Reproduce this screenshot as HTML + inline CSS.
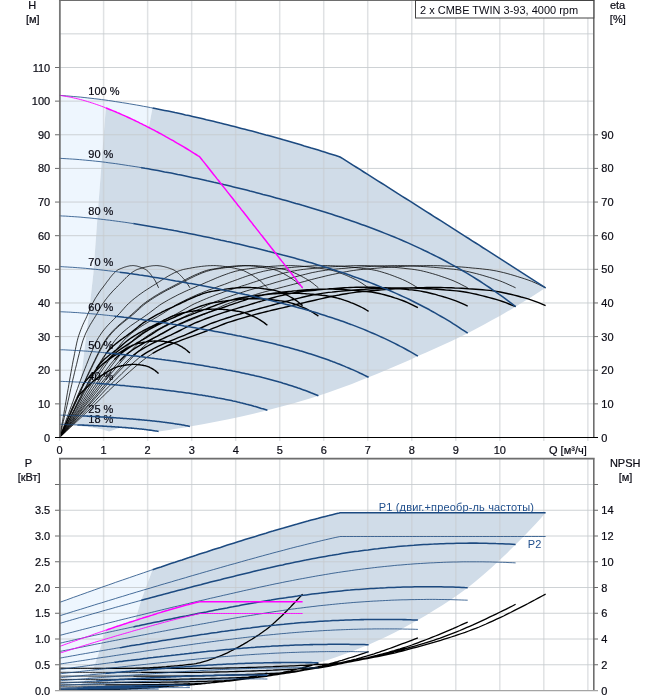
<!DOCTYPE html>
<html lang="ru"><head><meta charset="utf-8"><title>2 x CMBE TWIN 3-93</title>
<style>html,body{margin:0;padding:0;background:#fff}svg{display:block}</style></head>
<body><svg width="658" height="700" viewBox="0 0 658 700">
<rect width="658" height="700" fill="#fff"/>
<path d="M59.6,424.4 L59.6,95.4 L63.1,95.6 L66.6,95.9 L70.1,96.2 L73.6,96.5 L77.1,96.8 L80.6,97.1 L84.1,97.5 L87.6,97.9 L91.1,98.3 L94.6,98.7 L98.1,99.1 L101.6,99.6 L105.1,100.0 L108.5,100.5 L112.0,101.0 L115.5,101.6 L119.0,102.1 L122.5,102.7 L126.0,103.2 L129.5,103.8 L133.0,104.4 L136.5,105.0 L140.0,105.6 L143.5,106.3 L147.0,106.9 L150.5,107.6 L152.5,108.0 L148.8,127.5 L148.8,127.5 L147.0,126.6 L145.3,125.7 L143.5,124.8 L141.8,123.9 L140.0,123.1 L138.3,122.2 L136.5,121.3 L134.8,120.5 L133.0,119.7 L131.3,118.8 L129.5,118.0 L127.8,117.2 L126.0,116.4 L124.3,115.6 L122.5,114.9 L120.8,114.1 L119.0,113.3 L117.3,112.6 L115.5,111.8 L113.8,111.1 L112.0,110.4 L110.3,109.7 L108.5,109.0 L106.8,108.3 L105.8,107.9 L101.2,167.9 L97.0,223.7 L93.4,273.2 L88.6,316.5 L84.1,353.1 L80.5,383.6 L72.0,416.0 L69.1,424.9 L67.2,424.8 L65.3,424.6 L63.4,424.5 L61.5,424.4 L59.6,424.4Z" fill="#eef6fe"/>
<path d="M69.1,424.9 L72.0,416.0 L80.5,383.6 L84.1,353.1 L88.6,316.5 L93.4,273.2 L97.0,223.7 L101.2,167.9 L105.8,107.9 L106.8,108.3 L108.5,109.0 L110.3,109.7 L112.0,110.4 L113.8,111.1 L115.5,111.8 L117.3,112.6 L119.0,113.3 L120.8,114.1 L122.5,114.9 L124.3,115.6 L126.0,116.4 L127.8,117.2 L129.5,118.0 L131.3,118.8 L133.0,119.7 L134.8,120.5 L136.5,121.3 L138.3,122.2 L140.0,123.1 L141.8,123.9 L143.5,124.8 L145.3,125.7 L147.0,126.6 L148.8,127.5 L148.8,127.5 L152.5,108.0 L154.0,108.3 L157.5,109.0 L161.0,109.7 L164.5,110.4 L168.0,111.1 L171.5,111.8 L175.0,112.6 L178.5,113.3 L182.0,114.1 L185.5,114.9 L189.0,115.6 L192.5,116.4 L196.0,117.2 L199.5,118.0 L202.9,118.8 L206.4,119.7 L209.9,120.5 L213.4,121.3 L216.9,122.2 L220.4,123.1 L223.9,123.9 L227.4,124.8 L230.9,125.7 L234.4,126.6 L237.9,127.5 L241.4,128.4 L244.9,129.3 L248.4,130.2 L251.9,131.1 L255.4,132.0 L258.9,133.0 L262.4,133.9 L265.9,134.9 L269.4,135.8 L272.9,136.8 L276.4,137.8 L279.9,138.8 L283.4,139.8 L286.9,140.7 L290.4,141.8 L293.8,142.8 L297.3,143.8 L300.8,144.8 L304.3,145.9 L307.8,146.9 L311.3,148.0 L314.8,149.0 L318.3,150.1 L321.8,151.2 L325.3,152.3 L328.8,153.4 L332.3,154.5 L335.8,155.6 L339.3,156.7 L340.0,157.0 L342.8,158.7 L346.3,160.9 L349.8,163.1 L353.3,165.3 L356.8,167.5 L360.3,169.7 L363.8,172.0 L367.3,174.2 L370.8,176.4 L374.3,178.6 L377.8,180.8 L381.3,183.0 L384.8,185.2 L388.2,187.4 L391.7,189.6 L395.2,191.9 L398.7,194.1 L402.2,196.3 L405.7,198.5 L409.2,200.7 L412.7,202.9 L416.2,205.2 L419.7,207.4 L423.2,209.6 L426.7,211.8 L430.2,214.0 L433.7,216.3 L437.2,218.5 L440.7,220.7 L444.2,222.9 L447.7,225.2 L451.2,227.4 L454.7,229.6 L458.2,231.9 L461.7,234.1 L465.2,236.3 L468.7,238.5 L472.2,240.8 L475.7,243.0 L479.2,245.2 L482.6,247.5 L486.1,249.7 L489.6,251.9 L493.1,254.2 L496.6,256.4 L500.1,258.7 L503.6,260.9 L507.1,263.1 L510.6,265.4 L514.1,267.6 L517.6,269.9 L521.1,272.1 L524.6,274.3 L528.1,276.6 L531.6,278.8 L535.1,281.1 L538.6,283.3 L542.1,285.6 L545.6,287.8 L540.6,291.1 L535.6,294.3 L530.6,297.4 L525.6,300.5 L520.6,303.6 L515.6,306.7 L507.7,311.3 L499.7,315.9 L491.7,320.3 L483.7,324.7 L475.7,329.0 L467.7,333.2 L459.4,337.2 L451.1,341.2 L442.8,345.0 L434.5,348.8 L426.2,352.5 L417.9,356.1 L409.7,359.9 L401.5,363.5 L393.3,367.1 L385.1,370.6 L376.8,374.0 L368.6,377.3 L360.3,380.6 L351.9,383.9 L343.5,387.0 L335.2,390.0 L326.8,393.0 L318.4,395.8 L309.9,398.4 L301.4,400.9 L292.9,403.4 L284.4,405.8 L275.9,408.1 L267.4,410.3 L254.5,413.4 L241.5,416.4 L228.6,419.2 L215.7,421.8 L202.8,424.2 L189.9,426.4 L184.7,427.4 L179.5,428.3 L174.3,429.1 L169.1,429.9 L163.9,430.7 L158.6,431.4 L158.6,431.4 L157.9,431.3 L157.2,431.2 L156.5,431.1 L155.8,431.0 L155.1,430.9 L154.4,430.8 L153.7,430.7 L152.9,430.5 L152.2,430.4 L151.5,430.3 L150.8,430.2 L150.1,430.1 L149.4,430.1 L148.7,430.0 L148.0,429.9 L147.2,429.8 L146.5,429.7 L145.8,429.6 L145.1,429.5 L144.4,429.4 L143.7,429.3 L143.0,429.3 L142.3,429.2 L141.5,429.1 L140.8,429.0 L140.1,428.9 L139.4,428.9 L138.7,428.8 L138.0,428.7 L137.3,428.7 L136.6,428.6 L135.8,428.5 L135.1,428.4 L134.4,428.4 L133.7,428.3 L133.0,428.2 L132.3,428.2 L131.6,428.1 L130.9,428.1 L130.1,428.0 L129.4,427.9 L128.7,427.9 L128.0,427.8 L127.3,427.8 L126.6,427.7 L125.9,427.6 L125.2,427.6 L124.4,427.5 L123.7,427.5 L123.0,427.4 L122.3,427.4 L121.6,427.3 L109.1,431.4 L107.0,430.8 L104.9,430.2 L102.8,429.6 L100.7,429.1 L98.6,428.7 L96.5,428.3 L94.4,427.9 L92.3,427.6 L90.2,427.2 L88.0,427.0 L85.9,426.7 L83.8,426.4 L81.7,426.2 L79.6,425.9 L77.5,425.7 L75.4,425.5 L73.3,425.3 L71.2,425.1Z" fill="#d0dce8"/>
<path d="M59.6,690.5 L59.6,602.4 L63.1,601.1 L66.6,599.9 L70.1,598.6 L73.6,597.3 L77.1,596.1 L80.6,594.8 L84.1,593.6 L87.6,592.3 L91.1,591.1 L94.6,589.8 L98.1,588.6 L101.6,587.3 L105.1,586.1 L108.5,584.9 L112.0,583.7 L115.5,582.4 L119.0,581.2 L122.5,580.0 L126.0,578.8 L129.5,577.6 L133.0,576.4 L136.5,575.2 L140.0,574.0 L143.5,572.8 L147.0,571.6 L150.5,570.4 L152.5,569.7 L141.1,600.4 L135.2,620.5 L134.8,620.6 L133.0,621.2 L131.3,621.7 L129.5,622.3 L127.8,622.9 L126.0,623.5 L124.3,624.0 L122.5,624.6 L120.8,625.2 L119.0,625.8 L117.3,626.3 L115.5,626.9 L113.8,627.5 L112.0,628.1 L110.3,628.7 L108.5,629.3 L106.8,629.9 L105.8,630.2 L101.2,645.2 L97.0,658.6 L93.4,668.5 L88.6,676.2 L84.1,681.8 L80.5,685.6 L72.0,688.9 L69.1,689.5 L67.2,690.5 L65.3,690.5 L63.4,690.5 L61.5,690.5 L59.6,690.5Z" fill="#eef6fe"/>
<path d="M69.1,689.5 L72.0,688.9 L80.5,685.6 L84.1,681.8 L88.6,676.2 L93.4,668.5 L97.0,658.6 L101.2,645.2 L105.8,630.2 L106.8,629.9 L108.5,629.3 L110.3,628.7 L112.0,628.1 L113.8,627.5 L115.5,626.9 L117.3,626.3 L119.0,625.8 L120.8,625.2 L122.5,624.6 L124.3,624.0 L126.0,623.5 L127.8,622.9 L129.5,622.3 L131.3,621.7 L133.0,621.2 L134.8,620.6 L135.2,620.5 L141.1,600.4 L152.5,569.7 L154.0,569.2 L157.5,568.0 L161.0,566.9 L164.5,565.7 L168.0,564.5 L171.5,563.3 L175.0,562.2 L178.5,561.0 L182.0,559.9 L185.5,558.7 L189.0,557.6 L192.5,556.4 L196.0,555.3 L199.5,554.1 L202.9,553.0 L206.4,551.9 L209.9,550.7 L213.4,549.6 L216.9,548.5 L220.4,547.4 L223.9,546.2 L227.4,545.1 L230.9,544.0 L234.4,542.9 L237.9,541.8 L241.4,540.7 L244.9,539.6 L248.4,538.5 L251.9,537.4 L255.4,536.4 L258.9,535.3 L262.4,534.2 L265.9,533.2 L269.4,532.1 L272.9,531.1 L276.4,530.0 L279.9,529.0 L283.4,528.0 L286.9,526.9 L290.4,525.9 L293.8,524.9 L297.3,524.0 L300.8,523.0 L304.3,522.0 L307.8,521.1 L311.3,520.1 L314.8,519.2 L318.3,518.3 L321.8,517.3 L325.3,516.4 L328.8,515.6 L332.3,514.7 L335.8,513.8 L339.3,513.0 L340.0,512.8 L342.8,512.8 L346.3,512.8 L349.8,512.8 L353.3,512.8 L356.8,512.8 L360.3,512.8 L363.8,512.8 L367.3,512.8 L370.8,512.8 L374.3,512.8 L377.8,512.8 L381.3,512.8 L384.8,512.8 L388.2,512.8 L391.7,512.8 L395.2,512.8 L398.7,512.8 L402.2,512.8 L405.7,512.8 L409.2,512.8 L412.7,512.8 L416.2,512.8 L419.7,512.8 L423.2,512.8 L426.7,512.8 L430.2,512.8 L433.7,512.8 L437.2,512.8 L440.7,512.8 L444.2,512.8 L447.7,512.8 L451.2,512.8 L454.7,512.8 L458.2,512.8 L461.7,512.8 L465.2,512.8 L468.7,512.8 L472.2,512.8 L475.7,512.8 L479.2,512.8 L482.6,512.8 L486.1,512.8 L489.6,512.8 L493.1,512.8 L496.6,512.8 L500.1,512.8 L503.6,512.8 L507.1,512.8 L510.6,512.8 L514.1,512.8 L517.6,512.8 L521.1,512.8 L524.6,512.8 L528.1,512.8 L531.6,512.8 L535.1,512.8 L538.6,512.8 L542.1,512.8 L545.6,512.8 L540.6,518.4 L535.6,523.9 L530.6,529.2 L525.6,534.4 L520.6,539.5 L515.6,544.5 L507.7,552.4 L499.7,560.1 L491.7,567.4 L483.7,574.4 L475.7,581.2 L467.7,587.7 L459.4,593.7 L451.1,599.4 L442.8,604.9 L434.5,610.1 L426.2,615.2 L417.9,620.0 L409.7,624.6 L401.5,629.0 L393.3,633.3 L385.1,637.3 L376.8,641.1 L368.6,644.7 L360.3,648.1 L351.9,651.4 L343.5,654.5 L335.2,657.4 L326.8,660.2 L318.4,662.8 L309.9,665.1 L301.4,667.4 L292.9,669.5 L284.4,671.5 L275.9,673.4 L267.4,675.1 L254.5,677.3 L241.5,679.3 L228.6,681.0 L215.7,682.7 L202.8,684.1 L189.9,685.4 L184.7,685.8 L179.5,686.1 L174.3,686.5 L169.1,686.8 L163.9,687.1 L158.6,687.5 L158.6,687.5 L157.9,687.5 L157.2,687.4 L156.5,687.4 L155.8,687.4 L155.1,687.4 L154.4,687.4 L153.7,687.4 L152.9,687.4 L152.2,687.4 L151.5,687.4 L150.8,687.4 L150.1,687.4 L149.4,687.4 L148.7,687.4 L148.0,687.4 L147.2,687.4 L146.5,687.4 L145.8,687.4 L145.1,687.4 L144.4,687.4 L143.7,687.4 L143.0,687.4 L142.3,687.4 L141.5,687.4 L140.8,687.4 L140.1,687.5 L139.4,687.5 L138.7,687.5 L138.0,687.5 L137.3,687.5 L136.6,687.5 L135.8,687.5 L135.1,687.5 L134.4,687.5 L133.7,687.5 L133.0,687.5 L132.3,687.5 L131.6,687.5 L130.9,687.5 L130.1,687.5 L129.4,687.5 L128.7,687.5 L128.0,687.6 L127.3,687.6 L126.6,687.6 L125.9,687.6 L125.2,687.6 L124.4,687.6 L123.7,687.6 L123.0,687.6 L122.3,687.6 L121.6,687.6 L109.1,689.0 L107.0,689.0 L104.9,689.0 L102.8,689.0 L100.7,689.0 L98.6,689.0 L96.5,689.0 L94.4,689.0 L92.3,689.0 L90.2,689.1 L88.0,689.1 L85.9,689.1 L83.8,689.2 L81.7,689.2 L79.6,689.3 L77.5,689.3 L75.4,689.4 L73.3,689.4 L71.2,689.5Z" fill="#d0dce8"/>
<path d="M59.60,0V441 M59.60,458.5V690.5 M103.62,0V441 M103.62,458.5V690.5 M147.64,0V441 M147.64,458.5V690.5 M191.66,0V441 M191.66,458.5V690.5 M235.68,0V441 M235.68,458.5V690.5 M279.70,0V441 M279.70,458.5V690.5 M323.72,0V441 M323.72,458.5V690.5 M367.74,0V441 M367.74,458.5V690.5 M411.76,0V441 M411.76,458.5V690.5 M455.78,0V441 M455.78,458.5V690.5 M499.80,0V441 M499.80,458.5V690.5 M543.82,0V441 M543.82,458.5V690.5 M587.84,0V441 M587.84,458.5V690.5" stroke="#c6cace" stroke-opacity=".55" stroke-width="1.5" fill="none"/>
<path d="M59.6,403.86H593.6 M59.6,370.23H593.6 M59.6,336.59H593.6 M59.6,302.96H593.6 M59.6,269.32H593.6 M59.6,235.68H593.6 M59.6,202.05H593.6 M59.6,168.41H593.6 M59.6,134.78H593.6 M59.6,101.14H593.6 M59.6,67.50H593.6 M59.6,33.87H593.6 M59.6,0.23H593.6 M59.6,664.75H593.6 M59.6,639.00H593.6 M59.6,613.25H593.6 M59.6,587.50H593.6 M59.6,561.75H593.6 M59.6,536.00H593.6 M59.6,510.25H593.6 M59.6,484.50H593.6 M59.6,458.75H593.6" stroke="#c6cace" stroke-opacity=".85" stroke-width="1" fill="none"/>
<g font-family="Liberation Sans, Arial, sans-serif" font-size="11" fill="#0a0a14" stroke="#0a0a14" stroke-width=".2"><text x="88.3" y="95.2">100 %</text><text x="88.3" y="157.6">90 %</text><text x="88.3" y="215.1">80 %</text><text x="88.3" y="265.8">70 %</text><text x="88.3" y="310.7">60 %</text><text x="88.3" y="348.5">50 %</text><text x="88.3" y="379.9">40 %</text><text x="88.3" y="413.4">25 %</text><text x="88.3" y="422.6">18 %</text></g>
<path d="M59.6,437.5 L63.1,433.7 L66.6,429.8 L70.1,426.0 L73.6,422.2 L77.1,418.3 L80.6,414.4 L84.1,410.6 L87.6,406.7 L91.1,402.8 L94.6,398.8 L98.1,394.8 L101.6,390.8 L105.1,386.8 L108.5,382.8 L112.0,378.8 L115.5,375.0 L119.0,371.3 L122.5,367.7 L126.0,364.1 L129.5,360.4 L133.0,356.8 L136.5,353.3 L140.0,349.8 L143.5,346.6 L147.0,343.5 L150.5,340.6 L154.0,338.0 L157.5,335.8 L161.0,333.7 L164.5,331.8 L168.0,329.9 L171.5,328.2 L175.0,326.6 L178.5,325.0 L182.0,323.5 L185.5,322.1 L189.0,320.6 L192.5,319.2 L196.0,317.8 L199.5,316.3 L202.9,314.8 L206.4,313.3 L209.9,311.7 L213.4,310.1 L216.9,308.5 L220.4,306.9 L223.9,305.3 L227.4,303.9 L230.9,302.6 L234.4,301.3 L237.9,300.1 L241.4,299.0 L244.9,297.8 L248.4,296.7 L251.9,295.6 L255.4,294.6 L258.9,293.5 L262.4,292.5 L265.9,291.5 L269.4,290.6 L272.9,289.6 L276.4,288.7 L279.9,287.8 L283.4,286.9 L286.9,286.0 L290.4,285.1 L293.8,284.2 L297.3,283.3 L300.8,282.4 L304.3,281.5 L307.8,280.5 L311.3,279.6 L314.8,278.7 L318.3,277.8 L321.8,277.0 L325.3,276.1 L328.8,275.3 L332.3,274.5 L335.8,273.8 L339.3,273.0 L340.0,272.9 L342.8,272.3 L346.3,271.7 L349.8,271.0 L353.3,270.5 L356.8,270.0 L360.3,269.6 L363.8,269.3 L367.3,269.0 L370.8,268.7 L374.3,268.4 L377.8,268.1 L381.3,267.8 L384.8,267.5 L388.2,267.3 L391.7,267.0 L395.2,266.8 L398.7,266.6 L402.2,266.4 L405.7,266.2 L409.2,266.0 L412.7,265.9 L416.2,265.8 L419.7,265.7 L423.2,265.7 L426.7,265.6 L430.2,265.6 L433.7,265.7 L437.2,265.7 L440.7,265.8 L444.2,266.0 L447.7,266.1 L451.2,266.3 L454.7,266.5 L458.2,266.8 L461.7,267.0 L465.2,267.3 L468.7,267.6 L472.2,268.0 L475.7,268.3 L479.2,268.6 L482.6,269.0 L486.1,269.4 L489.6,269.8 L493.1,270.4 L496.6,271.0 L500.1,271.8 L503.6,272.6 L507.1,273.5 L510.6,274.5 L514.1,275.5 L517.6,276.6 L521.1,277.7 L524.6,278.8 L528.1,280.0 L531.6,281.3 L535.1,282.8 L538.6,284.4 L542.1,286.1 L545.6,287.8 M59.6,437.5 L63.1,434.3 L66.6,431.0 L70.1,427.7 L73.6,424.5 L77.1,421.2 L80.6,417.9 L84.1,414.6 L87.6,411.3 L91.1,408.0 L94.6,404.6 L98.1,401.2 L101.6,397.8 L105.1,394.3 L108.5,390.9 L112.0,387.6 L115.5,384.3 L119.0,381.1 L122.5,378.1 L126.0,374.9 L129.5,371.8 L133.0,368.7 L136.5,365.7 L140.0,362.7 L143.5,359.9 L147.0,357.2 L150.5,354.8 L152.5,353.5 M59.6,437.5 L62.9,433.5 L66.2,429.5 L69.4,425.5 L72.7,421.4 L76.0,417.4 L79.3,413.4 L82.6,409.3 L85.8,405.2 L89.1,401.2 L92.4,397.0 L95.7,392.8 L99.0,388.6 L102.3,384.4 L105.5,380.2 L108.8,376.2 L112.1,372.3 L115.4,368.5 L118.7,364.7 L121.9,360.9 L125.2,357.1 L128.5,353.4 L131.8,349.8 L135.1,346.4 L138.3,343.1 L141.6,340.2 L144.9,337.6 L148.2,335.3 L151.5,333.1 L154.7,331.1 L158.0,329.3 L161.3,327.5 L164.6,325.8 L167.9,324.2 L171.2,322.7 L174.4,321.2 L177.7,319.7 L181.0,318.2 L184.3,316.7 L187.6,315.1 L190.8,313.6 L194.1,311.9 L197.4,310.2 L200.7,308.5 L204.0,306.8 L207.2,305.2 L210.5,303.7 L213.8,302.4 L217.1,301.1 L220.4,299.8 L223.6,298.6 L226.9,297.4 L230.2,296.3 L233.5,295.1 L236.8,294.0 L240.1,293.0 L243.3,291.9 L246.6,290.9 L249.9,289.9 L253.2,289.0 L256.5,288.0 L259.7,287.1 L263.0,286.1 L266.3,285.2 L269.6,284.3 L272.9,283.3 L276.1,282.3 L279.4,281.4 L282.7,280.4 L286.0,279.5 L289.3,278.5 L292.5,277.6 L295.8,276.7 L299.1,275.8 L302.4,275.0 L305.7,274.2 L308.9,273.4 L312.2,272.6 L315.5,272.0 L318.8,271.3 L322.1,270.8 L325.4,270.3 L328.6,269.8 L331.9,269.4 L335.2,269.1 L338.5,268.8 L341.8,268.5 L345.0,268.3 L348.3,268.0 L351.6,267.7 L354.9,267.5 L358.2,267.2 L361.4,267.0 L364.7,266.8 L368.0,266.6 L371.3,266.4 L374.6,266.2 L377.8,266.1 L381.1,265.9 L384.4,265.8 L387.7,265.7 L391.0,265.7 L394.3,265.6 L397.5,265.6 L400.8,265.6 L404.1,265.7 L407.4,265.8 L410.7,265.9 L413.9,266.0 L417.2,266.2 L420.5,266.4 L423.8,266.6 L427.1,266.8 L430.3,267.1 L433.6,267.3 L436.9,267.6 L440.2,267.9 L443.5,268.2 L446.7,268.6 L450.0,268.9 L453.3,269.2 L456.6,269.6 L459.9,270.1 L463.2,270.6 L466.4,271.3 L469.7,272.0 L473.0,272.8 L476.3,273.6 L479.6,274.5 L482.8,275.4 L486.1,276.4 L489.4,277.4 L492.7,278.4 L496.0,279.5 L499.2,280.6 L502.5,281.9 L505.8,283.3 L509.1,284.8 L512.4,286.3 L515.6,287.8 M59.6,437.5 L62.9,434.2 L66.2,430.9 L69.4,427.6 L72.7,424.3 L76.0,420.9 L79.3,417.6 L82.6,414.2 L85.8,410.8 L89.1,407.4 L92.4,403.9 L95.7,400.4 L99.0,396.9 L102.3,393.3 L105.5,389.9 L108.8,386.5 L112.1,383.2 L115.4,380.0 L118.7,376.8 L121.9,373.5 L125.2,370.3 L128.5,367.2 L131.8,364.1 L135.1,361.2 L138.3,358.4 L141.1,356.3 M59.6,437.5 L62.5,433.5 L65.5,429.5 L68.4,425.5 L71.3,421.4 L74.3,417.4 L77.2,413.4 L80.2,409.3 L83.1,405.2 L86.0,401.2 L89.0,397.0 L91.9,392.8 L94.8,388.6 L97.8,384.4 L100.7,380.2 L103.6,376.2 L106.6,372.3 L109.5,368.5 L112.4,364.7 L115.4,360.9 L118.3,357.1 L121.3,353.4 L124.2,349.8 L127.1,346.4 L130.1,343.1 L133.0,340.2 L135.9,337.6 L138.9,335.3 L141.8,333.1 L144.7,331.1 L147.7,329.3 L150.6,327.5 L153.5,325.8 L156.5,324.2 L159.4,322.7 L162.4,321.2 L165.3,319.7 L168.2,318.2 L171.2,316.7 L174.1,315.1 L177.0,313.6 L180.0,311.9 L182.9,310.2 L185.8,308.5 L188.8,306.8 L191.7,305.2 L194.6,303.7 L197.6,302.4 L200.5,301.1 L203.5,299.8 L206.4,298.6 L209.3,297.4 L212.3,296.3 L215.2,295.1 L218.1,294.0 L221.1,293.0 L224.0,291.9 L226.9,290.9 L229.9,289.9 L232.8,289.0 L235.7,288.0 L238.7,287.1 L241.6,286.1 L244.6,285.2 L247.5,284.3 L250.4,283.3 L253.4,282.3 L256.3,281.4 L259.2,280.4 L262.2,279.5 L265.1,278.5 L268.0,277.6 L271.0,276.7 L273.9,275.8 L276.8,275.0 L279.8,274.2 L282.7,273.4 L285.7,272.6 L288.6,272.0 L291.5,271.3 L294.5,270.8 L297.4,270.3 L300.3,269.8 L303.3,269.4 L306.2,269.1 L309.1,268.8 L312.1,268.5 L315.0,268.3 L317.9,268.0 L320.9,267.7 L323.8,267.5 L326.8,267.2 L329.7,267.0 L332.6,266.8 L335.6,266.6 L338.5,266.4 L341.4,266.2 L344.4,266.1 L347.3,265.9 L350.2,265.8 L353.2,265.7 L356.1,265.7 L359.0,265.6 L362.0,265.6 L364.9,265.6 L367.9,265.7 L370.8,265.8 L373.7,265.9 L376.7,266.0 L379.6,266.2 L382.5,266.4 L385.5,266.6 L388.4,266.8 L391.3,267.1 L394.3,267.3 L397.2,267.6 L400.1,267.9 L403.1,268.2 L406.0,268.6 L409.0,268.9 L411.9,269.2 L414.8,269.6 L417.8,270.1 L420.7,270.6 L423.6,271.3 L426.6,272.0 L429.5,272.8 L432.4,273.6 L435.4,274.5 L438.3,275.4 L441.2,276.4 L444.2,277.4 L447.1,278.4 L450.1,279.5 L453.0,280.6 L455.9,281.9 L458.9,283.3 L461.8,284.8 L464.7,286.3 L467.7,287.8 M59.6,437.5 L62.5,434.2 L65.5,430.9 L68.4,427.5 L71.3,424.2 L74.3,420.8 L77.2,417.5 L80.2,414.1 L83.1,410.7 L86.0,407.3 L89.0,403.8 L91.9,400.2 L94.8,396.7 L97.8,393.1 L100.7,389.7 L103.6,386.2 L106.6,382.9 L109.5,379.7 L112.4,376.5 L115.4,373.2 L118.3,370.0 L121.3,366.8 L124.2,363.8 L127.1,360.8 L130.1,358.1 L133.0,355.5 L133.3,355.3 M59.6,437.5 L62.2,433.5 L64.8,429.5 L67.3,425.5 L69.9,421.4 L72.5,417.4 L75.1,413.4 L77.6,409.3 L80.2,405.2 L82.8,401.2 L85.4,397.0 L88.0,392.8 L90.5,388.6 L93.1,384.4 L95.7,380.2 L98.3,376.2 L100.8,372.3 L103.4,368.5 L106.0,364.7 L108.6,360.9 L111.2,357.1 L113.7,353.4 L116.3,349.8 L118.9,346.4 L121.5,343.1 L124.0,340.2 L126.6,337.6 L129.2,335.3 L131.8,333.1 L134.4,331.1 L136.9,329.3 L139.5,327.5 L142.1,325.8 L144.7,324.2 L147.2,322.7 L149.8,321.2 L152.4,319.7 L155.0,318.2 L157.6,316.7 L160.1,315.1 L162.7,313.6 L165.3,311.9 L167.9,310.2 L170.4,308.5 L173.0,306.8 L175.6,305.2 L178.2,303.7 L180.8,302.4 L183.3,301.1 L185.9,299.8 L188.5,298.6 L191.1,297.4 L193.6,296.3 L196.2,295.1 L198.8,294.0 L201.4,293.0 L204.0,291.9 L206.5,290.9 L209.1,289.9 L211.7,289.0 L214.3,288.0 L216.8,287.1 L219.4,286.1 L222.0,285.2 L224.6,284.3 L227.2,283.3 L229.7,282.3 L232.3,281.4 L234.9,280.4 L237.5,279.5 L240.1,278.5 L242.6,277.6 L245.2,276.7 L247.8,275.8 L250.4,275.0 L252.9,274.2 L255.5,273.4 L258.1,272.6 L260.7,272.0 L263.3,271.3 L265.8,270.8 L268.4,270.3 L271.0,269.8 L273.6,269.4 L276.1,269.1 L278.7,268.8 L281.3,268.5 L283.9,268.3 L286.5,268.0 L289.0,267.7 L291.6,267.5 L294.2,267.2 L296.8,267.0 L299.3,266.8 L301.9,266.6 L304.5,266.4 L307.1,266.2 L309.7,266.1 L312.2,265.9 L314.8,265.8 L317.4,265.7 L320.0,265.7 L322.5,265.6 L325.1,265.6 L327.7,265.6 L330.3,265.7 L332.9,265.8 L335.4,265.9 L338.0,266.0 L340.6,266.2 L343.2,266.4 L345.7,266.6 L348.3,266.8 L350.9,267.1 L353.5,267.3 L356.1,267.6 L358.6,267.9 L361.2,268.2 L363.8,268.6 L366.4,268.9 L368.9,269.2 L371.5,269.6 L374.1,270.1 L376.7,270.6 L379.3,271.3 L381.8,272.0 L384.4,272.8 L387.0,273.6 L389.6,274.5 L392.1,275.4 L394.7,276.4 L397.3,277.4 L399.9,278.4 L402.5,279.5 L405.0,280.6 L407.6,281.9 L410.2,283.3 L412.8,284.8 L415.3,286.3 L417.9,287.8 M59.6,437.5 L62.2,434.2 L64.8,431.0 L67.3,427.7 L69.9,424.4 L72.5,421.0 L75.1,417.7 L77.6,414.4 L80.2,411.0 L82.8,407.6 L85.4,404.2 L88.0,400.7 L90.5,397.2 L93.1,393.7 L95.7,390.3 L98.3,386.9 L100.8,383.6 L103.4,380.4 L106.0,377.3 L108.6,374.0 L111.2,370.9 L113.7,367.7 L116.3,364.7 L118.9,361.8 L119.6,361.0 M59.6,437.5 L61.8,433.5 L64.0,429.5 L66.3,425.5 L68.5,421.4 L70.7,417.4 L72.9,413.4 L75.2,409.3 L77.4,405.2 L79.6,401.2 L81.8,397.0 L84.1,392.8 L86.3,388.6 L88.5,384.4 L90.7,380.2 L92.9,376.2 L95.2,372.3 L97.4,368.5 L99.6,364.7 L101.8,360.9 L104.1,357.1 L106.3,353.4 L108.5,349.8 L110.7,346.4 L113.0,343.1 L115.2,340.2 L117.4,337.6 L119.6,335.3 L121.8,333.1 L124.1,331.1 L126.3,329.3 L128.5,327.5 L130.7,325.8 L133.0,324.2 L135.2,322.7 L137.4,321.2 L139.6,319.7 L141.9,318.2 L144.1,316.7 L146.3,315.1 L148.5,313.6 L150.7,311.9 L153.0,310.2 L155.2,308.5 L157.4,306.8 L159.6,305.2 L161.9,303.7 L164.1,302.4 L166.3,301.1 L168.5,299.8 L170.8,298.6 L173.0,297.4 L175.2,296.3 L177.4,295.1 L179.7,294.0 L181.9,293.0 L184.1,291.9 L186.3,290.9 L188.5,289.9 L190.8,289.0 L193.0,288.0 L195.2,287.1 L197.4,286.1 L199.7,285.2 L201.9,284.3 L204.1,283.3 L206.3,282.3 L208.6,281.4 L210.8,280.4 L213.0,279.5 L215.2,278.5 L217.4,277.6 L219.7,276.7 L221.9,275.8 L224.1,275.0 L226.3,274.2 L228.6,273.4 L230.8,272.6 L233.0,272.0 L235.2,271.3 L237.5,270.8 L239.7,270.3 L241.9,269.8 L244.1,269.4 L246.3,269.1 L248.6,268.8 L250.8,268.5 L253.0,268.3 L255.2,268.0 L257.5,267.7 L259.7,267.5 L261.9,267.2 L264.1,267.0 L266.4,266.8 L268.6,266.6 L270.8,266.4 L273.0,266.2 L275.2,266.1 L277.5,265.9 L279.7,265.8 L281.9,265.7 L284.1,265.7 L286.4,265.6 L288.6,265.6 L290.8,265.6 L293.0,265.7 L295.3,265.8 L297.5,265.9 L299.7,266.0 L301.9,266.2 L304.1,266.4 L306.4,266.6 L308.6,266.8 L310.8,267.1 L313.0,267.3 L315.3,267.6 L317.5,267.9 L319.7,268.2 L321.9,268.6 L324.2,268.9 L326.4,269.2 L328.6,269.6 L330.8,270.1 L333.0,270.6 L335.3,271.3 L337.5,272.0 L339.7,272.8 L341.9,273.6 L344.2,274.5 L346.4,275.4 L348.6,276.4 L350.8,277.4 L353.1,278.4 L355.3,279.5 L357.5,280.6 L359.7,281.9 L362.0,283.3 L364.2,284.8 L366.4,286.3 L368.6,287.8 M59.6,437.5 L61.8,434.3 L64.0,431.1 L66.3,427.9 L68.5,424.7 L70.7,421.5 L72.9,418.3 L75.2,415.0 L77.4,411.8 L79.6,408.5 L81.8,405.1 L84.1,401.7 L86.3,398.3 L88.5,394.9 L90.7,391.6 L92.9,388.3 L95.2,385.1 L97.4,382.0 L99.6,378.9 L101.8,375.8 L104.1,372.7 L106.3,369.7 L108.5,366.7 L110.7,363.9 L113.0,361.2 L114.3,359.7 M59.6,437.5 L61.5,433.5 L63.3,429.5 L65.2,425.5 L67.0,421.4 L68.9,417.4 L70.8,413.4 L72.6,409.3 L74.5,405.2 L76.4,401.2 L78.2,397.0 L80.1,392.8 L81.9,388.6 L83.8,384.4 L85.7,380.2 L87.5,376.2 L89.4,372.3 L91.3,368.5 L93.1,364.7 L95.0,360.9 L96.8,357.1 L98.7,353.4 L100.6,349.8 L102.4,346.4 L104.3,343.1 L106.2,340.2 L108.0,337.6 L109.9,335.3 L111.7,333.1 L113.6,331.1 L115.5,329.3 L117.3,327.5 L119.2,325.8 L121.1,324.2 L122.9,322.7 L124.8,321.2 L126.6,319.7 L128.5,318.2 L130.4,316.7 L132.2,315.1 L134.1,313.6 L135.9,311.9 L137.8,310.2 L139.7,308.5 L141.5,306.8 L143.4,305.2 L145.3,303.7 L147.1,302.4 L149.0,301.1 L150.8,299.8 L152.7,298.6 L154.6,297.4 L156.4,296.3 L158.3,295.1 L160.2,294.0 L162.0,293.0 L163.9,291.9 L165.7,290.9 L167.6,289.9 L169.5,289.0 L171.3,288.0 L173.2,287.1 L175.1,286.1 L176.9,285.2 L178.8,284.3 L180.6,283.3 L182.5,282.3 L184.4,281.4 L186.2,280.4 L188.1,279.5 L189.9,278.5 L191.8,277.6 L193.7,276.7 L195.5,275.8 L197.4,275.0 L199.3,274.2 L201.1,273.4 L203.0,272.6 L204.8,272.0 L206.7,271.3 L208.6,270.8 L210.4,270.3 L212.3,269.8 L214.2,269.4 L216.0,269.1 L217.9,268.8 L219.7,268.5 L221.6,268.3 L223.5,268.0 L225.3,267.7 L227.2,267.5 L229.1,267.2 L230.9,267.0 L232.8,266.8 L234.6,266.6 L236.5,266.4 L238.4,266.2 L240.2,266.1 L242.1,265.9 L244.0,265.8 L245.8,265.7 L247.7,265.7 L249.5,265.6 L251.4,265.6 L253.3,265.6 L255.1,265.7 L257.0,265.8 L258.8,265.9 L260.7,266.0 L262.6,266.2 L264.4,266.4 L266.3,266.6 L268.2,266.8 L270.0,267.1 L271.9,267.3 L273.7,267.6 L275.6,267.9 L277.5,268.2 L279.3,268.6 L281.2,268.9 L283.1,269.2 L284.9,269.6 L286.8,270.1 L288.6,270.6 L290.5,271.3 L292.4,272.0 L294.2,272.8 L296.1,273.6 L298.0,274.5 L299.8,275.4 L301.7,276.4 L303.5,277.4 L305.4,278.4 L307.3,279.5 L309.1,280.6 L311.0,281.9 L312.9,283.3 L314.7,284.8 L316.6,286.3 L318.4,287.8 M59.6,437.5 L61.5,434.4 L63.3,431.4 L65.2,428.3 L67.0,425.2 L68.9,422.1 L70.8,419.0 L72.6,415.9 L74.5,412.7 L76.4,409.6 L78.2,406.3 L80.1,403.1 L81.9,399.8 L83.8,396.5 L85.7,393.3 L87.5,390.1 L89.4,387.1 L91.3,384.1 L93.1,381.2 L95.0,378.1 L96.8,375.2 L98.7,372.2 L100.6,369.4 L102.4,366.7 L104.3,364.1 L105.3,362.8 M59.6,437.5 L61.1,433.5 L62.6,429.5 L64.1,425.5 L65.6,421.4 L67.1,417.4 L68.6,413.4 L70.1,409.3 L71.6,405.2 L73.1,401.2 L74.5,397.0 L76.0,392.8 L77.5,388.6 L79.0,384.4 L80.5,380.2 L82.0,376.2 L83.5,372.3 L85.0,368.5 L86.5,364.7 L88.0,360.9 L89.5,357.1 L91.0,353.4 L92.5,349.8 L94.0,346.4 L95.5,343.1 L97.0,340.2 L98.5,337.6 L100.0,335.3 L101.5,333.1 L102.9,331.1 L104.4,329.3 L105.9,327.5 L107.4,325.8 L108.9,324.2 L110.4,322.7 L111.9,321.2 L113.4,319.7 L114.9,318.2 L116.4,316.7 L117.9,315.1 L119.4,313.6 L120.9,311.9 L122.4,310.2 L123.9,308.5 L125.4,306.8 L126.9,305.2 L128.4,303.7 L129.9,302.4 L131.3,301.1 L132.8,299.8 L134.3,298.6 L135.8,297.4 L137.3,296.3 L138.8,295.1 L140.3,294.0 L141.8,293.0 L143.3,291.9 L144.8,290.9 L146.3,289.9 L147.8,289.0 L149.3,288.0 L150.8,287.1 L152.3,286.1 L153.8,285.2 L155.3,284.3 L156.8,283.3 L158.3,282.3 L159.8,281.4 L161.2,280.4 L162.7,279.5 L164.2,278.5 L165.7,277.6 L167.2,276.7 L168.7,275.8 L170.2,275.0 L171.7,274.2 L173.2,273.4 L174.7,272.6 L176.2,272.0 L177.7,271.3 L179.2,270.8 L180.7,270.3 L182.2,269.8 L183.7,269.4 L185.2,269.1 L186.7,268.8 L188.2,268.5 L189.6,268.3 L191.1,268.0 L192.6,267.7 L194.1,267.5 L195.6,267.2 L197.1,267.0 L198.6,266.8 L200.1,266.6 L201.6,266.4 L203.1,266.2 L204.6,266.1 L206.1,265.9 L207.6,265.8 L209.1,265.7 L210.6,265.7 L212.1,265.6 L213.6,265.6 L215.1,265.6 L216.6,265.7 L218.0,265.8 L219.5,265.9 L221.0,266.0 L222.5,266.2 L224.0,266.4 L225.5,266.6 L227.0,266.8 L228.5,267.1 L230.0,267.3 L231.5,267.6 L233.0,267.9 L234.5,268.2 L236.0,268.6 L237.5,268.9 L239.0,269.2 L240.5,269.6 L242.0,270.1 L243.5,270.6 L245.0,271.3 L246.4,272.0 L247.9,272.8 L249.4,273.6 L250.9,274.5 L252.4,275.4 L253.9,276.4 L255.4,277.4 L256.9,278.4 L258.4,279.5 L259.9,280.6 L261.4,281.9 L262.9,283.3 L264.4,284.8 L265.9,286.3 L267.4,287.8 M59.6,437.5 L61.1,434.7 L62.6,431.8 L64.1,429.0 L65.6,426.1 L67.1,423.3 L68.6,420.4 L70.1,417.5 L71.6,414.6 L73.1,411.7 L74.5,408.7 L76.0,405.7 L77.5,402.6 L79.0,399.6 L80.5,396.6 L82.0,393.7 L83.5,390.9 L85.0,388.1 L86.5,385.4 L88.0,382.6 L89.5,379.8 L91.0,377.1 L92.5,374.5 L94.0,372.0 L95.5,369.6 L96.2,368.6 M59.6,437.5 L60.5,433.5 L61.5,429.5 L62.4,425.5 L63.3,421.4 L64.3,417.4 L65.2,413.4 L66.2,409.3 L67.1,405.2 L68.0,401.2 L69.0,397.0 L69.9,392.8 L70.8,388.6 L71.8,384.4 L72.7,380.2 L73.7,376.2 L74.6,372.3 L75.5,368.5 L76.5,364.7 L77.4,360.9 L78.3,357.1 L79.3,353.4 L80.2,349.8 L81.2,346.4 L82.1,343.1 L83.0,340.2 L84.0,337.6 L84.9,335.3 L85.8,333.1 L86.8,331.1 L87.7,329.3 L88.7,327.5 L89.6,325.8 L90.5,324.2 L91.5,322.7 L92.4,321.2 L93.3,319.7 L94.3,318.2 L95.2,316.7 L96.2,315.1 L97.1,313.6 L98.0,311.9 L99.0,310.2 L99.9,308.5 L100.8,306.8 L101.8,305.2 L102.7,303.7 L103.7,302.4 L104.6,301.1 L105.5,299.8 L106.5,298.6 L107.4,297.4 L108.3,296.3 L109.3,295.1 L110.2,294.0 L111.2,293.0 L112.1,291.9 L113.0,290.9 L114.0,289.9 L114.9,289.0 L115.8,288.0 L116.8,287.1 L117.7,286.1 L118.7,285.2 L119.6,284.3 L120.5,283.3 L121.5,282.3 L122.4,281.4 L123.3,280.4 L124.3,279.5 L125.2,278.5 L126.2,277.6 L127.1,276.7 L128.0,275.8 L129.0,275.0 L129.9,274.2 L130.8,273.4 L131.8,272.6 L132.7,272.0 L133.7,271.3 L134.6,270.8 L135.5,270.3 L136.5,269.8 L137.4,269.4 L138.3,269.1 L139.3,268.8 L140.2,268.5 L141.2,268.3 L142.1,268.0 L143.0,267.7 L144.0,267.5 L144.9,267.2 L145.8,267.0 L146.8,266.8 L147.7,266.6 L148.7,266.4 L149.6,266.2 L150.5,266.1 L151.5,265.9 L152.4,265.8 L153.3,265.7 L154.3,265.7 L155.2,265.6 L156.2,265.6 L157.1,265.6 L158.0,265.7 L159.0,265.8 L159.9,265.9 L160.8,266.0 L161.8,266.2 L162.7,266.4 L163.7,266.6 L164.6,266.8 L165.5,267.1 L166.5,267.3 L167.4,267.6 L168.3,267.9 L169.3,268.2 L170.2,268.6 L171.2,268.9 L172.1,269.2 L173.0,269.6 L174.0,270.1 L174.9,270.6 L175.8,271.3 L176.8,272.0 L177.7,272.8 L178.7,273.6 L179.6,274.5 L180.5,275.4 L181.5,276.4 L182.4,277.4 L183.3,278.4 L184.3,279.5 L185.2,280.6 L186.1,281.9 L187.1,283.3 L188.0,284.8 L189.0,286.3 L189.9,287.8 M59.6,437.5 L60.5,435.4 L61.5,433.2 L62.4,431.1 L63.3,429.0 L64.3,426.8 L65.2,424.6 L66.2,422.5 L67.1,420.3 L68.0,418.1 L69.0,415.8 L69.9,413.6 L70.8,411.3 L71.8,409.0 L72.7,406.8 L73.7,404.6 L74.6,402.4 L75.5,400.4 L76.5,398.3 L77.4,396.2 L78.3,394.1 L79.3,392.1 L80.2,390.1 L81.2,388.2 L82.1,386.5 L82.7,385.5 M59.6,437.5 L60.3,433.5 L61.0,429.5 L61.7,425.5 L62.5,421.4 L63.2,417.4 L63.9,413.4 L64.6,409.3 L65.3,405.2 L66.0,401.2 L66.7,397.0 L67.4,392.8 L68.2,388.6 L68.9,384.4 L69.6,380.2 L70.3,376.2 L71.0,372.3 L71.7,368.5 L72.4,364.7 L73.1,360.9 L73.9,357.1 L74.6,353.4 L75.3,349.8 L76.0,346.4 L76.7,343.1 L77.4,340.2 L78.1,337.6 L78.8,335.3 L79.6,333.1 L80.3,331.1 L81.0,329.3 L81.7,327.5 L82.4,325.8 L83.1,324.2 L83.8,322.7 L84.5,321.2 L85.3,319.7 L86.0,318.2 L86.7,316.7 L87.4,315.1 L88.1,313.6 L88.8,311.9 L89.5,310.2 L90.2,308.5 L91.0,306.8 L91.7,305.2 L92.4,303.7 L93.1,302.4 L93.8,301.1 L94.5,299.8 L95.2,298.6 L95.9,297.4 L96.7,296.3 L97.4,295.1 L98.1,294.0 L98.8,293.0 L99.5,291.9 L100.2,290.9 L100.9,289.9 L101.6,289.0 L102.4,288.0 L103.1,287.1 L103.8,286.1 L104.5,285.2 L105.2,284.3 L105.9,283.3 L106.6,282.3 L107.3,281.4 L108.1,280.4 L108.8,279.5 L109.5,278.5 L110.2,277.6 L110.9,276.7 L111.6,275.8 L112.3,275.0 L113.0,274.2 L113.8,273.4 L114.5,272.6 L115.2,272.0 L115.9,271.3 L116.6,270.8 L117.3,270.3 L118.0,269.8 L118.7,269.4 L119.5,269.1 L120.2,268.8 L120.9,268.5 L121.6,268.3 L122.3,268.0 L123.0,267.7 L123.7,267.5 L124.4,267.2 L125.2,267.0 L125.9,266.8 L126.6,266.6 L127.3,266.4 L128.0,266.2 L128.7,266.1 L129.4,265.9 L130.1,265.8 L130.9,265.7 L131.6,265.7 L132.3,265.6 L133.0,265.6 L133.7,265.6 L134.4,265.7 L135.1,265.8 L135.8,265.9 L136.6,266.0 L137.3,266.2 L138.0,266.4 L138.7,266.6 L139.4,266.8 L140.1,267.1 L140.8,267.3 L141.5,267.6 L142.3,267.9 L143.0,268.2 L143.7,268.6 L144.4,268.9 L145.1,269.2 L145.8,269.6 L146.5,270.1 L147.2,270.6 L148.0,271.3 L148.7,272.0 L149.4,272.8 L150.1,273.6 L150.8,274.5 L151.5,275.4 L152.2,276.4 L152.9,277.4 L153.7,278.4 L154.4,279.5 L155.1,280.6 L155.8,281.9 L156.5,283.3 L157.2,284.8 L157.9,286.3 L158.6,287.8 M59.6,437.5 L60.3,435.9 L61.0,434.3 L61.7,432.7 L62.5,431.0 L63.2,429.4 L63.9,427.8 L64.6,426.1 L65.3,424.5 L66.0,422.8 L66.7,421.1 L67.4,419.4 L68.2,417.6 L68.9,415.9 L69.6,414.2 L70.3,412.6 L71.0,411.0 L71.7,409.4 L72.4,407.8 L73.1,406.3 L73.9,404.7 L74.6,403.1 L75.3,401.6 L76.0,400.2 L76.7,398.9 L77.3,397.9 M59.6,437.5 L61.3,433.7 L63.1,429.8 L64.8,426.0 L66.6,422.2 L68.3,418.3 L70.1,414.4 L71.8,410.6 L73.6,406.7 L75.3,402.8 L77.1,398.8 L78.8,394.8 L80.6,390.8 L82.3,386.8 L84.1,382.8 L85.8,378.8 L87.6,375.0 L89.3,371.3 L91.1,367.7 L92.8,364.1 L94.6,360.4 L96.3,356.8 L98.1,353.3 L99.8,349.8 L101.6,346.6 L103.3,343.5 L105.1,340.6 L106.8,338.0 L108.5,335.8 L110.3,333.7 L112.0,331.8 L113.8,329.9 L115.5,328.2 L117.3,326.6 L119.0,325.0 L120.8,323.5 L122.5,322.1 L124.3,320.6 L126.0,319.2 L127.8,317.8 L129.5,316.3 L131.3,314.8 L133.0,313.3 L134.8,311.7 L136.5,310.1 L138.3,308.5 L140.0,306.9 L141.8,305.3 L143.5,303.9 L145.3,302.6 L147.0,301.3 L148.8,300.1 L150.5,299.0 L152.3,297.8 L154.0,296.7 L155.7,295.6 L157.5,294.6 L159.2,293.5 L161.0,292.5 L162.7,291.5 L164.5,290.6 L166.2,289.6 L168.0,288.7 L169.7,287.8 L171.5,286.9 L173.2,286.0 L175.0,285.1 L176.7,284.2 L178.5,283.3 L180.2,282.4 L182.0,281.5 L183.7,280.5 L185.5,279.6 L187.2,278.7 L189.0,277.8 L190.7,277.0 L192.5,276.1 L194.2,275.3 L196.0,274.5 L197.7,273.8 L199.5,273.0 L199.8,272.9 L201.2,272.3 L202.9,271.7 L204.7,271.0 L206.4,270.5 L208.2,270.0 L209.9,269.6 L211.7,269.3 L213.4,269.0 L215.2,268.7 L216.9,268.4 L218.7,268.1 L220.4,267.8 L222.2,267.5 L223.9,267.3 L225.7,267.0 L227.4,266.8 L229.2,266.6 L230.9,266.4 L232.7,266.2 L234.4,266.0 L236.2,265.9 L237.9,265.8 L239.7,265.7 L241.4,265.7 L243.2,265.6 L244.9,265.6 L246.7,265.7 L248.4,265.7 L250.1,265.8 L251.9,266.0 L253.6,266.1 L255.4,266.3 L257.1,266.5 L258.9,266.8 L260.6,267.0 L262.4,267.3 L264.1,267.6 L265.9,268.0 L267.6,268.3 L269.4,268.6 L271.1,269.0 L272.9,269.4 L274.6,269.8 L276.4,270.4 L278.1,271.0 L279.9,271.8 L281.6,272.6 L283.4,273.5 L285.1,274.5 L286.9,275.5 L288.6,276.6 L290.4,277.7 L292.1,278.8 L293.8,280.0 L295.6,281.3 L297.3,282.8 L299.1,284.4 L300.8,286.1 L302.6,287.8 M59.6,437.5 L61.3,434.3 L63.1,431.0 L64.8,427.7 L66.6,424.5 L68.3,421.2 L70.1,417.9 L71.8,414.6 L73.6,411.3 L75.3,408.0 L77.1,404.6 L78.8,401.2 L80.6,397.8 L82.3,394.3 L84.1,390.9 L85.8,387.6 L87.6,384.3 L89.3,381.1 L91.1,378.1 L92.8,374.9 L94.6,371.8 L96.3,368.7 L98.1,365.7 L99.8,362.7 L101.6,359.9 L103.3,357.2 L105.1,354.8 L105.8,353.8" stroke="#000" stroke-opacity=".9" stroke-width=".85" fill="none"/>
<path d="M152.5,353.5 L154.0,352.6 L157.5,350.6 L161.0,348.8 L164.5,347.1 L168.0,345.5 L171.5,344.0 L175.0,342.6 L178.5,341.3 L182.0,339.9 L185.5,338.7 L189.0,337.4 L192.5,336.2 L196.0,334.9 L199.5,333.6 L202.9,332.3 L206.4,331.0 L209.9,329.6 L213.4,328.2 L216.9,326.8 L220.4,325.4 L223.9,324.0 L227.4,322.7 L230.9,321.6 L234.4,320.5 L237.9,319.4 L241.4,318.4 L244.9,317.3 L248.4,316.3 L251.9,315.4 L255.4,314.4 L258.9,313.5 L262.4,312.6 L265.9,311.7 L269.4,310.9 L272.9,310.0 L276.4,309.2 L279.9,308.4 L283.4,307.6 L286.9,306.8 L290.4,305.9 L293.8,305.1 L297.3,304.3 L300.8,303.5 L304.3,302.6 L307.8,301.8 L311.3,301.0 L314.8,300.2 L318.3,299.4 L321.8,298.6 L325.3,297.8 L328.8,297.0 L332.3,296.3 L335.8,295.6 L339.3,295.0 L340.0,294.8 L342.8,294.3 L346.3,293.7 L349.8,293.1 L353.3,292.6 L356.8,292.1 L360.3,291.7 L363.8,291.4 L367.3,291.1 L370.8,290.8 L374.3,290.5 L377.8,290.2 L381.3,289.9 L384.8,289.6 L388.2,289.4 L391.7,289.1 L395.2,288.9 L398.7,288.7 L402.2,288.5 L405.7,288.3 L409.2,288.1 L412.7,287.9 L416.2,287.8 L419.7,287.7 L423.2,287.6 L426.7,287.5 L430.2,287.5 L433.7,287.4 L437.2,287.5 L440.7,287.5 L444.2,287.6 L447.7,287.7 L451.2,287.8 L454.7,288.0 L458.2,288.1 L461.7,288.3 L465.2,288.5 L468.7,288.8 L472.2,289.0 L475.7,289.2 L479.2,289.5 L482.6,289.8 L486.1,290.1 L489.6,290.4 L493.1,290.9 L496.6,291.4 L500.1,292.0 L503.6,292.7 L507.1,293.5 L510.6,294.3 L514.1,295.1 L517.6,296.0 L521.1,297.0 L524.6,297.9 L528.1,298.9 L531.6,300.1 L535.1,301.3 L538.6,302.7 L542.1,304.1 L545.6,305.6 M141.1,356.3 L141.6,355.9 L144.9,353.6 L148.2,351.6 L151.5,349.8 L154.7,348.0 L158.0,346.4 L161.3,344.8 L164.6,343.4 L167.9,342.0 L171.2,340.6 L174.4,339.3 L177.7,337.9 L181.0,336.6 L184.3,335.3 L187.6,333.9 L190.8,332.5 L194.1,331.0 L197.4,329.5 L200.7,328.0 L204.0,326.5 L207.2,325.1 L210.5,323.7 L213.8,322.5 L217.1,321.3 L220.4,320.2 L223.6,319.1 L226.9,318.0 L230.2,317.0 L233.5,315.9 L236.8,314.9 L240.1,314.0 L243.3,313.0 L246.6,312.1 L249.9,311.2 L253.2,310.3 L256.5,309.4 L259.7,308.5 L263.0,307.6 L266.3,306.8 L269.6,305.9 L272.9,305.0 L276.1,304.1 L279.4,303.2 L282.7,302.4 L286.0,301.5 L289.3,300.6 L292.5,299.7 L295.8,298.9 L299.1,298.1 L302.4,297.3 L305.7,296.5 L308.9,295.8 L312.2,295.1 L315.5,294.5 L318.8,293.9 L322.1,293.4 L325.4,292.9 L328.6,292.4 L331.9,292.1 L335.2,291.7 L338.5,291.4 L341.8,291.1 L345.0,290.8 L348.3,290.5 L351.6,290.3 L354.9,290.0 L358.2,289.7 L361.4,289.5 L364.7,289.3 L368.0,289.0 L371.3,288.8 L374.6,288.6 L377.8,288.5 L381.1,288.3 L384.4,288.2 L387.7,288.1 L391.0,288.0 L394.3,287.9 L397.5,287.9 L400.8,287.9 L404.1,287.9 L407.4,287.9 L410.7,288.0 L413.9,288.1 L417.2,288.2 L420.5,288.3 L423.8,288.5 L427.1,288.7 L430.3,288.9 L433.6,289.1 L436.9,289.3 L440.2,289.5 L443.5,289.8 L446.7,290.1 L450.0,290.3 L453.3,290.6 L456.6,290.9 L459.9,291.3 L463.2,291.8 L466.4,292.3 L469.7,292.9 L473.0,293.6 L476.3,294.3 L479.6,295.1 L482.8,295.9 L486.1,296.7 L489.4,297.6 L492.7,298.5 L496.0,299.4 L499.2,300.4 L502.5,301.5 L505.8,302.7 L509.1,304.0 L512.4,305.3 L515.6,306.7 M133.3,355.3 L135.9,353.2 L138.9,351.2 L141.8,349.4 L144.7,347.6 L147.7,346.0 L150.6,344.4 L153.5,342.9 L156.5,341.5 L159.4,340.1 L162.4,338.8 L165.3,337.5 L168.2,336.1 L171.2,334.8 L174.1,333.4 L177.0,332.0 L180.0,330.5 L182.9,329.0 L185.8,327.5 L188.8,326.0 L191.7,324.6 L194.6,323.2 L197.6,322.0 L200.5,320.8 L203.5,319.7 L206.4,318.5 L209.3,317.5 L212.3,316.4 L215.2,315.4 L218.1,314.4 L221.1,313.4 L224.0,312.4 L226.9,311.5 L229.9,310.6 L232.8,309.7 L235.7,308.8 L238.7,307.9 L241.6,307.0 L244.6,306.2 L247.5,305.3 L250.4,304.4 L253.4,303.5 L256.3,302.6 L259.2,301.7 L262.2,300.9 L265.1,300.0 L268.0,299.1 L271.0,298.3 L273.9,297.5 L276.8,296.7 L279.8,295.9 L282.7,295.2 L285.7,294.5 L288.6,293.8 L291.5,293.2 L294.5,292.7 L297.4,292.2 L300.3,291.8 L303.3,291.4 L306.2,291.1 L309.1,290.8 L312.1,290.5 L315.0,290.2 L317.9,289.9 L320.9,289.6 L323.8,289.3 L326.8,289.1 L329.7,288.8 L332.6,288.6 L335.6,288.4 L338.5,288.2 L341.4,288.0 L344.4,287.8 L347.3,287.6 L350.2,287.5 L353.2,287.4 L356.1,287.3 L359.0,287.2 L362.0,287.2 L364.9,287.2 L367.9,287.2 L370.8,287.2 L373.7,287.3 L376.7,287.4 L379.6,287.5 L382.5,287.7 L385.5,287.8 L388.4,288.0 L391.3,288.2 L394.3,288.4 L397.2,288.6 L400.1,288.9 L403.1,289.1 L406.0,289.4 L409.0,289.7 L411.9,289.9 L414.8,290.2 L417.8,290.6 L420.7,291.1 L423.6,291.7 L426.6,292.3 L429.5,293.0 L432.4,293.7 L435.4,294.4 L438.3,295.3 L441.2,296.1 L444.2,297.0 L447.1,297.8 L450.1,298.8 L453.0,299.8 L455.9,300.9 L458.9,302.1 L461.8,303.4 L464.7,304.7 L467.7,306.1 M119.6,361.0 L121.5,359.1 L124.0,356.5 L126.6,354.3 L129.2,352.3 L131.8,350.5 L134.4,348.7 L136.9,347.1 L139.5,345.6 L142.1,344.1 L144.7,342.7 L147.2,341.4 L149.8,340.0 L152.4,338.7 L155.0,337.4 L157.6,336.1 L160.1,334.7 L162.7,333.3 L165.3,331.8 L167.9,330.4 L170.4,328.9 L173.0,327.4 L175.6,326.0 L178.2,324.6 L180.8,323.4 L183.3,322.3 L185.9,321.1 L188.5,320.0 L191.1,319.0 L193.6,317.9 L196.2,316.9 L198.8,315.9 L201.4,314.9 L204.0,314.0 L206.5,313.1 L209.1,312.2 L211.7,311.3 L214.3,310.4 L216.8,309.5 L219.4,308.7 L222.0,307.8 L224.6,307.0 L227.2,306.1 L229.7,305.2 L232.3,304.3 L234.9,303.4 L237.5,302.6 L240.1,301.7 L242.6,300.9 L245.2,300.0 L247.8,299.2 L250.4,298.4 L252.9,297.7 L255.5,297.0 L258.1,296.3 L260.7,295.6 L263.3,295.0 L265.8,294.5 L268.4,294.0 L271.0,293.6 L273.6,293.2 L276.1,292.9 L278.7,292.6 L281.3,292.3 L283.9,292.0 L286.5,291.7 L289.0,291.4 L291.6,291.2 L294.2,290.9 L296.8,290.7 L299.3,290.4 L301.9,290.2 L304.5,290.0 L307.1,289.8 L309.7,289.7 L312.2,289.5 L314.8,289.4 L317.4,289.3 L320.0,289.2 L322.5,289.1 L325.1,289.1 L327.7,289.1 L330.3,289.1 L332.9,289.1 L335.4,289.2 L338.0,289.3 L340.6,289.4 L343.2,289.5 L345.7,289.7 L348.3,289.9 L350.9,290.1 L353.5,290.3 L356.1,290.5 L358.6,290.7 L361.2,291.0 L363.8,291.2 L366.4,291.5 L368.9,291.8 L371.5,292.1 L374.1,292.5 L376.7,293.0 L379.3,293.5 L381.8,294.1 L384.4,294.8 L387.0,295.5 L389.6,296.2 L392.1,297.0 L394.7,297.9 L397.3,298.7 L399.9,299.6 L402.5,300.5 L405.0,301.5 L407.6,302.6 L410.2,303.8 L412.8,305.1 L415.3,306.4 L417.9,307.7 M114.3,359.7 L115.2,358.8 L117.4,356.6 L119.6,354.7 L121.8,352.9 L124.1,351.2 L126.3,349.6 L128.5,348.1 L130.7,346.7 L133.0,345.3 L135.2,344.0 L137.4,342.7 L139.6,341.5 L141.9,340.2 L144.1,338.9 L146.3,337.6 L148.5,336.2 L150.7,334.8 L153.0,333.3 L155.2,331.9 L157.4,330.4 L159.6,329.1 L161.9,327.8 L164.1,326.6 L166.3,325.5 L168.5,324.4 L170.8,323.3 L173.0,322.2 L175.2,321.2 L177.4,320.2 L179.7,319.3 L181.9,318.3 L184.1,317.4 L186.3,316.5 L188.5,315.6 L190.8,314.8 L193.0,313.9 L195.2,313.1 L197.4,312.2 L199.7,311.4 L201.9,310.6 L204.1,309.7 L206.3,308.9 L208.6,308.0 L210.8,307.1 L213.0,306.3 L215.2,305.5 L217.4,304.6 L219.7,303.8 L221.9,303.0 L224.1,302.3 L226.3,301.5 L228.6,300.9 L230.8,300.2 L233.0,299.6 L235.2,299.0 L237.5,298.5 L239.7,298.0 L241.9,297.6 L244.1,297.2 L246.3,296.9 L248.6,296.6 L250.8,296.3 L253.0,296.0 L255.2,295.8 L257.5,295.5 L259.7,295.2 L261.9,295.0 L264.1,294.7 L266.4,294.5 L268.6,294.3 L270.8,294.1 L273.0,293.9 L275.2,293.8 L277.5,293.6 L279.7,293.5 L281.9,293.4 L284.1,293.3 L286.4,293.2 L288.6,293.2 L290.8,293.2 L293.0,293.2 L295.3,293.2 L297.5,293.3 L299.7,293.4 L301.9,293.5 L304.1,293.6 L306.4,293.8 L308.6,293.9 L310.8,294.1 L313.0,294.3 L315.3,294.6 L317.5,294.8 L319.7,295.0 L321.9,295.3 L324.2,295.5 L326.4,295.8 L328.6,296.1 L330.8,296.5 L333.0,297.0 L335.3,297.5 L337.5,298.1 L339.7,298.7 L341.9,299.4 L344.2,300.2 L346.4,300.9 L348.6,301.7 L350.8,302.6 L353.1,303.4 L355.3,304.3 L357.5,305.3 L359.7,306.3 L362.0,307.5 L364.2,308.7 L366.4,310.0 L368.6,311.3 M105.3,362.8 L106.2,361.8 L108.0,359.7 L109.9,357.8 L111.7,356.1 L113.6,354.5 L115.5,353.0 L117.3,351.5 L119.2,350.2 L121.1,348.8 L122.9,347.6 L124.8,346.3 L126.6,345.1 L128.5,343.9 L130.4,342.6 L132.2,341.4 L134.1,340.0 L135.9,338.7 L137.8,337.3 L139.7,335.9 L141.5,334.5 L143.4,333.2 L145.3,331.9 L147.1,330.8 L149.0,329.7 L150.8,328.6 L152.7,327.6 L154.6,326.6 L156.4,325.6 L158.3,324.7 L160.2,323.8 L162.0,322.9 L163.9,322.0 L165.7,321.1 L167.6,320.3 L169.5,319.4 L171.3,318.6 L173.2,317.8 L175.1,317.0 L176.9,316.2 L178.8,315.4 L180.6,314.6 L182.5,313.7 L184.4,312.9 L186.2,312.1 L188.1,311.3 L189.9,310.5 L191.8,309.7 L193.7,308.9 L195.5,308.1 L197.4,307.4 L199.3,306.7 L201.1,306.0 L203.0,305.4 L204.8,304.8 L206.7,304.3 L208.6,303.7 L210.4,303.3 L212.3,302.9 L214.2,302.5 L216.0,302.2 L217.9,302.0 L219.7,301.7 L221.6,301.4 L223.5,301.1 L225.3,300.9 L227.2,300.6 L229.1,300.4 L230.9,300.2 L232.8,299.9 L234.6,299.7 L236.5,299.5 L238.4,299.4 L240.2,299.2 L242.1,299.1 L244.0,299.0 L245.8,298.9 L247.7,298.8 L249.5,298.7 L251.4,298.7 L253.3,298.7 L255.1,298.7 L257.0,298.7 L258.8,298.8 L260.7,298.9 L262.6,299.0 L264.4,299.1 L266.3,299.2 L268.2,299.4 L270.0,299.6 L271.9,299.8 L273.7,300.0 L275.6,300.2 L277.5,300.4 L279.3,300.7 L281.2,300.9 L283.1,301.2 L284.9,301.5 L286.8,301.8 L288.6,302.3 L290.5,302.8 L292.4,303.4 L294.2,304.0 L296.1,304.7 L298.0,305.4 L299.8,306.1 L301.7,306.9 L303.5,307.7 L305.4,308.5 L307.3,309.3 L309.1,310.3 L311.0,311.3 L312.9,312.4 L314.7,313.6 L316.6,314.8 L318.4,316.1 M96.2,368.6 L97.0,367.5 L98.5,365.5 L100.0,363.8 L101.5,362.2 L102.9,360.7 L104.4,359.3 L105.9,358.0 L107.4,356.7 L108.9,355.5 L110.4,354.3 L111.9,353.2 L113.4,352.1 L114.9,350.9 L116.4,349.8 L117.9,348.6 L119.4,347.4 L120.9,346.1 L122.4,344.8 L123.9,343.5 L125.4,342.2 L126.9,341.0 L128.4,339.9 L129.9,338.8 L131.3,337.8 L132.8,336.8 L134.3,335.9 L135.8,335.0 L137.3,334.1 L138.8,333.2 L140.3,332.3 L141.8,331.5 L143.3,330.7 L144.8,329.9 L146.3,329.1 L147.8,328.3 L149.3,327.5 L150.8,326.8 L152.3,326.1 L153.8,325.3 L155.3,324.6 L156.8,323.8 L158.3,323.1 L159.8,322.3 L161.2,321.5 L162.7,320.8 L164.2,320.0 L165.7,319.3 L167.2,318.6 L168.7,317.9 L170.2,317.2 L171.7,316.5 L173.2,315.9 L174.7,315.3 L176.2,314.8 L177.7,314.3 L179.2,313.8 L180.7,313.4 L182.2,313.0 L183.7,312.7 L185.2,312.4 L186.7,312.2 L188.2,311.9 L189.6,311.6 L191.1,311.4 L192.6,311.2 L194.1,310.9 L195.6,310.7 L197.1,310.5 L198.6,310.3 L200.1,310.1 L201.6,309.9 L203.1,309.8 L204.6,309.6 L206.1,309.5 L207.6,309.4 L209.1,309.3 L210.6,309.2 L212.1,309.1 L213.6,309.1 L215.1,309.1 L216.6,309.1 L218.0,309.1 L219.5,309.2 L221.0,309.3 L222.5,309.4 L224.0,309.5 L225.5,309.6 L227.0,309.8 L228.5,310.0 L230.0,310.1 L231.5,310.3 L233.0,310.5 L234.5,310.7 L236.0,311.0 L237.5,311.2 L239.0,311.4 L240.5,311.7 L242.0,312.1 L243.5,312.5 L245.0,312.9 L246.4,313.5 L247.9,314.0 L249.4,314.6 L250.9,315.3 L252.4,316.0 L253.9,316.7 L255.4,317.4 L256.9,318.2 L258.4,319.0 L259.9,319.9 L261.4,320.8 L262.9,321.8 L264.4,322.9 L265.9,324.1 L267.4,325.2 M82.7,385.5 L83.0,384.8 L84.0,383.4 L84.9,382.1 L85.8,380.9 L86.8,379.8 L87.7,378.7 L88.7,377.7 L89.6,376.8 L90.5,375.8 L91.5,375.0 L92.4,374.1 L93.3,373.2 L94.3,372.4 L95.2,371.5 L96.2,370.6 L97.1,369.7 L98.0,368.8 L99.0,367.8 L99.9,366.8 L100.8,365.9 L101.8,364.9 L102.7,364.1 L103.7,363.3 L104.6,362.5 L105.5,361.8 L106.5,361.1 L107.4,360.4 L108.3,359.7 L109.3,359.1 L110.2,358.4 L111.2,357.8 L112.1,357.2 L113.0,356.6 L114.0,356.0 L114.9,355.4 L115.8,354.8 L116.8,354.3 L117.7,353.7 L118.7,353.1 L119.6,352.6 L120.5,352.0 L121.5,351.4 L122.4,350.9 L123.3,350.3 L124.3,349.7 L125.2,349.2 L126.2,348.6 L127.1,348.1 L128.0,347.5 L129.0,347.0 L129.9,346.5 L130.8,346.1 L131.8,345.6 L132.7,345.2 L133.7,344.8 L134.6,344.5 L135.5,344.2 L136.5,343.9 L137.4,343.6 L138.3,343.4 L139.3,343.2 L140.2,343.0 L141.2,342.9 L142.1,342.7 L143.0,342.5 L144.0,342.3 L144.9,342.1 L145.8,342.0 L146.8,341.8 L147.7,341.7 L148.7,341.6 L149.6,341.4 L150.5,341.3 L151.5,341.2 L152.4,341.1 L153.3,341.1 L154.3,341.0 L155.2,341.0 L156.2,341.0 L157.1,340.9 L158.0,340.9 L159.0,341.0 L159.9,341.0 L160.8,341.1 L161.8,341.2 L162.7,341.2 L163.7,341.3 L164.6,341.5 L165.5,341.6 L166.5,341.7 L167.4,341.9 L168.3,342.0 L169.3,342.2 L170.2,342.4 L171.2,342.5 L172.1,342.7 L173.0,342.9 L174.0,343.2 L174.9,343.5 L175.8,343.8 L176.8,344.2 L177.7,344.6 L178.7,345.1 L179.6,345.6 L180.5,346.1 L181.5,346.7 L182.4,347.2 L183.3,347.8 L184.3,348.4 L185.2,349.0 L186.1,349.8 L187.1,350.5 L188.0,351.4 L189.0,352.2 L189.9,353.1 M77.3,397.9 L77.4,397.6 L78.1,396.5 L78.8,395.5 L79.6,394.6 L80.3,393.8 L81.0,393.0 L81.7,392.2 L82.4,391.5 L83.1,390.8 L83.8,390.2 L84.5,389.5 L85.3,388.9 L86.0,388.2 L86.7,387.5 L87.4,386.9 L88.1,386.2 L88.8,385.5 L89.5,384.7 L90.2,384.0 L91.0,383.3 L91.7,382.6 L92.4,381.9 L93.1,381.3 L93.8,380.7 L94.5,380.2 L95.2,379.6 L95.9,379.1 L96.7,378.6 L97.4,378.1 L98.1,377.6 L98.8,377.1 L99.5,376.7 L100.2,376.2 L100.9,375.8 L101.6,375.3 L102.4,374.9 L103.1,374.5 L103.8,374.1 L104.5,373.6 L105.2,373.2 L105.9,372.8 L106.6,372.3 L107.3,371.9 L108.1,371.5 L108.8,371.0 L109.5,370.6 L110.2,370.2 L110.9,369.8 L111.6,369.4 L112.3,369.0 L113.0,368.6 L113.8,368.3 L114.5,367.9 L115.2,367.6 L115.9,367.3 L116.6,367.1 L117.3,366.8 L118.0,366.6 L118.7,366.4 L119.5,366.3 L120.2,366.1 L120.9,366.0 L121.6,365.8 L122.3,365.7 L123.0,365.6 L123.7,365.4 L124.4,365.3 L125.2,365.2 L125.9,365.1 L126.6,365.0 L127.3,364.9 L128.0,364.8 L128.7,364.7 L129.4,364.6 L130.1,364.6 L130.9,364.5 L131.6,364.5 L132.3,364.4 L133.0,364.4 L133.7,364.4 L134.4,364.4 L135.1,364.4 L135.8,364.5 L136.6,364.5 L137.3,364.6 L138.0,364.6 L138.7,364.7 L139.4,364.8 L140.1,364.9 L140.8,365.0 L141.5,365.1 L142.3,365.2 L143.0,365.3 L143.7,365.5 L144.4,365.6 L145.1,365.7 L145.8,365.9 L146.5,366.1 L147.2,366.3 L148.0,366.6 L148.7,366.9 L149.4,367.2 L150.1,367.6 L150.8,367.9 L151.5,368.3 L152.2,368.7 L152.9,369.1 L153.7,369.6 L154.4,370.0 L155.1,370.5 L155.8,371.1 L156.5,371.7 L157.2,372.3 L157.9,372.9 L158.6,373.6 M105.8,353.8 L106.8,352.6 L108.5,350.6 L110.3,348.8 L112.0,347.1 L113.8,345.5 L115.5,344.0 L117.3,342.6 L119.0,341.3 L120.8,339.9 L122.5,338.7 L124.3,337.4 L126.0,336.2 L127.8,334.9 L129.5,333.6 L131.3,332.3 L133.0,331.0 L134.8,329.6 L136.5,328.2 L138.3,326.8 L140.0,325.4 L141.8,324.0 L143.5,322.7 L145.3,321.6 L147.0,320.5 L148.8,319.4 L150.5,318.4 L152.3,317.3 L154.0,316.3 L155.7,315.4 L157.5,314.4 L159.2,313.5 L161.0,312.6 L162.7,311.7 L164.5,310.9 L166.2,310.0 L168.0,309.2 L169.7,308.4 L171.5,307.6 L173.2,306.8 L175.0,305.9 L176.7,305.1 L178.5,304.3 L180.2,303.5 L182.0,302.6 L183.7,301.8 L185.5,301.0 L187.2,300.2 L189.0,299.4 L190.7,298.6 L192.5,297.8 L194.2,297.0 L196.0,296.3 L197.7,295.6 L199.5,295.0 L199.8,294.8 L201.2,294.3 L202.9,293.7 L204.7,293.1 L206.4,292.6 L208.2,292.1 L209.9,291.7 L211.7,291.4 L213.4,291.1 L215.2,290.8 L216.9,290.5 L218.7,290.2 L220.4,289.9 L222.2,289.6 L223.9,289.4 L225.7,289.1 L227.4,288.9 L229.2,288.7 L230.9,288.5 L232.7,288.3 L234.4,288.1 L236.2,287.9 L237.9,287.8 L239.7,287.7 L241.4,287.6 L243.2,287.5 L244.9,287.5 L246.7,287.4 L248.4,287.5 L250.1,287.5 L251.9,287.6 L253.6,287.7 L255.4,287.8 L257.1,288.0 L258.9,288.1 L260.6,288.3 L262.4,288.5 L264.1,288.8 L265.9,289.0 L267.6,289.2 L269.4,289.5 L271.1,289.8 L272.9,290.1 L274.6,290.4 L276.4,290.9 L278.1,291.4 L279.9,292.0 L281.6,292.7 L283.4,293.5 L285.1,294.3 L286.9,295.1 L288.6,296.0 L290.4,297.0 L292.1,297.9 L293.8,298.9 L295.6,300.1 L297.3,301.3 L299.1,302.7 L300.8,304.1 L302.6,305.6" stroke="#000" stroke-width="1.4" fill="none"/>
<path d="M59.6,668.2 L63.1,668.2 L66.6,668.2 L70.1,668.3 L73.6,668.3 L77.1,668.3 L80.6,668.3 L84.1,668.3 L87.6,668.3 L91.1,668.3 L94.6,668.3 L98.1,668.3 L101.6,668.3 L105.1,668.3 L108.5,668.3 L112.0,668.3 L115.5,668.3 L119.0,668.3 L122.5,668.3 L126.0,668.3 L129.5,668.3 L133.0,668.3 L136.5,668.3 L140.0,668.3 L143.5,668.3 L147.0,668.4 L150.5,668.4 L152.5,668.4 M59.6,672.3 L62.9,672.3 L66.2,672.3 L69.4,672.3 L72.7,672.4 L76.0,672.4 L79.3,672.4 L82.6,672.4 L85.8,672.4 L89.1,672.4 L92.4,672.4 L95.7,672.4 L99.0,672.4 L102.3,672.4 L105.5,672.4 L108.8,672.4 L112.1,672.4 L115.4,672.4 L118.7,672.4 L121.9,672.4 L125.2,672.4 L128.5,672.4 L131.8,672.4 L135.1,672.4 L138.3,672.4 L141.1,672.4 M59.6,676.1 L62.5,676.1 L65.5,676.1 L68.4,676.1 L71.3,676.1 L74.3,676.1 L77.2,676.1 L80.2,676.1 L83.1,676.1 L86.0,676.1 L89.0,676.1 L91.9,676.1 L94.8,676.1 L97.8,676.1 L100.7,676.1 L103.6,676.1 L106.6,676.1 L109.5,676.1 L112.4,676.1 L115.4,676.1 L118.3,676.1 L121.3,676.1 L124.2,676.1 L127.1,676.1 L130.1,676.1 L133.0,676.1 L133.3,676.1 M59.6,679.4 L62.2,679.4 L64.8,679.4 L67.3,679.4 L69.9,679.4 L72.5,679.4 L75.1,679.4 L77.6,679.4 L80.2,679.4 L82.8,679.4 L85.4,679.4 L88.0,679.4 L90.5,679.4 L93.1,679.4 L95.7,679.4 L98.3,679.4 L100.8,679.4 L103.4,679.4 L106.0,679.4 L108.6,679.4 L111.2,679.4 L113.7,679.4 L116.3,679.4 L118.9,679.4 L119.6,679.4 M59.6,682.3 L61.8,682.3 L64.0,682.3 L66.3,682.3 L68.5,682.3 L70.7,682.3 L72.9,682.3 L75.2,682.3 L77.4,682.3 L79.6,682.3 L81.8,682.3 L84.1,682.3 L86.3,682.3 L88.5,682.3 L90.7,682.3 L92.9,682.3 L95.2,682.3 L97.4,682.3 L99.6,682.4 L101.8,682.4 L104.1,682.4 L106.3,682.4 L108.5,682.4 L110.7,682.4 L113.0,682.4 L114.3,682.4 M59.6,684.8 L61.5,684.8 L63.3,684.8 L65.2,684.8 L67.0,684.8 L68.9,684.8 L70.8,684.8 L72.6,684.8 L74.5,684.8 L76.4,684.8 L78.2,684.8 L80.1,684.8 L81.9,684.8 L83.8,684.8 L85.7,684.8 L87.5,684.8 L89.4,684.8 L91.3,684.8 L93.1,684.8 L95.0,684.8 L96.8,684.8 L98.7,684.8 L100.6,684.8 L102.4,684.8 L104.3,684.8 L105.3,684.8 M59.6,686.8 L61.1,686.8 L62.6,686.8 L64.1,686.8 L65.6,686.8 L67.1,686.9 L68.6,686.9 L70.1,686.9 L71.6,686.9 L73.1,686.9 L74.5,686.9 L76.0,686.9 L77.5,686.9 L79.0,686.9 L80.5,686.9 L82.0,686.9 L83.5,686.9 L85.0,686.9 L86.5,686.9 L88.0,686.9 L89.5,686.9 L91.0,686.9 L92.5,686.9 L94.0,686.9 L95.5,686.9 L96.2,686.9 M59.6,689.0 L60.5,689.0 L61.5,689.0 L62.4,689.0 L63.3,689.0 L64.3,689.0 L65.2,689.0 L66.2,689.0 L67.1,689.0 L68.0,689.0 L69.0,689.0 L69.9,689.0 L70.8,689.0 L71.8,689.0 L72.7,689.1 L73.7,689.1 L74.6,689.1 L75.5,689.1 L76.5,689.1 L77.4,689.1 L78.3,689.1 L79.3,689.1 L80.2,689.1 L81.2,689.1 L82.1,689.1 L82.7,689.1 M59.6,689.6 L60.3,689.6 L61.0,689.6 L61.7,689.6 L62.5,689.6 L63.2,689.6 L63.9,689.6 L64.6,689.6 L65.3,689.6 L66.0,689.6 L66.7,689.6 L67.4,689.6 L68.2,689.6 L68.9,689.6 L69.6,689.6 L70.3,689.6 L71.0,689.6 L71.7,689.7 L72.4,689.7 L73.1,689.7 L73.9,689.7 L74.6,689.7 L75.3,689.7 L76.0,689.7 L76.7,689.7 L77.3,689.7 M59.6,668.2 L61.3,668.2 L63.1,668.2 L64.8,668.3 L66.6,668.3 L68.3,668.3 L70.1,668.3 L71.8,668.3 L73.6,668.3 L75.3,668.3 L77.1,668.3 L78.8,668.3 L80.6,668.3 L82.3,668.3 L84.1,668.3 L85.8,668.3 L87.6,668.3 L89.3,668.3 L91.1,668.3 L92.8,668.3 L94.6,668.3 L96.3,668.3 L98.1,668.3 L99.8,668.3 L101.6,668.3 L103.3,668.4 L105.1,668.4 L105.8,668.4" stroke="#000" stroke-opacity=".9" stroke-width=".85" fill="none"/>
<path d="M152.5,668.4 L154.0,668.4 L157.5,668.4 L161.0,668.4 L164.5,668.4 L168.0,668.4 L171.5,668.4 L175.0,668.4 L178.5,668.4 L182.0,668.4 L185.5,668.4 L189.0,668.4 L192.5,668.4 L196.0,668.3 L199.5,668.3 L202.9,668.3 L206.4,668.3 L209.9,668.3 L213.4,668.2 L216.9,668.2 L220.4,668.1 L223.9,668.1 L227.4,668.0 L230.9,667.9 L234.4,667.9 L237.9,667.8 L241.4,667.7 L244.9,667.6 L248.4,667.5 L251.9,667.4 L255.4,667.3 L258.9,667.2 L262.4,667.1 L265.9,666.9 L269.4,666.8 L272.9,666.7 L276.4,666.5 L279.9,666.4 L283.4,666.2 L286.9,666.1 L290.4,665.9 L293.8,665.8 L297.3,665.6 L300.8,665.4 L304.3,665.3 L307.8,665.1 L311.3,664.9 L314.8,664.7 L318.3,664.5 L321.8,664.3 L325.3,664.1 L328.8,663.9 L332.3,663.6 L335.8,663.2 L339.3,662.8 L340.0,662.8 L342.8,662.4 L346.3,661.9 L349.8,661.4 L353.3,660.9 L356.8,660.3 L360.3,659.7 L363.8,659.1 L367.3,658.5 L370.8,657.8 L374.3,657.2 L377.8,656.5 L381.3,655.8 L384.8,655.2 L388.2,654.4 L391.7,653.6 L395.2,652.8 L398.7,651.9 L402.2,651.0 L405.7,650.1 L409.2,649.1 L412.7,648.2 L416.2,647.3 L419.7,646.4 L423.2,645.4 L426.7,644.4 L430.2,643.4 L433.7,642.4 L437.2,641.3 L440.7,640.3 L444.2,639.2 L447.7,638.1 L451.2,637.0 L454.7,635.9 L458.2,634.7 L461.7,633.5 L465.2,632.3 L468.7,631.0 L472.2,629.7 L475.7,628.4 L479.2,627.0 L482.6,625.5 L486.1,624.0 L489.6,622.4 L493.1,620.8 L496.6,619.2 L500.1,617.6 L503.6,616.0 L507.1,614.2 L510.6,612.5 L514.1,610.7 L517.6,608.9 L521.1,607.1 L524.6,605.3 L528.1,603.5 L531.6,601.6 L535.1,599.8 L538.6,597.9 L542.1,596.0 L545.6,594.1 M141.1,672.4 L141.6,672.4 L144.9,672.4 L148.2,672.4 L151.5,672.4 L154.7,672.4 L158.0,672.4 L161.3,672.4 L164.6,672.4 L167.9,672.4 L171.2,672.4 L174.4,672.4 L177.7,672.4 L181.0,672.4 L184.3,672.4 L187.6,672.4 L190.8,672.4 L194.1,672.4 L197.4,672.3 L200.7,672.3 L204.0,672.2 L207.2,672.2 L210.5,672.1 L213.8,672.1 L217.1,672.0 L220.4,671.9 L223.6,671.9 L226.9,671.8 L230.2,671.7 L233.5,671.6 L236.8,671.5 L240.1,671.4 L243.3,671.3 L246.6,671.2 L249.9,671.1 L253.2,671.0 L256.5,670.9 L259.7,670.7 L263.0,670.6 L266.3,670.5 L269.6,670.3 L272.9,670.2 L276.1,670.0 L279.4,669.9 L282.7,669.7 L286.0,669.6 L289.3,669.4 L292.5,669.3 L295.8,669.1 L299.1,668.9 L302.4,668.7 L305.7,668.4 L308.9,668.1 L312.2,667.7 L315.5,667.3 L318.8,666.9 L322.1,666.4 L325.4,666.0 L328.6,665.5 L331.9,664.9 L335.2,664.4 L338.5,663.8 L341.8,663.3 L345.0,662.7 L348.3,662.1 L351.6,661.5 L354.9,660.9 L358.2,660.3 L361.4,659.6 L364.7,658.9 L368.0,658.1 L371.3,657.3 L374.6,656.5 L377.8,655.7 L381.1,654.9 L384.4,654.1 L387.7,653.3 L391.0,652.5 L394.3,651.7 L397.5,650.8 L400.8,649.9 L404.1,649.0 L407.4,648.1 L410.7,647.2 L413.9,646.3 L417.2,645.3 L420.5,644.3 L423.8,643.4 L427.1,642.3 L430.3,641.3 L433.6,640.3 L436.9,639.2 L440.2,638.1 L443.5,636.9 L446.7,635.7 L450.0,634.4 L453.3,633.1 L456.6,631.8 L459.9,630.5 L463.2,629.1 L466.4,627.7 L469.7,626.3 L473.0,624.9 L476.3,623.4 L479.6,621.9 L482.8,620.4 L486.1,618.8 L489.4,617.2 L492.7,615.7 L496.0,614.1 L499.2,612.5 L502.5,610.9 L505.8,609.3 L509.1,607.7 L512.4,606.0 L515.6,604.3 M133.3,676.1 L135.9,676.1 L138.9,676.1 L141.8,676.1 L144.7,676.1 L147.7,676.1 L150.6,676.2 L153.5,676.2 L156.5,676.2 L159.4,676.2 L162.4,676.2 L165.3,676.2 L168.2,676.1 L171.2,676.1 L174.1,676.1 L177.0,676.1 L180.0,676.1 L182.9,676.1 L185.8,676.0 L188.8,676.0 L191.7,676.0 L194.6,675.9 L197.6,675.9 L200.5,675.8 L203.5,675.8 L206.4,675.7 L209.3,675.6 L212.3,675.6 L215.2,675.5 L218.1,675.4 L221.1,675.3 L224.0,675.3 L226.9,675.2 L229.9,675.1 L232.8,675.0 L235.7,674.9 L238.7,674.8 L241.6,674.7 L244.6,674.6 L247.5,674.5 L250.4,674.4 L253.4,674.3 L256.3,674.1 L259.2,674.0 L262.2,673.9 L265.1,673.8 L268.0,673.6 L271.0,673.5 L273.9,673.4 L276.8,673.2 L279.8,673.0 L282.7,672.7 L285.7,672.4 L288.6,672.1 L291.5,671.8 L294.5,671.4 L297.4,671.0 L300.3,670.6 L303.3,670.2 L306.2,669.8 L309.1,669.3 L312.1,668.9 L315.0,668.4 L317.9,668.0 L320.9,667.5 L323.8,667.0 L326.8,666.5 L329.7,666.0 L332.6,665.4 L335.6,664.8 L338.5,664.2 L341.4,663.5 L344.4,662.9 L347.3,662.3 L350.2,661.6 L353.2,661.0 L356.1,660.3 L359.0,659.7 L362.0,659.0 L364.9,658.3 L367.9,657.6 L370.8,656.8 L373.7,656.1 L376.7,655.4 L379.6,654.6 L382.5,653.9 L385.5,653.1 L388.4,652.3 L391.3,651.4 L394.3,650.6 L397.2,649.7 L400.1,648.9 L403.1,647.9 L406.0,647.0 L409.0,646.0 L411.9,645.0 L414.8,643.9 L417.8,642.8 L420.7,641.7 L423.6,640.6 L426.6,639.5 L429.5,638.4 L432.4,637.2 L435.4,636.0 L438.3,634.8 L441.2,633.6 L444.2,632.3 L447.1,631.1 L450.1,629.8 L453.0,628.6 L455.9,627.3 L458.9,626.0 L461.8,624.7 L464.7,623.4 L467.7,622.1 M119.6,679.4 L121.5,679.4 L124.0,679.4 L126.6,679.4 L129.2,679.4 L131.8,679.4 L134.4,679.4 L136.9,679.4 L139.5,679.4 L142.1,679.4 L144.7,679.4 L147.2,679.4 L149.8,679.4 L152.4,679.4 L155.0,679.4 L157.6,679.4 L160.1,679.4 L162.7,679.4 L165.3,679.4 L167.9,679.4 L170.4,679.4 L173.0,679.3 L175.6,679.3 L178.2,679.3 L180.8,679.2 L183.3,679.2 L185.9,679.1 L188.5,679.1 L191.1,679.0 L193.6,679.0 L196.2,678.9 L198.8,678.9 L201.4,678.8 L204.0,678.8 L206.5,678.7 L209.1,678.6 L211.7,678.5 L214.3,678.5 L216.8,678.4 L219.4,678.3 L222.0,678.2 L224.6,678.2 L227.2,678.1 L229.7,678.0 L232.3,677.9 L234.9,677.8 L237.5,677.7 L240.1,677.6 L242.6,677.5 L245.2,677.4 L247.8,677.3 L250.4,677.1 L252.9,677.0 L255.5,676.8 L258.1,676.6 L260.7,676.3 L263.3,676.1 L265.8,675.8 L268.4,675.5 L271.0,675.2 L273.6,674.8 L276.1,674.5 L278.7,674.2 L281.3,673.8 L283.9,673.5 L286.5,673.1 L289.0,672.8 L291.6,672.4 L294.2,672.0 L296.8,671.6 L299.3,671.1 L301.9,670.7 L304.5,670.2 L307.1,669.7 L309.7,669.2 L312.2,668.7 L314.8,668.3 L317.4,667.8 L320.0,667.3 L322.5,666.7 L325.1,666.2 L327.7,665.7 L330.3,665.1 L332.9,664.6 L335.4,664.0 L338.0,663.4 L340.6,662.8 L343.2,662.2 L345.7,661.6 L348.3,661.0 L350.9,660.4 L353.5,659.7 L356.1,659.1 L358.6,658.4 L361.2,657.7 L363.8,656.9 L366.4,656.2 L368.9,655.4 L371.5,654.6 L374.1,653.8 L376.7,652.9 L379.3,652.1 L381.8,651.2 L384.4,650.3 L387.0,649.4 L389.6,648.5 L392.1,647.6 L394.7,646.6 L397.3,645.7 L399.9,644.7 L402.5,643.7 L405.0,642.8 L407.6,641.8 L410.2,640.8 L412.8,639.8 L415.3,638.8 L417.9,637.8 M114.3,682.4 L115.2,682.4 L117.4,682.4 L119.6,682.4 L121.8,682.4 L124.1,682.4 L126.3,682.4 L128.5,682.4 L130.7,682.4 L133.0,682.4 L135.2,682.4 L137.4,682.4 L139.6,682.4 L141.9,682.4 L144.1,682.4 L146.3,682.3 L148.5,682.3 L150.7,682.3 L153.0,682.3 L155.2,682.3 L157.4,682.3 L159.6,682.3 L161.9,682.2 L164.1,682.2 L166.3,682.2 L168.5,682.1 L170.8,682.1 L173.0,682.1 L175.2,682.0 L177.4,682.0 L179.7,681.9 L181.9,681.9 L184.1,681.9 L186.3,681.8 L188.5,681.8 L190.8,681.7 L193.0,681.6 L195.2,681.6 L197.4,681.5 L199.7,681.5 L201.9,681.4 L204.1,681.3 L206.3,681.3 L208.6,681.2 L210.8,681.1 L213.0,681.1 L215.2,681.0 L217.4,680.9 L219.7,680.9 L221.9,680.8 L224.1,680.7 L226.3,680.5 L228.6,680.4 L230.8,680.2 L233.0,680.1 L235.2,679.9 L237.5,679.7 L239.7,679.4 L241.9,679.2 L244.1,679.0 L246.3,678.7 L248.6,678.5 L250.8,678.2 L253.0,678.0 L255.2,677.7 L257.5,677.4 L259.7,677.2 L261.9,676.9 L264.1,676.6 L266.4,676.3 L268.6,675.9 L270.8,675.6 L273.0,675.2 L275.2,674.8 L277.5,674.5 L279.7,674.1 L281.9,673.8 L284.1,673.4 L286.4,673.0 L288.6,672.6 L290.8,672.2 L293.0,671.8 L295.3,671.4 L297.5,671.0 L299.7,670.6 L301.9,670.1 L304.1,669.7 L306.4,669.3 L308.6,668.8 L310.8,668.3 L313.0,667.9 L315.3,667.4 L317.5,666.9 L319.7,666.3 L321.9,665.8 L324.2,665.2 L326.4,664.7 L328.6,664.1 L330.8,663.4 L333.0,662.8 L335.3,662.2 L337.5,661.6 L339.7,660.9 L341.9,660.3 L344.2,659.6 L346.4,658.9 L348.6,658.2 L350.8,657.5 L353.1,656.8 L355.3,656.1 L357.5,655.4 L359.7,654.6 L362.0,653.9 L364.2,653.2 L366.4,652.4 L368.6,651.7 M105.3,684.8 L106.2,684.8 L108.0,684.8 L109.9,684.8 L111.7,684.8 L113.6,684.8 L115.5,684.8 L117.3,684.8 L119.2,684.8 L121.1,684.8 L122.9,684.8 L124.8,684.8 L126.6,684.8 L128.5,684.8 L130.4,684.8 L132.2,684.8 L134.1,684.8 L135.9,684.8 L137.8,684.8 L139.7,684.8 L141.5,684.8 L143.4,684.7 L145.3,684.7 L147.1,684.7 L149.0,684.7 L150.8,684.7 L152.7,684.6 L154.6,684.6 L156.4,684.6 L158.3,684.6 L160.2,684.5 L162.0,684.5 L163.9,684.5 L165.7,684.4 L167.6,684.4 L169.5,684.4 L171.3,684.3 L173.2,684.3 L175.1,684.2 L176.9,684.2 L178.8,684.2 L180.6,684.1 L182.5,684.1 L184.4,684.0 L186.2,684.0 L188.1,683.9 L189.9,683.9 L191.8,683.8 L193.7,683.8 L195.5,683.7 L197.4,683.6 L199.3,683.6 L201.1,683.5 L203.0,683.3 L204.8,683.2 L206.7,683.1 L208.6,682.9 L210.4,682.8 L212.3,682.6 L214.2,682.5 L216.0,682.3 L217.9,682.1 L219.7,681.9 L221.6,681.8 L223.5,681.6 L225.3,681.4 L227.2,681.2 L229.1,681.0 L230.9,680.8 L232.8,680.6 L234.6,680.3 L236.5,680.1 L238.4,679.8 L240.2,679.6 L242.1,679.3 L244.0,679.1 L245.8,678.8 L247.7,678.6 L249.5,678.3 L251.4,678.0 L253.3,677.7 L255.1,677.5 L257.0,677.2 L258.8,676.9 L260.7,676.6 L262.6,676.3 L264.4,676.0 L266.3,675.7 L268.2,675.4 L270.0,675.0 L271.9,674.7 L273.7,674.4 L275.6,674.0 L277.5,673.6 L279.3,673.3 L281.2,672.9 L283.1,672.5 L284.9,672.0 L286.8,671.6 L288.6,671.2 L290.5,670.8 L292.4,670.3 L294.2,669.9 L296.1,669.4 L298.0,668.9 L299.8,668.4 L301.7,668.0 L303.5,667.5 L305.4,667.0 L307.3,666.5 L309.1,666.0 L311.0,665.5 L312.9,665.0 L314.7,664.4 L316.6,663.9 L318.4,663.4 M96.2,686.9 L97.0,686.9 L98.5,686.9 L100.0,686.9 L101.5,686.9 L102.9,686.9 L104.4,686.9 L105.9,686.9 L107.4,686.9 L108.9,686.9 L110.4,686.9 L111.9,686.9 L113.4,686.9 L114.9,686.9 L116.4,686.9 L117.9,686.9 L119.4,686.9 L120.9,686.8 L122.4,686.8 L123.9,686.8 L125.4,686.8 L126.9,686.8 L128.4,686.8 L129.9,686.8 L131.3,686.8 L132.8,686.8 L134.3,686.8 L135.8,686.7 L137.3,686.7 L138.8,686.7 L140.3,686.7 L141.8,686.7 L143.3,686.6 L144.8,686.6 L146.3,686.6 L147.8,686.6 L149.3,686.5 L150.8,686.5 L152.3,686.5 L153.8,686.5 L155.3,686.4 L156.8,686.4 L158.3,686.4 L159.8,686.4 L161.2,686.3 L162.7,686.3 L164.2,686.3 L165.7,686.2 L167.2,686.2 L168.7,686.2 L170.2,686.1 L171.7,686.1 L173.2,686.0 L174.7,685.9 L176.2,685.8 L177.7,685.8 L179.2,685.7 L180.7,685.6 L182.2,685.5 L183.7,685.4 L185.2,685.2 L186.7,685.1 L188.2,685.0 L189.6,684.9 L191.1,684.8 L192.6,684.7 L194.1,684.6 L195.6,684.4 L197.1,684.3 L198.6,684.1 L200.1,684.0 L201.6,683.8 L203.1,683.7 L204.6,683.5 L206.1,683.3 L207.6,683.2 L209.1,683.0 L210.6,682.9 L212.1,682.7 L213.6,682.5 L215.1,682.3 L216.6,682.2 L218.0,682.0 L219.5,681.8 L221.0,681.6 L222.5,681.4 L224.0,681.2 L225.5,681.0 L227.0,680.8 L228.5,680.6 L230.0,680.4 L231.5,680.2 L233.0,679.9 L234.5,679.7 L236.0,679.5 L237.5,679.2 L239.0,679.0 L240.5,678.7 L242.0,678.4 L243.5,678.1 L245.0,677.9 L246.4,677.6 L247.9,677.3 L249.4,677.0 L250.9,676.7 L252.4,676.4 L253.9,676.1 L255.4,675.8 L256.9,675.4 L258.4,675.1 L259.9,674.8 L261.4,674.5 L262.9,674.2 L264.4,673.8 L265.9,673.5 L267.4,673.2 M82.7,689.1 L83.0,689.1 L84.0,689.1 L84.9,689.1 L85.8,689.1 L86.8,689.1 L87.7,689.1 L88.7,689.1 L89.6,689.1 L90.5,689.1 L91.5,689.1 L92.4,689.1 L93.3,689.1 L94.3,689.1 L95.2,689.1 L96.2,689.0 L97.1,689.0 L98.0,689.0 L99.0,689.0 L99.9,689.0 L100.8,689.0 L101.8,689.0 L102.7,689.0 L103.7,689.0 L104.6,689.0 L105.5,689.0 L106.5,689.0 L107.4,689.0 L108.3,689.0 L109.3,689.0 L110.2,689.0 L111.2,689.0 L112.1,689.0 L113.0,689.0 L114.0,688.9 L114.9,688.9 L115.8,688.9 L116.8,688.9 L117.7,688.9 L118.7,688.9 L119.6,688.9 L120.5,688.9 L121.5,688.9 L122.4,688.8 L123.3,688.8 L124.3,688.8 L125.2,688.8 L126.2,688.8 L127.1,688.8 L128.0,688.8 L129.0,688.8 L129.9,688.7 L130.8,688.7 L131.8,688.7 L132.7,688.6 L133.7,688.6 L134.6,688.6 L135.5,688.5 L136.5,688.5 L137.4,688.5 L138.3,688.4 L139.3,688.4 L140.2,688.3 L141.2,688.3 L142.1,688.2 L143.0,688.2 L144.0,688.1 L144.9,688.1 L145.8,688.0 L146.8,688.0 L147.7,687.9 L148.7,687.8 L149.6,687.8 L150.5,687.7 L151.5,687.7 L152.4,687.6 L153.3,687.5 L154.3,687.5 L155.2,687.4 L156.2,687.3 L157.1,687.2 L158.0,687.2 L159.0,687.1 L159.9,687.0 L160.8,687.0 L161.8,686.9 L162.7,686.8 L163.7,686.7 L164.6,686.6 L165.5,686.6 L166.5,686.5 L167.4,686.4 L168.3,686.3 L169.3,686.2 L170.2,686.1 L171.2,686.0 L172.1,685.9 L173.0,685.8 L174.0,685.7 L174.9,685.6 L175.8,685.5 L176.8,685.4 L177.7,685.2 L178.7,685.1 L179.6,685.0 L180.5,684.9 L181.5,684.8 L182.4,684.6 L183.3,684.5 L184.3,684.4 L185.2,684.3 L186.1,684.1 L187.1,684.0 L188.0,683.9 L189.0,683.7 L189.9,683.6 M77.3,689.7 L77.4,689.7 L78.1,689.7 L78.8,689.7 L79.6,689.7 L80.3,689.7 L81.0,689.7 L81.7,689.7 L82.4,689.7 L83.1,689.7 L83.8,689.7 L84.5,689.7 L85.3,689.7 L86.0,689.7 L86.7,689.7 L87.4,689.6 L88.1,689.6 L88.8,689.6 L89.5,689.6 L90.2,689.6 L91.0,689.6 L91.7,689.6 L92.4,689.6 L93.1,689.6 L93.8,689.6 L94.5,689.6 L95.2,689.6 L95.9,689.6 L96.7,689.6 L97.4,689.6 L98.1,689.6 L98.8,689.6 L99.5,689.6 L100.2,689.6 L100.9,689.6 L101.6,689.6 L102.4,689.6 L103.1,689.6 L103.8,689.6 L104.5,689.6 L105.2,689.6 L105.9,689.5 L106.6,689.5 L107.3,689.5 L108.1,689.5 L108.8,689.5 L109.5,689.5 L110.2,689.5 L110.9,689.5 L111.6,689.5 L112.3,689.5 L113.0,689.5 L113.8,689.4 L114.5,689.4 L115.2,689.4 L115.9,689.4 L116.6,689.4 L117.3,689.3 L118.0,689.3 L118.7,689.3 L119.5,689.3 L120.2,689.2 L120.9,689.2 L121.6,689.2 L122.3,689.2 L123.0,689.1 L123.7,689.1 L124.4,689.1 L125.2,689.0 L125.9,689.0 L126.6,689.0 L127.3,688.9 L128.0,688.9 L128.7,688.9 L129.4,688.8 L130.1,688.8 L130.9,688.8 L131.6,688.7 L132.3,688.7 L133.0,688.6 L133.7,688.6 L134.4,688.6 L135.1,688.5 L135.8,688.5 L136.6,688.4 L137.3,688.4 L138.0,688.3 L138.7,688.3 L139.4,688.2 L140.1,688.2 L140.8,688.1 L141.5,688.1 L142.3,688.0 L143.0,688.0 L143.7,687.9 L144.4,687.9 L145.1,687.8 L145.8,687.7 L146.5,687.7 L147.2,687.6 L148.0,687.5 L148.7,687.5 L149.4,687.4 L150.1,687.3 L150.8,687.3 L151.5,687.2 L152.2,687.1 L152.9,687.1 L153.7,687.0 L154.4,686.9 L155.1,686.8 L155.8,686.8 L156.5,686.7 L157.2,686.6 L157.9,686.5 L158.6,686.5 M105.8,668.4 L106.8,668.4 L108.5,668.4 L110.3,668.4 L112.0,668.4 L113.8,668.4 L115.5,668.4 L117.3,668.4 L119.0,668.4 L120.8,668.4 L122.5,668.4 L124.3,668.4 L126.0,668.4 L127.8,668.3 L129.5,668.3 L131.3,668.3 L133.0,668.3 L134.8,668.3 L136.5,668.2 L138.3,668.2 L140.0,668.1 L141.8,668.1 L143.5,668.0 L145.3,667.9 L147.0,667.9 L148.8,667.8 L150.5,667.7 L152.3,667.6 L154.0,667.5 L155.7,667.4 L157.5,667.3 L159.2,667.2 L161.0,667.1 L162.7,666.9 L164.5,666.8 L166.2,666.7 L168.0,666.5 L169.7,666.4 L171.5,666.2 L173.2,666.1 L175.0,665.9 L176.7,665.8 L178.5,665.6 L180.2,665.4 L182.0,665.3 L183.7,665.1 L185.5,664.9 L187.2,664.7 L189.0,664.5 L190.7,664.3 L192.5,664.1 L194.2,663.9 L196.0,663.6 L197.7,663.2 L199.5,662.8 L199.8,662.8 L201.2,662.4 L202.9,661.9 L204.7,661.4 L206.4,660.9 L208.2,660.3 L209.9,659.7 L211.7,659.1 L213.4,658.5 L215.2,657.8 L216.9,657.2 L218.7,656.5 L220.4,655.8 L222.2,655.2 L223.9,654.4 L225.7,653.6 L227.4,652.8 L229.2,651.9 L230.9,651.0 L232.7,650.1 L234.4,649.1 L236.2,648.2 L237.9,647.3 L239.7,646.4 L241.4,645.4 L243.2,644.4 L244.9,643.4 L246.7,642.4 L248.4,641.3 L250.1,640.3 L251.9,639.2 L253.6,638.1 L255.4,637.0 L257.1,635.9 L258.9,634.7 L260.6,633.5 L262.4,632.3 L264.1,631.0 L265.9,629.7 L267.6,628.4 L269.4,627.0 L271.1,625.5 L272.9,624.0 L274.6,622.4 L276.4,620.8 L278.1,619.2 L279.9,617.6 L281.6,616.0 L283.4,614.2 L285.1,612.5 L286.9,610.7 L288.6,608.9 L290.4,607.1 L292.1,605.3 L293.8,603.5 L295.6,601.6 L297.3,599.8 L299.1,597.9 L300.8,596.0 L302.6,594.1" stroke="#000" stroke-width="1.3" fill="none"/>
<path d="M59.6,95.4 L63.1,95.6 L66.6,95.9 L70.1,96.2 L73.6,96.5 L77.1,96.8 L80.6,97.1 L84.1,97.5 L87.6,97.9 L91.1,98.3 L94.6,98.7 L98.1,99.1 L101.6,99.6 L105.1,100.0 L108.5,100.5 L112.0,101.0 L115.5,101.6 L119.0,102.1 L122.5,102.7 L126.0,103.2 L129.5,103.8 L133.0,104.4 L136.5,105.0 L140.0,105.6 L143.5,106.3 L147.0,106.9 L150.5,107.6 L152.5,108.0 M59.6,158.3 L62.9,158.5 L66.2,158.7 L69.4,158.9 L72.7,159.1 L76.0,159.3 L79.3,159.6 L82.6,159.9 L85.8,160.2 L89.1,160.5 L92.4,160.8 L95.7,161.2 L99.0,161.5 L102.3,161.9 L105.5,162.3 L108.8,162.8 L112.1,163.2 L115.4,163.6 L118.7,164.1 L121.9,164.6 L125.2,165.1 L128.5,165.6 L131.8,166.1 L135.1,166.6 L138.3,167.1 L141.1,167.6 M59.6,215.8 L62.5,216.0 L65.5,216.1 L68.4,216.3 L71.3,216.5 L74.3,216.7 L77.2,216.9 L80.2,217.1 L83.1,217.4 L86.0,217.7 L89.0,217.9 L91.9,218.2 L94.8,218.5 L97.8,218.8 L100.7,219.2 L103.6,219.5 L106.6,219.9 L109.5,220.2 L112.4,220.6 L115.4,221.0 L118.3,221.4 L121.3,221.8 L124.2,222.2 L127.1,222.6 L130.1,223.1 L133.0,223.5 L133.3,223.6 M59.6,266.6 L62.2,266.7 L64.8,266.9 L67.3,267.0 L69.9,267.2 L72.5,267.3 L75.1,267.5 L77.6,267.7 L80.2,267.9 L82.8,268.1 L85.4,268.3 L88.0,268.6 L90.5,268.8 L93.1,269.1 L95.7,269.3 L98.3,269.6 L100.8,269.9 L103.4,270.2 L106.0,270.5 L108.6,270.8 L111.2,271.1 L113.7,271.4 L116.3,271.7 L118.9,272.1 L119.6,272.2 M59.6,311.7 L61.8,311.8 L64.0,311.9 L66.3,312.0 L68.5,312.1 L70.7,312.2 L72.9,312.4 L75.2,312.5 L77.4,312.6 L79.6,312.8 L81.8,313.0 L84.1,313.1 L86.3,313.3 L88.5,313.5 L90.7,313.7 L92.9,313.9 L95.2,314.1 L97.4,314.3 L99.6,314.5 L101.8,314.7 L104.1,315.0 L106.3,315.2 L108.5,315.4 L110.7,315.7 L113.0,315.9 L114.3,316.1 M59.6,349.7 L61.5,349.8 L63.3,349.8 L65.2,349.9 L67.0,350.0 L68.9,350.1 L70.8,350.2 L72.6,350.3 L74.5,350.4 L76.4,350.5 L78.2,350.6 L80.1,350.7 L81.9,350.8 L83.8,351.0 L85.7,351.1 L87.5,351.2 L89.4,351.4 L91.3,351.5 L93.1,351.7 L95.0,351.8 L96.8,352.0 L98.7,352.2 L100.6,352.3 L102.4,352.5 L104.3,352.7 L105.3,352.8 M59.6,381.3 L61.1,381.4 L62.6,381.4 L64.1,381.5 L65.6,381.5 L67.1,381.6 L68.6,381.6 L70.1,381.7 L71.6,381.7 L73.1,381.8 L74.5,381.9 L76.0,382.0 L77.5,382.0 L79.0,382.1 L80.5,382.2 L82.0,382.3 L83.5,382.4 L85.0,382.5 L86.5,382.6 L88.0,382.7 L89.5,382.8 L91.0,382.9 L92.5,383.0 L94.0,383.1 L95.5,383.2 L96.2,383.2 M59.6,415.1 L60.5,415.1 L61.5,415.2 L62.4,415.2 L63.3,415.2 L64.3,415.2 L65.2,415.2 L66.2,415.3 L67.1,415.3 L68.0,415.3 L69.0,415.3 L69.9,415.4 L70.8,415.4 L71.8,415.4 L72.7,415.5 L73.7,415.5 L74.6,415.5 L75.5,415.6 L76.5,415.6 L77.4,415.7 L78.3,415.7 L79.3,415.7 L80.2,415.8 L81.2,415.8 L82.1,415.9 L82.7,415.9 M59.6,424.4 L60.3,424.4 L61.0,424.4 L61.7,424.4 L62.5,424.4 L63.2,424.4 L63.9,424.5 L64.6,424.5 L65.3,424.5 L66.0,424.5 L66.7,424.5 L67.4,424.5 L68.2,424.6 L68.9,424.6 L69.6,424.6 L70.3,424.6 L71.0,424.6 L71.7,424.7 L72.4,424.7 L73.1,424.7 L73.9,424.7 L74.6,424.8 L75.3,424.8 L76.0,424.8 L76.7,424.8 L77.3,424.9" stroke="#1c4a80" stroke-width=".8" fill="none"/>
<path d="M152.5,108.0 L154.0,108.3 L157.5,109.0 L161.0,109.7 L164.5,110.4 L168.0,111.1 L171.5,111.8 L175.0,112.6 L178.5,113.3 L182.0,114.1 L185.5,114.9 L189.0,115.6 L192.5,116.4 L196.0,117.2 L199.5,118.0 L202.9,118.8 L206.4,119.7 L209.9,120.5 L213.4,121.3 L216.9,122.2 L220.4,123.1 L223.9,123.9 L227.4,124.8 L230.9,125.7 L234.4,126.6 L237.9,127.5 L241.4,128.4 L244.9,129.3 L248.4,130.2 L251.9,131.1 L255.4,132.0 L258.9,133.0 L262.4,133.9 L265.9,134.9 L269.4,135.8 L272.9,136.8 L276.4,137.8 L279.9,138.8 L283.4,139.8 L286.9,140.7 L290.4,141.8 L293.8,142.8 L297.3,143.8 L300.8,144.8 L304.3,145.9 L307.8,146.9 L311.3,148.0 L314.8,149.0 L318.3,150.1 L321.8,151.2 L325.3,152.3 L328.8,153.4 L332.3,154.5 L335.8,155.6 L339.3,156.7 L340.0,157.0 L342.8,158.7 L346.3,160.9 L349.8,163.1 L353.3,165.3 L356.8,167.5 L360.3,169.7 L363.8,172.0 L367.3,174.2 L370.8,176.4 L374.3,178.6 L377.8,180.8 L381.3,183.0 L384.8,185.2 L388.2,187.4 L391.7,189.6 L395.2,191.9 L398.7,194.1 L402.2,196.3 L405.7,198.5 L409.2,200.7 L412.7,202.9 L416.2,205.2 L419.7,207.4 L423.2,209.6 L426.7,211.8 L430.2,214.0 L433.7,216.3 L437.2,218.5 L440.7,220.7 L444.2,222.9 L447.7,225.2 L451.2,227.4 L454.7,229.6 L458.2,231.9 L461.7,234.1 L465.2,236.3 L468.7,238.5 L472.2,240.8 L475.7,243.0 L479.2,245.2 L482.6,247.5 L486.1,249.7 L489.6,251.9 L493.1,254.2 L496.6,256.4 L500.1,258.7 L503.6,260.9 L507.1,263.1 L510.6,265.4 L514.1,267.6 L517.6,269.9 L521.1,272.1 L524.6,274.3 L528.1,276.6 L531.6,278.8 L535.1,281.1 L538.6,283.3 L542.1,285.6 L545.6,287.8 M141.1,167.6 L141.6,167.7 L144.9,168.3 L148.2,168.8 L151.5,169.4 L154.7,170.0 L158.0,170.6 L161.3,171.2 L164.6,171.9 L167.9,172.5 L171.2,173.1 L174.4,173.8 L177.7,174.5 L181.0,175.1 L184.3,175.8 L187.6,176.5 L190.8,177.2 L194.1,177.9 L197.4,178.6 L200.7,179.3 L204.0,180.0 L207.2,180.8 L210.5,181.5 L213.8,182.3 L217.1,183.0 L220.4,183.8 L223.6,184.6 L226.9,185.3 L230.2,186.1 L233.5,186.9 L236.8,187.7 L240.1,188.5 L243.3,189.3 L246.6,190.1 L249.9,191.0 L253.2,191.8 L256.5,192.7 L259.7,193.5 L263.0,194.4 L266.3,195.2 L269.6,196.1 L272.9,197.0 L276.1,197.9 L279.4,198.8 L282.7,199.7 L286.0,200.6 L289.3,201.5 L292.5,202.4 L295.8,203.4 L299.1,204.3 L302.4,205.3 L305.7,206.2 L308.9,207.2 L312.2,208.2 L315.5,209.2 L318.8,210.2 L322.1,211.2 L325.4,212.2 L328.6,213.3 L331.9,214.3 L335.2,215.4 L338.5,216.5 L341.8,217.6 L345.0,218.7 L348.3,219.8 L351.6,220.9 L354.9,222.1 L358.2,223.2 L361.4,224.4 L364.7,225.6 L368.0,226.8 L371.3,228.0 L374.6,229.2 L377.8,230.5 L381.1,231.8 L384.4,233.1 L387.7,234.4 L391.0,235.7 L394.3,237.0 L397.5,238.4 L400.8,239.8 L404.1,241.2 L407.4,242.6 L410.7,244.1 L413.9,245.6 L417.2,247.1 L420.5,248.6 L423.8,250.2 L427.1,251.7 L430.3,253.4 L433.6,255.0 L436.9,256.6 L440.2,258.3 L443.5,260.0 L446.7,261.8 L450.0,263.6 L453.3,265.4 L456.6,267.2 L459.9,269.1 L463.2,271.0 L466.4,272.9 L469.7,274.9 L473.0,276.9 L476.3,279.0 L479.6,281.0 L482.8,283.2 L486.1,285.3 L489.4,287.5 L492.7,289.8 L496.0,292.1 L499.2,294.4 L502.5,296.7 L505.8,299.2 L509.1,301.6 L512.4,304.1 L515.6,306.7 M133.3,223.6 L135.9,224.0 L138.9,224.4 L141.8,224.9 L144.7,225.4 L147.7,225.9 L150.6,226.4 L153.5,226.9 L156.5,227.4 L159.4,227.9 L162.4,228.4 L165.3,228.9 L168.2,229.5 L171.2,230.0 L174.1,230.6 L177.0,231.1 L180.0,231.7 L182.9,232.3 L185.8,232.8 L188.8,233.4 L191.7,234.0 L194.6,234.6 L197.6,235.2 L200.5,235.8 L203.5,236.4 L206.4,237.0 L209.3,237.6 L212.3,238.2 L215.2,238.9 L218.1,239.5 L221.1,240.2 L224.0,240.8 L226.9,241.5 L229.9,242.1 L232.8,242.8 L235.7,243.4 L238.7,244.1 L241.6,244.8 L244.6,245.5 L247.5,246.2 L250.4,246.9 L253.4,247.6 L256.3,248.3 L259.2,249.0 L262.2,249.7 L265.1,250.4 L268.0,251.2 L271.0,251.9 L273.9,252.7 L276.8,253.4 L279.8,254.2 L282.7,255.0 L285.7,255.7 L288.6,256.5 L291.5,257.3 L294.5,258.1 L297.4,258.9 L300.3,259.8 L303.3,260.6 L306.2,261.4 L309.1,262.3 L312.1,263.1 L315.0,264.0 L317.9,264.9 L320.9,265.8 L323.8,266.7 L326.8,267.6 L329.7,268.5 L332.6,269.5 L335.6,270.4 L338.5,271.4 L341.4,272.3 L344.4,273.3 L347.3,274.3 L350.2,275.3 L353.2,276.4 L356.1,277.4 L359.0,278.5 L362.0,279.6 L364.9,280.7 L367.9,281.8 L370.8,282.9 L373.7,284.0 L376.7,285.2 L379.6,286.4 L382.5,287.6 L385.5,288.8 L388.4,290.0 L391.3,291.3 L394.3,292.6 L397.2,293.9 L400.1,295.2 L403.1,296.6 L406.0,297.9 L409.0,299.3 L411.9,300.8 L414.8,302.2 L417.8,303.7 L420.7,305.2 L423.6,306.7 L426.6,308.3 L429.5,309.8 L432.4,311.5 L435.4,313.1 L438.3,314.8 L441.2,316.5 L444.2,318.2 L447.1,319.9 L450.1,321.7 L453.0,323.6 L455.9,325.4 L458.9,327.3 L461.8,329.3 L464.7,331.2 L467.7,333.2 M119.6,272.2 L121.5,272.4 L124.0,272.7 L126.6,273.1 L129.2,273.5 L131.8,273.8 L134.4,274.2 L136.9,274.6 L139.5,275.0 L142.1,275.3 L144.7,275.7 L147.2,276.1 L149.8,276.5 L152.4,277.0 L155.0,277.4 L157.6,277.8 L160.1,278.2 L162.7,278.6 L165.3,279.1 L167.9,279.5 L170.4,280.0 L173.0,280.4 L175.6,280.9 L178.2,281.3 L180.8,281.8 L183.3,282.2 L185.9,282.7 L188.5,283.2 L191.1,283.6 L193.6,284.1 L196.2,284.6 L198.8,285.1 L201.4,285.6 L204.0,286.1 L206.5,286.6 L209.1,287.1 L211.7,287.6 L214.3,288.1 L216.8,288.6 L219.4,289.1 L222.0,289.7 L224.6,290.2 L227.2,290.7 L229.7,291.3 L232.3,291.8 L234.9,292.3 L237.5,292.9 L240.1,293.5 L242.6,294.0 L245.2,294.6 L247.8,295.1 L250.4,295.7 L252.9,296.3 L255.5,296.9 L258.1,297.5 L260.7,298.1 L263.3,298.7 L265.8,299.3 L268.4,299.9 L271.0,300.5 L273.6,301.2 L276.1,301.8 L278.7,302.4 L281.3,303.1 L283.9,303.8 L286.5,304.4 L289.0,305.1 L291.6,305.8 L294.2,306.5 L296.8,307.2 L299.3,307.9 L301.9,308.6 L304.5,309.3 L307.1,310.1 L309.7,310.8 L312.2,311.6 L314.8,312.3 L317.4,313.1 L320.0,313.9 L322.5,314.7 L325.1,315.5 L327.7,316.4 L330.3,317.2 L332.9,318.1 L335.4,318.9 L338.0,319.8 L340.6,320.7 L343.2,321.6 L345.7,322.5 L348.3,323.5 L350.9,324.4 L353.5,325.4 L356.1,326.4 L358.6,327.4 L361.2,328.4 L363.8,329.4 L366.4,330.5 L368.9,331.6 L371.5,332.7 L374.1,333.8 L376.7,334.9 L379.3,336.1 L381.8,337.2 L384.4,338.4 L387.0,339.6 L389.6,340.9 L392.1,342.1 L394.7,343.4 L397.3,344.7 L399.9,346.1 L402.5,347.4 L405.0,348.8 L407.6,350.2 L410.2,351.6 L412.8,353.1 L415.3,354.6 L417.9,356.1 M114.3,316.1 L115.2,316.2 L117.4,316.4 L119.6,316.7 L121.8,317.0 L124.1,317.3 L126.3,317.5 L128.5,317.8 L130.7,318.1 L133.0,318.4 L135.2,318.7 L137.4,319.0 L139.6,319.3 L141.9,319.6 L144.1,319.9 L146.3,320.2 L148.5,320.5 L150.7,320.8 L153.0,321.2 L155.2,321.5 L157.4,321.8 L159.6,322.1 L161.9,322.5 L164.1,322.8 L166.3,323.1 L168.5,323.5 L170.8,323.8 L173.0,324.2 L175.2,324.5 L177.4,324.9 L179.7,325.2 L181.9,325.6 L184.1,326.0 L186.3,326.3 L188.5,326.7 L190.8,327.1 L193.0,327.4 L195.2,327.8 L197.4,328.2 L199.7,328.6 L201.9,329.0 L204.1,329.4 L206.3,329.8 L208.6,330.2 L210.8,330.6 L213.0,331.0 L215.2,331.4 L217.4,331.8 L219.7,332.2 L221.9,332.6 L224.1,333.0 L226.3,333.5 L228.6,333.9 L230.8,334.3 L233.0,334.8 L235.2,335.2 L237.5,335.7 L239.7,336.1 L241.9,336.6 L244.1,337.0 L246.3,337.5 L248.6,338.0 L250.8,338.4 L253.0,338.9 L255.2,339.4 L257.5,339.9 L259.7,340.4 L261.9,340.9 L264.1,341.4 L266.4,341.9 L268.6,342.5 L270.8,343.0 L273.0,343.5 L275.2,344.1 L277.5,344.7 L279.7,345.2 L281.9,345.8 L284.1,346.4 L286.4,347.0 L288.6,347.6 L290.8,348.2 L293.0,348.8 L295.3,349.4 L297.5,350.0 L299.7,350.7 L301.9,351.3 L304.1,352.0 L306.4,352.7 L308.6,353.4 L310.8,354.1 L313.0,354.8 L315.3,355.5 L317.5,356.2 L319.7,357.0 L321.9,357.7 L324.2,358.5 L326.4,359.3 L328.6,360.1 L330.8,360.9 L333.0,361.8 L335.3,362.6 L337.5,363.5 L339.7,364.3 L341.9,365.2 L344.2,366.1 L346.4,367.1 L348.6,368.0 L350.8,369.0 L353.1,369.9 L355.3,370.9 L357.5,371.9 L359.7,373.0 L362.0,374.0 L364.2,375.1 L366.4,376.2 L368.6,377.3 M105.3,352.8 L106.2,352.9 L108.0,353.0 L109.9,353.2 L111.7,353.4 L113.6,353.6 L115.5,353.8 L117.3,354.0 L119.2,354.2 L121.1,354.4 L122.9,354.6 L124.8,354.8 L126.6,355.0 L128.5,355.2 L130.4,355.5 L132.2,355.7 L134.1,355.9 L135.9,356.1 L137.8,356.3 L139.7,356.6 L141.5,356.8 L143.4,357.0 L145.3,357.3 L147.1,357.5 L149.0,357.7 L150.8,358.0 L152.7,358.2 L154.6,358.5 L156.4,358.7 L158.3,359.0 L160.2,359.2 L162.0,359.5 L163.9,359.7 L165.7,360.0 L167.6,360.2 L169.5,360.5 L171.3,360.8 L173.2,361.0 L175.1,361.3 L176.9,361.6 L178.8,361.8 L180.6,362.1 L182.5,362.4 L184.4,362.7 L186.2,363.0 L188.1,363.2 L189.9,363.5 L191.8,363.8 L193.7,364.1 L195.5,364.4 L197.4,364.7 L199.3,365.0 L201.1,365.3 L203.0,365.6 L204.8,365.9 L206.7,366.2 L208.6,366.5 L210.4,366.9 L212.3,367.2 L214.2,367.5 L216.0,367.8 L217.9,368.2 L219.7,368.5 L221.6,368.8 L223.5,369.2 L225.3,369.5 L227.2,369.9 L229.1,370.2 L230.9,370.6 L232.8,371.0 L234.6,371.3 L236.5,371.7 L238.4,372.1 L240.2,372.5 L242.1,372.9 L244.0,373.3 L245.8,373.7 L247.7,374.1 L249.5,374.5 L251.4,374.9 L253.3,375.3 L255.1,375.8 L257.0,376.2 L258.8,376.6 L260.7,377.1 L262.6,377.6 L264.4,378.0 L266.3,378.5 L268.2,379.0 L270.0,379.5 L271.9,380.0 L273.7,380.5 L275.6,381.0 L277.5,381.5 L279.3,382.1 L281.2,382.6 L283.1,383.2 L284.9,383.7 L286.8,384.3 L288.6,384.9 L290.5,385.5 L292.4,386.1 L294.2,386.7 L296.1,387.3 L298.0,388.0 L299.8,388.6 L301.7,389.3 L303.5,389.9 L305.4,390.6 L307.3,391.3 L309.1,392.0 L311.0,392.8 L312.9,393.5 L314.7,394.2 L316.6,395.0 L318.4,395.8 M96.2,383.2 L97.0,383.3 L98.5,383.4 L100.0,383.5 L101.5,383.7 L102.9,383.8 L104.4,383.9 L105.9,384.0 L107.4,384.1 L108.9,384.3 L110.4,384.4 L111.9,384.5 L113.4,384.7 L114.9,384.8 L116.4,384.9 L117.9,385.1 L119.4,385.2 L120.9,385.4 L122.4,385.5 L123.9,385.6 L125.4,385.8 L126.9,385.9 L128.4,386.1 L129.9,386.2 L131.3,386.4 L132.8,386.5 L134.3,386.7 L135.8,386.8 L137.3,387.0 L138.8,387.1 L140.3,387.3 L141.8,387.5 L143.3,387.6 L144.8,387.8 L146.3,387.9 L147.8,388.1 L149.3,388.3 L150.8,388.4 L152.3,388.6 L153.8,388.8 L155.3,388.9 L156.8,389.1 L158.3,389.3 L159.8,389.5 L161.2,389.6 L162.7,389.8 L164.2,390.0 L165.7,390.2 L167.2,390.4 L168.7,390.5 L170.2,390.7 L171.7,390.9 L173.2,391.1 L174.7,391.3 L176.2,391.5 L177.7,391.7 L179.2,391.9 L180.7,392.1 L182.2,392.3 L183.7,392.5 L185.2,392.7 L186.7,392.9 L188.2,393.1 L189.6,393.3 L191.1,393.5 L192.6,393.8 L194.1,394.0 L195.6,394.2 L197.1,394.4 L198.6,394.7 L200.1,394.9 L201.6,395.1 L203.1,395.4 L204.6,395.6 L206.1,395.9 L207.6,396.1 L209.1,396.4 L210.6,396.6 L212.1,396.9 L213.6,397.1 L215.1,397.4 L216.6,397.7 L218.0,398.0 L219.5,398.2 L221.0,398.5 L222.5,398.8 L224.0,399.1 L225.5,399.4 L227.0,399.7 L228.5,400.0 L230.0,400.3 L231.5,400.6 L233.0,401.0 L234.5,401.3 L236.0,401.6 L237.5,402.0 L239.0,402.3 L240.5,402.7 L242.0,403.0 L243.5,403.4 L245.0,403.8 L246.4,404.2 L247.9,404.5 L249.4,404.9 L250.9,405.3 L252.4,405.7 L253.9,406.2 L255.4,406.6 L256.9,407.0 L258.4,407.4 L259.9,407.9 L261.4,408.4 L262.9,408.8 L264.4,409.3 L265.9,409.8 L267.4,410.3 M82.7,415.9 L83.0,415.9 L84.0,415.9 L84.9,416.0 L85.8,416.0 L86.8,416.1 L87.7,416.1 L88.7,416.2 L89.6,416.2 L90.5,416.3 L91.5,416.3 L92.4,416.4 L93.3,416.4 L94.3,416.5 L95.2,416.5 L96.2,416.6 L97.1,416.6 L98.0,416.7 L99.0,416.8 L99.9,416.8 L100.8,416.9 L101.8,416.9 L102.7,417.0 L103.7,417.0 L104.6,417.1 L105.5,417.2 L106.5,417.2 L107.4,417.3 L108.3,417.3 L109.3,417.4 L110.2,417.5 L111.2,417.5 L112.1,417.6 L113.0,417.6 L114.0,417.7 L114.9,417.8 L115.8,417.8 L116.8,417.9 L117.7,418.0 L118.7,418.0 L119.6,418.1 L120.5,418.2 L121.5,418.2 L122.4,418.3 L123.3,418.4 L124.3,418.4 L125.2,418.5 L126.2,418.6 L127.1,418.7 L128.0,418.7 L129.0,418.8 L129.9,418.9 L130.8,418.9 L131.8,419.0 L132.7,419.1 L133.7,419.2 L134.6,419.2 L135.5,419.3 L136.5,419.4 L137.4,419.5 L138.3,419.6 L139.3,419.6 L140.2,419.7 L141.2,419.8 L142.1,419.9 L143.0,420.0 L144.0,420.1 L144.9,420.2 L145.8,420.2 L146.8,420.3 L147.7,420.4 L148.7,420.5 L149.6,420.6 L150.5,420.7 L151.5,420.8 L152.4,420.9 L153.3,421.0 L154.3,421.1 L155.2,421.2 L156.2,421.3 L157.1,421.4 L158.0,421.5 L159.0,421.6 L159.9,421.7 L160.8,421.8 L161.8,421.9 L162.7,422.1 L163.7,422.2 L164.6,422.3 L165.5,422.4 L166.5,422.5 L167.4,422.7 L168.3,422.8 L169.3,422.9 L170.2,423.0 L171.2,423.2 L172.1,423.3 L173.0,423.4 L174.0,423.6 L174.9,423.7 L175.8,423.9 L176.8,424.0 L177.7,424.2 L178.7,424.3 L179.6,424.5 L180.5,424.6 L181.5,424.8 L182.4,425.0 L183.3,425.1 L184.3,425.3 L185.2,425.5 L186.1,425.7 L187.1,425.8 L188.0,426.0 L189.0,426.2 L189.9,426.4 M77.3,424.9 L77.4,424.9 L78.1,424.9 L78.8,424.9 L79.6,425.0 L80.3,425.0 L81.0,425.0 L81.7,425.0 L82.4,425.1 L83.1,425.1 L83.8,425.1 L84.5,425.2 L85.3,425.2 L86.0,425.2 L86.7,425.3 L87.4,425.3 L88.1,425.3 L88.8,425.4 L89.5,425.4 L90.2,425.4 L91.0,425.5 L91.7,425.5 L92.4,425.5 L93.1,425.6 L93.8,425.6 L94.5,425.7 L95.2,425.7 L95.9,425.7 L96.7,425.8 L97.4,425.8 L98.1,425.8 L98.8,425.9 L99.5,425.9 L100.2,426.0 L100.9,426.0 L101.6,426.0 L102.4,426.1 L103.1,426.1 L103.8,426.2 L104.5,426.2 L105.2,426.2 L105.9,426.3 L106.6,426.3 L107.3,426.4 L108.1,426.4 L108.8,426.5 L109.5,426.5 L110.2,426.5 L110.9,426.6 L111.6,426.6 L112.3,426.7 L113.0,426.7 L113.8,426.8 L114.5,426.8 L115.2,426.9 L115.9,426.9 L116.6,427.0 L117.3,427.0 L118.0,427.1 L118.7,427.1 L119.5,427.2 L120.2,427.2 L120.9,427.3 L121.6,427.3 L122.3,427.4 L123.0,427.4 L123.7,427.5 L124.4,427.5 L125.2,427.6 L125.9,427.6 L126.6,427.7 L127.3,427.8 L128.0,427.8 L128.7,427.9 L129.4,427.9 L130.1,428.0 L130.9,428.1 L131.6,428.1 L132.3,428.2 L133.0,428.2 L133.7,428.3 L134.4,428.4 L135.1,428.4 L135.8,428.5 L136.6,428.6 L137.3,428.7 L138.0,428.7 L138.7,428.8 L139.4,428.9 L140.1,428.9 L140.8,429.0 L141.5,429.1 L142.3,429.2 L143.0,429.3 L143.7,429.3 L144.4,429.4 L145.1,429.5 L145.8,429.6 L146.5,429.7 L147.2,429.8 L148.0,429.9 L148.7,430.0 L149.4,430.1 L150.1,430.1 L150.8,430.2 L151.5,430.3 L152.2,430.4 L152.9,430.5 L153.7,430.7 L154.4,430.8 L155.1,430.9 L155.8,431.0 L156.5,431.1 L157.2,431.2 L157.9,431.3 L158.6,431.4" stroke="#1c4a80" stroke-width="1.55" fill="none" stroke-linejoin="round"/>
<path d="M59.6,615.8 L63.1,614.7 L66.6,613.6 L70.1,612.5 L73.6,611.4 L77.1,610.3 L80.6,609.3 L84.1,608.2 L87.6,607.1 L91.1,606.0 L94.6,604.9 L98.1,603.8 L101.6,602.8 L105.1,601.7 L108.5,600.6 L112.0,599.6 L115.5,598.5 L119.0,597.4 L122.5,596.4 L126.0,595.3 L129.5,594.2 L133.0,593.2 L136.5,592.1 L140.0,591.1 L143.5,590.0 L147.0,589.0 L150.5,588.0 L154.0,586.9 L157.5,585.9 L161.0,584.8 L164.5,583.8 L168.0,582.8 L171.5,581.8 L175.0,580.7 L178.5,579.7 L182.0,578.7 L185.5,577.7 L189.0,576.6 L192.5,575.6 L196.0,574.6 L199.5,573.6 L202.9,572.6 L206.4,571.6 L209.9,570.6 L213.4,569.6 L216.9,568.6 L220.4,567.6 L223.9,566.6 L227.4,565.6 L230.9,564.6 L234.4,563.7 L237.9,562.7 L241.4,561.7 L244.9,560.7 L248.4,559.7 L251.9,558.8 L255.4,557.8 L258.9,556.8 L262.4,555.9 L265.9,554.9 L269.4,554.0 L272.9,553.0 L276.4,552.1 L279.9,551.2 L283.4,550.3 L286.9,549.3 L290.4,548.4 L293.8,547.5 L297.3,546.6 L300.8,545.8 L304.3,544.9 L307.8,544.0 L311.3,543.2 L314.8,542.3 L318.3,541.5 L321.8,540.6 L325.3,539.8 L328.8,539.0 L332.3,538.2 L335.8,537.4 L339.3,536.7 L340.0,536.5 L342.8,536.5 L346.3,536.5 L349.8,536.5 L353.3,536.5 L356.8,536.5 L360.3,536.5 L363.8,536.5 L367.3,536.5 L370.8,536.5 L374.3,536.5 L377.8,536.5 L381.3,536.5 L384.8,536.5 L388.2,536.5 L391.7,536.5 L395.2,536.5 L398.7,536.5 L402.2,536.5 L405.7,536.5 L409.2,536.5 L412.7,536.5 L416.2,536.5 L419.7,536.5 L423.2,536.5 L426.7,536.5 L430.2,536.5 L433.7,536.5 L437.2,536.5 L440.7,536.5 L444.2,536.5 L447.7,536.5 L451.2,536.5 L454.7,536.5 L458.2,536.5 L461.7,536.5 L465.2,536.5 L468.7,536.5 L472.2,536.5 L475.7,536.5 L479.2,536.5 L482.6,536.5 L486.1,536.5 L489.6,536.5 L493.1,536.5 L496.6,536.5 L500.1,536.5 L503.6,536.5 L507.1,536.5 L510.6,536.5 L514.1,536.5 L517.6,536.5 L521.1,536.5 L524.6,536.5 L528.1,536.5 L531.6,536.5 L535.1,536.5 L538.6,536.5 L542.1,536.5 L545.6,536.5 M59.6,602.4 L63.1,601.1 L66.6,599.9 L70.1,598.6 L73.6,597.3 L77.1,596.1 L80.6,594.8 L84.1,593.6 L87.6,592.3 L91.1,591.1 L94.6,589.8 L98.1,588.6 L101.6,587.3 L105.1,586.1 L108.5,584.9 L112.0,583.7 L115.5,582.4 L119.0,581.2 L122.5,580.0 L126.0,578.8 L129.5,577.6 L133.0,576.4 L136.5,575.2 L140.0,574.0 L143.5,572.8 L147.0,571.6 L150.5,570.4 L152.5,569.7 M59.6,635.4 L62.9,634.6 L66.2,633.7 L69.4,632.9 L72.7,632.1 L76.0,631.2 L79.3,630.4 L82.6,629.5 L85.8,628.7 L89.1,627.9 L92.4,627.0 L95.7,626.2 L99.0,625.4 L102.3,624.6 L105.5,623.7 L108.8,622.9 L112.1,622.1 L115.4,621.3 L118.7,620.4 L121.9,619.6 L125.2,618.8 L128.5,618.0 L131.8,617.2 L135.1,616.4 L138.3,615.6 L141.6,614.8 L144.9,614.0 L148.2,613.2 L151.5,612.4 L154.7,611.6 L158.0,610.8 L161.3,610.0 L164.6,609.2 L167.9,608.4 L171.2,607.6 L174.4,606.8 L177.7,606.1 L181.0,605.3 L184.3,604.5 L187.6,603.7 L190.8,602.9 L194.1,602.2 L197.4,601.4 L200.7,600.6 L204.0,599.9 L207.2,599.1 L210.5,598.3 L213.8,597.6 L217.1,596.8 L220.4,596.1 L223.6,595.3 L226.9,594.6 L230.2,593.8 L233.5,593.1 L236.8,592.3 L240.1,591.6 L243.3,590.8 L246.6,590.1 L249.9,589.4 L253.2,588.7 L256.5,587.9 L259.7,587.2 L263.0,586.5 L266.3,585.8 L269.6,585.1 L272.9,584.4 L276.1,583.7 L279.4,583.1 L282.7,582.4 L286.0,581.7 L289.3,581.1 L292.5,580.5 L295.8,579.8 L299.1,579.2 L302.4,578.6 L305.7,578.0 L308.9,577.4 L312.2,576.8 L315.5,576.2 L318.8,575.6 L322.1,575.1 L325.4,574.5 L328.6,574.0 L331.9,573.4 L335.2,572.9 L338.5,572.4 L341.8,571.9 L345.0,571.4 L348.3,571.0 L351.6,570.5 L354.9,570.0 L358.2,569.6 L361.4,569.2 L364.7,568.8 L368.0,568.4 L371.3,568.0 L374.6,567.6 L377.8,567.2 L381.1,566.9 L384.4,566.5 L387.7,566.2 L391.0,565.9 L394.3,565.5 L397.5,565.2 L400.8,565.0 L404.1,564.7 L407.4,564.4 L410.7,564.2 L413.9,563.9 L417.2,563.7 L420.5,563.5 L423.8,563.3 L427.1,563.1 L430.3,562.9 L433.6,562.8 L436.9,562.6 L440.2,562.5 L443.5,562.3 L446.7,562.2 L450.0,562.1 L453.3,562.0 L456.6,562.0 L459.9,561.9 L463.2,561.8 L466.4,561.8 L469.7,561.8 L473.0,561.8 L476.3,561.8 L479.6,561.8 L482.8,561.8 L486.1,561.9 L489.4,561.9 L492.7,562.0 L496.0,562.1 L499.2,562.2 L502.5,562.3 L505.8,562.4 L509.1,562.6 L512.4,562.7 L515.6,562.9 M59.6,623.5 L62.9,622.5 L66.2,621.5 L69.4,620.6 L72.7,619.6 L76.0,618.7 L79.3,617.7 L82.6,616.8 L85.8,615.8 L89.1,614.9 L92.4,613.9 L95.7,613.0 L99.0,612.1 L102.3,611.1 L105.5,610.2 L108.8,609.3 L112.1,608.4 L115.4,607.4 L118.7,606.5 L121.9,605.6 L125.2,604.7 L128.5,603.8 L131.8,602.9 L135.1,602.0 L138.3,601.1 L141.1,600.4 M59.6,651.5 L62.5,650.9 L65.5,650.3 L68.4,649.8 L71.3,649.2 L74.3,648.6 L77.2,648.0 L80.2,647.4 L83.1,646.8 L86.0,646.2 L89.0,645.6 L91.9,645.0 L94.8,644.4 L97.8,643.8 L100.7,643.3 L103.6,642.7 L106.6,642.1 L109.5,641.5 L112.4,640.9 L115.4,640.4 L118.3,639.8 L121.3,639.2 L124.2,638.6 L127.1,638.1 L130.1,637.5 L133.0,636.9 L135.9,636.4 L138.9,635.8 L141.8,635.2 L144.7,634.7 L147.7,634.1 L150.6,633.5 L153.5,633.0 L156.5,632.4 L159.4,631.9 L162.4,631.3 L165.3,630.8 L168.2,630.2 L171.2,629.7 L174.1,629.1 L177.0,628.6 L180.0,628.0 L182.9,627.5 L185.8,626.9 L188.8,626.4 L191.7,625.8 L194.6,625.3 L197.6,624.8 L200.5,624.2 L203.5,623.7 L206.4,623.2 L209.3,622.6 L212.3,622.1 L215.2,621.6 L218.1,621.0 L221.1,620.5 L224.0,620.0 L226.9,619.5 L229.9,619.0 L232.8,618.4 L235.7,617.9 L238.7,617.4 L241.6,616.9 L244.6,616.4 L247.5,615.9 L250.4,615.5 L253.4,615.0 L256.3,614.5 L259.2,614.0 L262.2,613.6 L265.1,613.1 L268.0,612.6 L271.0,612.2 L273.9,611.7 L276.8,611.3 L279.8,610.9 L282.7,610.5 L285.7,610.0 L288.6,609.6 L291.5,609.2 L294.5,608.8 L297.4,608.4 L300.3,608.1 L303.3,607.7 L306.2,607.3 L309.1,607.0 L312.1,606.6 L315.0,606.3 L317.9,605.9 L320.9,605.6 L323.8,605.3 L326.8,605.0 L329.7,604.7 L332.6,604.4 L335.6,604.1 L338.5,603.8 L341.4,603.5 L344.4,603.3 L347.3,603.0 L350.2,602.8 L353.2,602.5 L356.1,602.3 L359.0,602.1 L362.0,601.9 L364.9,601.7 L367.9,601.5 L370.8,601.3 L373.7,601.1 L376.7,601.0 L379.6,600.8 L382.5,600.7 L385.5,600.5 L388.4,600.4 L391.3,600.2 L394.3,600.1 L397.2,600.0 L400.1,599.9 L403.1,599.8 L406.0,599.8 L409.0,599.7 L411.9,599.6 L414.8,599.6 L417.8,599.5 L420.7,599.5 L423.6,599.5 L426.6,599.4 L429.5,599.4 L432.4,599.4 L435.4,599.4 L438.3,599.5 L441.2,599.5 L444.2,599.5 L447.1,599.6 L450.1,599.6 L453.0,599.7 L455.9,599.8 L458.9,599.9 L461.8,600.0 L464.7,600.1 L467.7,600.2 M59.6,643.3 L62.5,642.6 L65.5,641.9 L68.4,641.3 L71.3,640.6 L74.3,639.9 L77.2,639.2 L80.2,638.6 L83.1,637.9 L86.0,637.2 L89.0,636.6 L91.9,635.9 L94.8,635.3 L97.8,634.6 L100.7,634.0 L103.6,633.3 L106.6,632.7 L109.5,632.0 L112.4,631.4 L115.4,630.7 L118.3,630.1 L121.3,629.4 L124.2,628.8 L127.1,628.2 L130.1,627.5 L133.0,626.9 L133.3,626.9 M59.6,664.1 L62.2,663.7 L64.8,663.3 L67.3,662.9 L69.9,662.5 L72.5,662.1 L75.1,661.7 L77.6,661.3 L80.2,660.9 L82.8,660.5 L85.4,660.1 L88.0,659.7 L90.5,659.3 L93.1,658.9 L95.7,658.5 L98.3,658.1 L100.8,657.7 L103.4,657.3 L106.0,657.0 L108.6,656.6 L111.2,656.2 L113.7,655.8 L116.3,655.4 L118.9,655.0 L121.5,654.6 L124.0,654.2 L126.6,653.9 L129.2,653.5 L131.8,653.1 L134.4,652.7 L136.9,652.3 L139.5,652.0 L142.1,651.6 L144.7,651.2 L147.2,650.8 L149.8,650.4 L152.4,650.1 L155.0,649.7 L157.6,649.3 L160.1,648.9 L162.7,648.6 L165.3,648.2 L167.9,647.8 L170.4,647.5 L173.0,647.1 L175.6,646.7 L178.2,646.4 L180.8,646.0 L183.3,645.6 L185.9,645.3 L188.5,644.9 L191.1,644.6 L193.6,644.2 L196.2,643.8 L198.8,643.5 L201.4,643.1 L204.0,642.8 L206.5,642.4 L209.1,642.1 L211.7,641.7 L214.3,641.4 L216.8,641.0 L219.4,640.7 L222.0,640.4 L224.6,640.0 L227.2,639.7 L229.7,639.4 L232.3,639.1 L234.9,638.7 L237.5,638.4 L240.1,638.1 L242.6,637.8 L245.2,637.5 L247.8,637.2 L250.4,636.9 L252.9,636.6 L255.5,636.3 L258.1,636.0 L260.7,635.8 L263.3,635.5 L265.8,635.2 L268.4,635.0 L271.0,634.7 L273.6,634.5 L276.1,634.2 L278.7,634.0 L281.3,633.7 L283.9,633.5 L286.5,633.3 L289.0,633.0 L291.6,632.8 L294.2,632.6 L296.8,632.4 L299.3,632.2 L301.9,632.0 L304.5,631.8 L307.1,631.6 L309.7,631.5 L312.2,631.3 L314.8,631.1 L317.4,631.0 L320.0,630.8 L322.5,630.7 L325.1,630.5 L327.7,630.4 L330.3,630.3 L332.9,630.1 L335.4,630.0 L338.0,629.9 L340.6,629.8 L343.2,629.7 L345.7,629.6 L348.3,629.5 L350.9,629.4 L353.5,629.3 L356.1,629.3 L358.6,629.2 L361.2,629.1 L363.8,629.1 L366.4,629.0 L368.9,629.0 L371.5,629.0 L374.1,628.9 L376.7,628.9 L379.3,628.9 L381.8,628.9 L384.4,628.9 L387.0,628.9 L389.6,628.9 L392.1,628.9 L394.7,628.9 L397.3,628.9 L399.9,629.0 L402.5,629.0 L405.0,629.1 L407.6,629.1 L410.2,629.2 L412.8,629.2 L415.3,629.3 L417.9,629.4 M59.6,658.2 L62.2,657.7 L64.8,657.2 L67.3,656.8 L69.9,656.3 L72.5,655.8 L75.1,655.4 L77.6,654.9 L80.2,654.4 L82.8,654.0 L85.4,653.5 L88.0,653.1 L90.5,652.6 L93.1,652.2 L95.7,651.7 L98.3,651.3 L100.8,650.9 L103.4,650.4 L106.0,650.0 L108.6,649.5 L111.2,649.1 L113.7,648.7 L116.3,648.2 L118.9,647.8 L119.6,647.7 M59.6,673.8 L61.8,673.6 L64.0,673.3 L66.3,673.1 L68.5,672.8 L70.7,672.6 L72.9,672.3 L75.2,672.1 L77.4,671.8 L79.6,671.6 L81.8,671.3 L84.1,671.1 L86.3,670.8 L88.5,670.6 L90.7,670.3 L92.9,670.1 L95.2,669.8 L97.4,669.6 L99.6,669.3 L101.8,669.1 L104.1,668.8 L106.3,668.6 L108.5,668.3 L110.7,668.1 L113.0,667.8 L115.2,667.6 L117.4,667.4 L119.6,667.1 L121.8,666.9 L124.1,666.6 L126.3,666.4 L128.5,666.1 L130.7,665.9 L133.0,665.7 L135.2,665.4 L137.4,665.2 L139.6,665.0 L141.9,664.7 L144.1,664.5 L146.3,664.3 L148.5,664.0 L150.7,663.8 L153.0,663.6 L155.2,663.3 L157.4,663.1 L159.6,662.9 L161.9,662.6 L164.1,662.4 L166.3,662.2 L168.5,661.9 L170.8,661.7 L173.0,661.5 L175.2,661.3 L177.4,661.0 L179.7,660.8 L181.9,660.6 L184.1,660.4 L186.3,660.1 L188.5,659.9 L190.8,659.7 L193.0,659.5 L195.2,659.3 L197.4,659.0 L199.7,658.8 L201.9,658.6 L204.1,658.4 L206.3,658.2 L208.6,658.0 L210.8,657.8 L213.0,657.6 L215.2,657.4 L217.4,657.2 L219.7,657.0 L221.9,656.8 L224.1,656.6 L226.3,656.5 L228.6,656.3 L230.8,656.1 L233.0,655.9 L235.2,655.8 L237.5,655.6 L239.7,655.4 L241.9,655.3 L244.1,655.1 L246.3,654.9 L248.6,654.8 L250.8,654.6 L253.0,654.5 L255.2,654.3 L257.5,654.2 L259.7,654.1 L261.9,653.9 L264.1,653.8 L266.4,653.7 L268.6,653.6 L270.8,653.4 L273.0,653.3 L275.2,653.2 L277.5,653.1 L279.7,653.0 L281.9,652.9 L284.1,652.8 L286.4,652.7 L288.6,652.6 L290.8,652.5 L293.0,652.4 L295.3,652.4 L297.5,652.3 L299.7,652.2 L301.9,652.1 L304.1,652.1 L306.4,652.0 L308.6,652.0 L310.8,651.9 L313.0,651.9 L315.3,651.8 L317.5,651.8 L319.7,651.7 L321.9,651.7 L324.2,651.7 L326.4,651.6 L328.6,651.6 L330.8,651.6 L333.0,651.6 L335.3,651.6 L337.5,651.6 L339.7,651.6 L341.9,651.6 L344.2,651.6 L346.4,651.6 L348.6,651.6 L350.8,651.6 L353.1,651.6 L355.3,651.7 L357.5,651.7 L359.7,651.7 L362.0,651.8 L364.2,651.8 L366.4,651.9 L368.6,651.9 M59.6,669.5 L61.8,669.2 L64.0,668.9 L66.3,668.6 L68.5,668.3 L70.7,668.0 L72.9,667.7 L75.2,667.4 L77.4,667.1 L79.6,666.8 L81.8,666.5 L84.1,666.2 L86.3,665.9 L88.5,665.6 L90.7,665.3 L92.9,665.0 L95.2,664.7 L97.4,664.5 L99.6,664.2 L101.8,663.9 L104.1,663.6 L106.3,663.3 L108.5,663.0 L110.7,662.7 L113.0,662.5 L114.3,662.3 M59.6,680.8 L61.5,680.6 L63.3,680.5 L65.2,680.3 L67.0,680.2 L68.9,680.0 L70.8,679.9 L72.6,679.8 L74.5,679.6 L76.4,679.5 L78.2,679.3 L80.1,679.2 L81.9,679.0 L83.8,678.9 L85.7,678.7 L87.5,678.6 L89.4,678.4 L91.3,678.3 L93.1,678.1 L95.0,678.0 L96.8,677.9 L98.7,677.7 L100.6,677.6 L102.4,677.4 L104.3,677.3 L106.2,677.1 L108.0,677.0 L109.9,676.9 L111.7,676.7 L113.6,676.6 L115.5,676.4 L117.3,676.3 L119.2,676.2 L121.1,676.0 L122.9,675.9 L124.8,675.7 L126.6,675.6 L128.5,675.5 L130.4,675.3 L132.2,675.2 L134.1,675.1 L135.9,674.9 L137.8,674.8 L139.7,674.7 L141.5,674.5 L143.4,674.4 L145.3,674.2 L147.1,674.1 L149.0,674.0 L150.8,673.8 L152.7,673.7 L154.6,673.6 L156.4,673.4 L158.3,673.3 L160.2,673.2 L162.0,673.1 L163.9,672.9 L165.7,672.8 L167.6,672.7 L169.5,672.5 L171.3,672.4 L173.2,672.3 L175.1,672.2 L176.9,672.0 L178.8,671.9 L180.6,671.8 L182.5,671.7 L184.4,671.6 L186.2,671.4 L188.1,671.3 L189.9,671.2 L191.8,671.1 L193.7,671.0 L195.5,670.9 L197.4,670.8 L199.3,670.7 L201.1,670.5 L203.0,670.4 L204.8,670.3 L206.7,670.2 L208.6,670.1 L210.4,670.0 L212.3,670.0 L214.2,669.9 L216.0,669.8 L217.9,669.7 L219.7,669.6 L221.6,669.5 L223.5,669.4 L225.3,669.3 L227.2,669.3 L229.1,669.2 L230.9,669.1 L232.8,669.0 L234.6,669.0 L236.5,668.9 L238.4,668.8 L240.2,668.8 L242.1,668.7 L244.0,668.6 L245.8,668.6 L247.7,668.5 L249.5,668.5 L251.4,668.4 L253.3,668.4 L255.1,668.3 L257.0,668.3 L258.8,668.2 L260.7,668.2 L262.6,668.1 L264.4,668.1 L266.3,668.1 L268.2,668.0 L270.0,668.0 L271.9,668.0 L273.7,667.9 L275.6,667.9 L277.5,667.9 L279.3,667.9 L281.2,667.9 L283.1,667.8 L284.9,667.8 L286.8,667.8 L288.6,667.8 L290.5,667.8 L292.4,667.8 L294.2,667.8 L296.1,667.8 L298.0,667.8 L299.8,667.8 L301.7,667.8 L303.5,667.8 L305.4,667.8 L307.3,667.9 L309.1,667.9 L311.0,667.9 L312.9,667.9 L314.7,667.9 L316.6,668.0 L318.4,668.0 M59.6,677.8 L61.5,677.6 L63.3,677.4 L65.2,677.2 L67.0,677.0 L68.9,676.8 L70.8,676.7 L72.6,676.5 L74.5,676.3 L76.4,676.1 L78.2,675.9 L80.1,675.8 L81.9,675.6 L83.8,675.4 L85.7,675.2 L87.5,675.1 L89.4,674.9 L91.3,674.7 L93.1,674.5 L95.0,674.4 L96.8,674.2 L98.7,674.0 L100.6,673.9 L102.4,673.7 L104.3,673.5 L105.3,673.4 M59.6,685.5 L61.1,685.5 L62.6,685.4 L64.1,685.3 L65.6,685.2 L67.1,685.1 L68.6,685.1 L70.1,685.0 L71.6,684.9 L73.1,684.8 L74.5,684.8 L76.0,684.7 L77.5,684.6 L79.0,684.5 L80.5,684.5 L82.0,684.4 L83.5,684.3 L85.0,684.3 L86.5,684.2 L88.0,684.1 L89.5,684.0 L91.0,684.0 L92.5,683.9 L94.0,683.8 L95.5,683.7 L97.0,683.7 L98.5,683.6 L100.0,683.5 L101.5,683.4 L102.9,683.4 L104.4,683.3 L105.9,683.2 L107.4,683.2 L108.9,683.1 L110.4,683.0 L111.9,682.9 L113.4,682.9 L114.9,682.8 L116.4,682.7 L117.9,682.7 L119.4,682.6 L120.9,682.5 L122.4,682.5 L123.9,682.4 L125.4,682.3 L126.9,682.3 L128.4,682.2 L129.9,682.1 L131.3,682.0 L132.8,682.0 L134.3,681.9 L135.8,681.8 L137.3,681.8 L138.8,681.7 L140.3,681.6 L141.8,681.6 L143.3,681.5 L144.8,681.4 L146.3,681.4 L147.8,681.3 L149.3,681.2 L150.8,681.2 L152.3,681.1 L153.8,681.1 L155.3,681.0 L156.8,680.9 L158.3,680.9 L159.8,680.8 L161.2,680.7 L162.7,680.7 L164.2,680.6 L165.7,680.6 L167.2,680.5 L168.7,680.5 L170.2,680.4 L171.7,680.3 L173.2,680.3 L174.7,680.2 L176.2,680.2 L177.7,680.1 L179.2,680.1 L180.7,680.0 L182.2,680.0 L183.7,679.9 L185.2,679.9 L186.7,679.8 L188.2,679.8 L189.6,679.8 L191.1,679.7 L192.6,679.7 L194.1,679.6 L195.6,679.6 L197.1,679.6 L198.6,679.5 L200.1,679.5 L201.6,679.4 L203.1,679.4 L204.6,679.4 L206.1,679.3 L207.6,679.3 L209.1,679.3 L210.6,679.3 L212.1,679.2 L213.6,679.2 L215.1,679.2 L216.6,679.1 L218.0,679.1 L219.5,679.1 L221.0,679.1 L222.5,679.1 L224.0,679.0 L225.5,679.0 L227.0,679.0 L228.5,679.0 L230.0,679.0 L231.5,679.0 L233.0,678.9 L234.5,678.9 L236.0,678.9 L237.5,678.9 L239.0,678.9 L240.5,678.9 L242.0,678.9 L243.5,678.9 L245.0,678.9 L246.4,678.9 L247.9,678.9 L249.4,678.9 L250.9,678.9 L252.4,678.9 L253.9,678.9 L255.4,678.9 L256.9,678.9 L258.4,678.9 L259.9,678.9 L261.4,678.9 L262.9,678.9 L264.4,679.0 L265.9,679.0 L267.4,679.0 M59.6,683.5 L61.1,683.3 L62.6,683.2 L64.1,683.1 L65.6,683.0 L67.1,682.9 L68.6,682.8 L70.1,682.7 L71.6,682.6 L73.1,682.5 L74.5,682.4 L76.0,682.3 L77.5,682.3 L79.0,682.2 L80.5,682.1 L82.0,682.0 L83.5,681.9 L85.0,681.8 L86.5,681.7 L88.0,681.6 L89.5,681.5 L91.0,681.4 L92.5,681.3 L94.0,681.2 L95.5,681.1 L96.2,681.1 M59.6,689.3 L60.5,689.2 L61.5,689.2 L62.4,689.2 L63.3,689.2 L64.3,689.2 L65.2,689.1 L66.2,689.1 L67.1,689.1 L68.0,689.1 L69.0,689.1 L69.9,689.0 L70.8,689.0 L71.8,689.0 L72.7,689.0 L73.7,689.0 L74.6,688.9 L75.5,688.9 L76.5,688.9 L77.4,688.9 L78.3,688.9 L79.3,688.9 L80.2,688.8 L81.2,688.8 L82.1,688.8 L83.0,688.8 L84.0,688.8 L84.9,688.7 L85.8,688.7 L86.8,688.7 L87.7,688.7 L88.7,688.7 L89.6,688.7 L90.5,688.6 L91.5,688.6 L92.4,688.6 L93.3,688.6 L94.3,688.6 L95.2,688.5 L96.2,688.5 L97.1,688.5 L98.0,688.5 L99.0,688.5 L99.9,688.5 L100.8,688.4 L101.8,688.4 L102.7,688.4 L103.7,688.4 L104.6,688.4 L105.5,688.4 L106.5,688.3 L107.4,688.3 L108.3,688.3 L109.3,688.3 L110.2,688.3 L111.2,688.3 L112.1,688.2 L113.0,688.2 L114.0,688.2 L114.9,688.2 L115.8,688.2 L116.8,688.2 L117.7,688.1 L118.7,688.1 L119.6,688.1 L120.5,688.1 L121.5,688.1 L122.4,688.1 L123.3,688.0 L124.3,688.0 L125.2,688.0 L126.2,688.0 L127.1,688.0 L128.0,688.0 L129.0,688.0 L129.9,687.9 L130.8,687.9 L131.8,687.9 L132.7,687.9 L133.7,687.9 L134.6,687.9 L135.5,687.9 L136.5,687.9 L137.4,687.8 L138.3,687.8 L139.3,687.8 L140.2,687.8 L141.2,687.8 L142.1,687.8 L143.0,687.8 L144.0,687.8 L144.9,687.8 L145.8,687.7 L146.8,687.7 L147.7,687.7 L148.7,687.7 L149.6,687.7 L150.5,687.7 L151.5,687.7 L152.4,687.7 L153.3,687.7 L154.3,687.7 L155.2,687.7 L156.2,687.7 L157.1,687.7 L158.0,687.6 L159.0,687.6 L159.9,687.6 L160.8,687.6 L161.8,687.6 L162.7,687.6 L163.7,687.6 L164.6,687.6 L165.5,687.6 L166.5,687.6 L167.4,687.6 L168.3,687.6 L169.3,687.6 L170.2,687.6 L171.2,687.6 L172.1,687.6 L173.0,687.6 L174.0,687.6 L174.9,687.6 L175.8,687.6 L176.8,687.6 L177.7,687.6 L178.7,687.6 L179.6,687.6 L180.5,687.6 L181.5,687.6 L182.4,687.6 L183.3,687.6 L184.3,687.6 L185.2,687.6 L186.1,687.6 L187.1,687.6 L188.0,687.6 L189.0,687.6 L189.9,687.6 M59.6,688.1 L60.5,688.1 L61.5,688.1 L62.4,688.0 L63.3,688.0 L64.3,688.0 L65.2,687.9 L66.2,687.9 L67.1,687.9 L68.0,687.8 L69.0,687.8 L69.9,687.8 L70.8,687.7 L71.8,687.7 L72.7,687.7 L73.7,687.6 L74.6,687.6 L75.5,687.6 L76.5,687.5 L77.4,687.5 L78.3,687.5 L79.3,687.5 L80.2,687.4 L81.2,687.4 L82.1,687.4 L82.7,687.3 M59.6,689.9 L60.3,689.9 L61.0,689.9 L61.7,689.9 L62.5,689.9 L63.2,689.9 L63.9,689.9 L64.6,689.9 L65.3,689.9 L66.0,689.9 L66.7,689.9 L67.4,689.8 L68.2,689.8 L68.9,689.8 L69.6,689.8 L70.3,689.8 L71.0,689.8 L71.7,689.8 L72.4,689.8 L73.1,689.8 L73.9,689.8 L74.6,689.8 L75.3,689.8 L76.0,689.7 L76.7,689.7 L77.4,689.7 L78.1,689.7 L78.8,689.7 L79.6,689.7 L80.3,689.7 L81.0,689.7 L81.7,689.7 L82.4,689.7 L83.1,689.7 L83.8,689.7 L84.5,689.6 L85.3,689.6 L86.0,689.6 L86.7,689.6 L87.4,689.6 L88.1,689.6 L88.8,689.6 L89.5,689.6 L90.2,689.6 L91.0,689.6 L91.7,689.6 L92.4,689.6 L93.1,689.6 L93.8,689.5 L94.5,689.5 L95.2,689.5 L95.9,689.5 L96.7,689.5 L97.4,689.5 L98.1,689.5 L98.8,689.5 L99.5,689.5 L100.2,689.5 L100.9,689.5 L101.6,689.5 L102.4,689.5 L103.1,689.4 L103.8,689.4 L104.5,689.4 L105.2,689.4 L105.9,689.4 L106.6,689.4 L107.3,689.4 L108.1,689.4 L108.8,689.4 L109.5,689.4 L110.2,689.4 L110.9,689.4 L111.6,689.4 L112.3,689.4 L113.0,689.4 L113.8,689.3 L114.5,689.3 L115.2,689.3 L115.9,689.3 L116.6,689.3 L117.3,689.3 L118.0,689.3 L118.7,689.3 L119.5,689.3 L120.2,689.3 L120.9,689.3 L121.6,689.3 L122.3,689.3 L123.0,689.3 L123.7,689.3 L124.4,689.3 L125.2,689.3 L125.9,689.3 L126.6,689.3 L127.3,689.3 L128.0,689.2 L128.7,689.2 L129.4,689.2 L130.1,689.2 L130.9,689.2 L131.6,689.2 L132.3,689.2 L133.0,689.2 L133.7,689.2 L134.4,689.2 L135.1,689.2 L135.8,689.2 L136.6,689.2 L137.3,689.2 L138.0,689.2 L138.7,689.2 L139.4,689.2 L140.1,689.2 L140.8,689.2 L141.5,689.2 L142.3,689.2 L143.0,689.2 L143.7,689.2 L144.4,689.2 L145.1,689.2 L145.8,689.2 L146.5,689.2 L147.2,689.2 L148.0,689.2 L148.7,689.2 L149.4,689.2 L150.1,689.2 L150.8,689.2 L151.5,689.2 L152.2,689.2 L152.9,689.2 L153.7,689.2 L154.4,689.2 L155.1,689.2 L155.8,689.2 L156.5,689.2 L157.2,689.2 L157.9,689.2 L158.6,689.2 M59.6,689.1 L60.3,689.1 L61.0,689.1 L61.7,689.0 L62.5,689.0 L63.2,689.0 L63.9,689.0 L64.6,689.0 L65.3,688.9 L66.0,688.9 L66.7,688.9 L67.4,688.9 L68.2,688.9 L68.9,688.8 L69.6,688.8 L70.3,688.8 L71.0,688.8 L71.7,688.8 L72.4,688.7 L73.1,688.7 L73.9,688.7 L74.6,688.7 L75.3,688.7 L76.0,688.7 L76.7,688.6 L77.3,688.6" stroke="#1c4a80" stroke-width=".8" fill="none"/>
<path d="M152.5,569.7 L154.0,569.2 L157.5,568.0 L161.0,566.9 L164.5,565.7 L168.0,564.5 L171.5,563.3 L175.0,562.2 L178.5,561.0 L182.0,559.9 L185.5,558.7 L189.0,557.6 L192.5,556.4 L196.0,555.3 L199.5,554.1 L202.9,553.0 L206.4,551.9 L209.9,550.7 L213.4,549.6 L216.9,548.5 L220.4,547.4 L223.9,546.2 L227.4,545.1 L230.9,544.0 L234.4,542.9 L237.9,541.8 L241.4,540.7 L244.9,539.6 L248.4,538.5 L251.9,537.4 L255.4,536.4 L258.9,535.3 L262.4,534.2 L265.9,533.2 L269.4,532.1 L272.9,531.1 L276.4,530.0 L279.9,529.0 L283.4,528.0 L286.9,526.9 L290.4,525.9 L293.8,524.9 L297.3,524.0 L300.8,523.0 L304.3,522.0 L307.8,521.1 L311.3,520.1 L314.8,519.2 L318.3,518.3 L321.8,517.3 L325.3,516.4 L328.8,515.6 L332.3,514.7 L335.8,513.8 L339.3,513.0 L340.0,512.8 L342.8,512.8 L346.3,512.8 L349.8,512.8 L353.3,512.8 L356.8,512.8 L360.3,512.8 L363.8,512.8 L367.3,512.8 L370.8,512.8 L374.3,512.8 L377.8,512.8 L381.3,512.8 L384.8,512.8 L388.2,512.8 L391.7,512.8 L395.2,512.8 L398.7,512.8 L402.2,512.8 L405.7,512.8 L409.2,512.8 L412.7,512.8 L416.2,512.8 L419.7,512.8 L423.2,512.8 L426.7,512.8 L430.2,512.8 L433.7,512.8 L437.2,512.8 L440.7,512.8 L444.2,512.8 L447.7,512.8 L451.2,512.8 L454.7,512.8 L458.2,512.8 L461.7,512.8 L465.2,512.8 L468.7,512.8 L472.2,512.8 L475.7,512.8 L479.2,512.8 L482.6,512.8 L486.1,512.8 L489.6,512.8 L493.1,512.8 L496.6,512.8 L500.1,512.8 L503.6,512.8 L507.1,512.8 L510.6,512.8 L514.1,512.8 L517.6,512.8 L521.1,512.8 L524.6,512.8 L528.1,512.8 L531.6,512.8 L535.1,512.8 L538.6,512.8 L542.1,512.8 L545.6,512.8 M141.1,600.4 L141.6,600.2 L144.9,599.3 L148.2,598.4 L151.5,597.6 L154.7,596.7 L158.0,595.8 L161.3,594.9 L164.6,594.1 L167.9,593.2 L171.2,592.3 L174.4,591.5 L177.7,590.6 L181.0,589.7 L184.3,588.9 L187.6,588.0 L190.8,587.2 L194.1,586.3 L197.4,585.5 L200.7,584.7 L204.0,583.8 L207.2,583.0 L210.5,582.1 L213.8,581.3 L217.1,580.5 L220.4,579.7 L223.6,578.8 L226.9,578.0 L230.2,577.2 L233.5,576.4 L236.8,575.6 L240.1,574.8 L243.3,574.0 L246.6,573.2 L249.9,572.4 L253.2,571.6 L256.5,570.8 L259.7,570.1 L263.0,569.3 L266.3,568.5 L269.6,567.8 L272.9,567.0 L276.1,566.3 L279.4,565.6 L282.7,564.9 L286.0,564.1 L289.3,563.4 L292.5,562.8 L295.8,562.1 L299.1,561.4 L302.4,560.7 L305.7,560.1 L308.9,559.4 L312.2,558.8 L315.5,558.2 L318.8,557.6 L322.1,557.0 L325.4,556.4 L328.6,555.8 L331.9,555.3 L335.2,554.7 L338.5,554.2 L341.8,553.6 L345.0,553.1 L348.3,552.6 L351.6,552.1 L354.9,551.6 L358.2,551.2 L361.4,550.7 L364.7,550.3 L368.0,549.9 L371.3,549.4 L374.6,549.0 L377.8,548.7 L381.1,548.3 L384.4,547.9 L387.7,547.6 L391.0,547.2 L394.3,546.9 L397.5,546.6 L400.8,546.3 L404.1,546.0 L407.4,545.8 L410.7,545.5 L413.9,545.3 L417.2,545.0 L420.5,544.8 L423.8,544.6 L427.1,544.4 L430.3,544.2 L433.6,544.1 L436.9,543.9 L440.2,543.8 L443.5,543.7 L446.7,543.5 L450.0,543.4 L453.3,543.4 L456.6,543.3 L459.9,543.2 L463.2,543.2 L466.4,543.2 L469.7,543.1 L473.0,543.1 L476.3,543.1 L479.6,543.2 L482.8,543.2 L486.1,543.3 L489.4,543.4 L492.7,543.4 L496.0,543.6 L499.2,543.7 L502.5,543.8 L505.8,544.0 L509.1,544.1 L512.4,544.3 L515.6,544.5 M133.3,626.9 L135.9,626.3 L138.9,625.7 L141.8,625.0 L144.7,624.4 L147.7,623.8 L150.6,623.2 L153.5,622.6 L156.5,622.0 L159.4,621.4 L162.4,620.7 L165.3,620.1 L168.2,619.5 L171.2,618.9 L174.1,618.3 L177.0,617.7 L180.0,617.1 L182.9,616.5 L185.8,616.0 L188.8,615.4 L191.7,614.8 L194.6,614.2 L197.6,613.6 L200.5,613.0 L203.5,612.4 L206.4,611.9 L209.3,611.3 L212.3,610.7 L215.2,610.1 L218.1,609.6 L221.1,609.0 L224.0,608.4 L226.9,607.9 L229.9,607.3 L232.8,606.8 L235.7,606.2 L238.7,605.7 L241.6,605.1 L244.6,604.6 L247.5,604.1 L250.4,603.6 L253.4,603.0 L256.3,602.5 L259.2,602.0 L262.2,601.5 L265.1,601.0 L268.0,600.5 L271.0,600.1 L273.9,599.6 L276.8,599.1 L279.8,598.6 L282.7,598.2 L285.7,597.8 L288.6,597.3 L291.5,596.9 L294.5,596.5 L297.4,596.1 L300.3,595.6 L303.3,595.3 L306.2,594.9 L309.1,594.5 L312.1,594.1 L315.0,593.7 L317.9,593.4 L320.9,593.1 L323.8,592.7 L326.8,592.4 L329.7,592.1 L332.6,591.8 L335.6,591.5 L338.5,591.2 L341.4,590.9 L344.4,590.6 L347.3,590.3 L350.2,590.1 L353.2,589.8 L356.1,589.6 L359.0,589.4 L362.0,589.2 L364.9,589.0 L367.9,588.8 L370.8,588.6 L373.7,588.4 L376.7,588.2 L379.6,588.1 L382.5,587.9 L385.5,587.8 L388.4,587.6 L391.3,587.5 L394.3,587.4 L397.2,587.3 L400.1,587.2 L403.1,587.1 L406.0,587.0 L409.0,586.9 L411.9,586.9 L414.8,586.8 L417.8,586.8 L420.7,586.8 L423.6,586.7 L426.6,586.7 L429.5,586.7 L432.4,586.7 L435.4,586.7 L438.3,586.8 L441.2,586.8 L444.2,586.9 L447.1,586.9 L450.1,587.0 L453.0,587.1 L455.9,587.2 L458.9,587.3 L461.8,587.4 L464.7,587.6 L467.7,587.7 M119.6,647.7 L121.5,647.4 L124.0,646.9 L126.6,646.5 L129.2,646.1 L131.8,645.6 L134.4,645.2 L136.9,644.8 L139.5,644.4 L142.1,643.9 L144.7,643.5 L147.2,643.1 L149.8,642.7 L152.4,642.3 L155.0,641.9 L157.6,641.5 L160.1,641.0 L162.7,640.6 L165.3,640.2 L167.9,639.8 L170.4,639.4 L173.0,639.0 L175.6,638.6 L178.2,638.2 L180.8,637.8 L183.3,637.4 L185.9,637.0 L188.5,636.6 L191.1,636.2 L193.6,635.8 L196.2,635.4 L198.8,635.0 L201.4,634.6 L204.0,634.3 L206.5,633.9 L209.1,633.5 L211.7,633.1 L214.3,632.7 L216.8,632.4 L219.4,632.0 L222.0,631.6 L224.6,631.3 L227.2,630.9 L229.7,630.6 L232.3,630.2 L234.9,629.9 L237.5,629.5 L240.1,629.2 L242.6,628.8 L245.2,628.5 L247.8,628.2 L250.4,627.9 L252.9,627.5 L255.5,627.2 L258.1,626.9 L260.7,626.6 L263.3,626.3 L265.8,626.0 L268.4,625.8 L271.0,625.5 L273.6,625.2 L276.1,625.0 L278.7,624.7 L281.3,624.4 L283.9,624.2 L286.5,623.9 L289.0,623.7 L291.6,623.5 L294.2,623.3 L296.8,623.0 L299.3,622.8 L301.9,622.6 L304.5,622.4 L307.1,622.2 L309.7,622.0 L312.2,621.9 L314.8,621.7 L317.4,621.5 L320.0,621.3 L322.5,621.2 L325.1,621.0 L327.7,620.9 L330.3,620.8 L332.9,620.6 L335.4,620.5 L338.0,620.4 L340.6,620.3 L343.2,620.2 L345.7,620.1 L348.3,620.0 L350.9,619.9 L353.5,619.8 L356.1,619.7 L358.6,619.7 L361.2,619.6 L363.8,619.6 L366.4,619.5 L368.9,619.5 L371.5,619.4 L374.1,619.4 L376.7,619.4 L379.3,619.4 L381.8,619.4 L384.4,619.4 L387.0,619.4 L389.6,619.4 L392.1,619.4 L394.7,619.4 L397.3,619.5 L399.9,619.5 L402.5,619.6 L405.0,619.6 L407.6,619.7 L410.2,619.8 L412.8,619.9 L415.3,619.9 L417.9,620.0 M114.3,662.3 L115.2,662.2 L117.4,661.9 L119.6,661.6 L121.8,661.4 L124.1,661.1 L126.3,660.8 L128.5,660.5 L130.7,660.3 L133.0,660.0 L135.2,659.7 L137.4,659.4 L139.6,659.2 L141.9,658.9 L144.1,658.6 L146.3,658.4 L148.5,658.1 L150.7,657.8 L153.0,657.6 L155.2,657.3 L157.4,657.0 L159.6,656.8 L161.9,656.5 L164.1,656.3 L166.3,656.0 L168.5,655.7 L170.8,655.5 L173.0,655.2 L175.2,655.0 L177.4,654.7 L179.7,654.5 L181.9,654.2 L184.1,654.0 L186.3,653.7 L188.5,653.5 L190.8,653.2 L193.0,653.0 L195.2,652.7 L197.4,652.5 L199.7,652.3 L201.9,652.0 L204.1,651.8 L206.3,651.6 L208.6,651.3 L210.8,651.1 L213.0,650.9 L215.2,650.7 L217.4,650.4 L219.7,650.2 L221.9,650.0 L224.1,649.8 L226.3,649.6 L228.6,649.4 L230.8,649.2 L233.0,649.0 L235.2,648.8 L237.5,648.6 L239.7,648.4 L241.9,648.3 L244.1,648.1 L246.3,647.9 L248.6,647.7 L250.8,647.6 L253.0,647.4 L255.2,647.3 L257.5,647.1 L259.7,647.0 L261.9,646.8 L264.1,646.7 L266.4,646.5 L268.6,646.4 L270.8,646.3 L273.0,646.1 L275.2,646.0 L277.5,645.9 L279.7,645.8 L281.9,645.7 L284.1,645.6 L286.4,645.5 L288.6,645.4 L290.8,645.3 L293.0,645.2 L295.3,645.1 L297.5,645.0 L299.7,645.0 L301.9,644.9 L304.1,644.8 L306.4,644.7 L308.6,644.7 L310.8,644.6 L313.0,644.6 L315.3,644.5 L317.5,644.5 L319.7,644.4 L321.9,644.4 L324.2,644.4 L326.4,644.4 L328.6,644.3 L330.8,644.3 L333.0,644.3 L335.3,644.3 L337.5,644.3 L339.7,644.3 L341.9,644.3 L344.2,644.3 L346.4,644.3 L348.6,644.3 L350.8,644.4 L353.1,644.4 L355.3,644.4 L357.5,644.5 L359.7,644.5 L362.0,644.5 L364.2,644.6 L366.4,644.7 L368.6,644.7 M105.3,673.4 L106.2,673.3 L108.0,673.2 L109.9,673.0 L111.7,672.8 L113.6,672.7 L115.5,672.5 L117.3,672.3 L119.2,672.2 L121.1,672.0 L122.9,671.8 L124.8,671.7 L126.6,671.5 L128.5,671.4 L130.4,671.2 L132.2,671.0 L134.1,670.9 L135.9,670.7 L137.8,670.5 L139.7,670.4 L141.5,670.2 L143.4,670.1 L145.3,669.9 L147.1,669.8 L149.0,669.6 L150.8,669.4 L152.7,669.3 L154.6,669.1 L156.4,669.0 L158.3,668.8 L160.2,668.7 L162.0,668.5 L163.9,668.4 L165.7,668.2 L167.6,668.1 L169.5,667.9 L171.3,667.8 L173.2,667.6 L175.1,667.5 L176.9,667.3 L178.8,667.2 L180.6,667.0 L182.5,666.9 L184.4,666.8 L186.2,666.6 L188.1,666.5 L189.9,666.4 L191.8,666.2 L193.7,666.1 L195.5,666.0 L197.4,665.8 L199.3,665.7 L201.1,665.6 L203.0,665.5 L204.8,665.4 L206.7,665.2 L208.6,665.1 L210.4,665.0 L212.3,664.9 L214.2,664.8 L216.0,664.7 L217.9,664.6 L219.7,664.5 L221.6,664.4 L223.5,664.3 L225.3,664.2 L227.2,664.1 L229.1,664.0 L230.9,663.9 L232.8,663.9 L234.6,663.8 L236.5,663.7 L238.4,663.6 L240.2,663.5 L242.1,663.5 L244.0,663.4 L245.8,663.3 L247.7,663.3 L249.5,663.2 L251.4,663.2 L253.3,663.1 L255.1,663.0 L257.0,663.0 L258.8,662.9 L260.7,662.9 L262.6,662.9 L264.4,662.8 L266.3,662.8 L268.2,662.7 L270.0,662.7 L271.9,662.7 L273.7,662.6 L275.6,662.6 L277.5,662.6 L279.3,662.6 L281.2,662.6 L283.1,662.5 L284.9,662.5 L286.8,662.5 L288.6,662.5 L290.5,662.5 L292.4,662.5 L294.2,662.5 L296.1,662.5 L298.0,662.5 L299.8,662.5 L301.7,662.5 L303.5,662.5 L305.4,662.6 L307.3,662.6 L309.1,662.6 L311.0,662.6 L312.9,662.7 L314.7,662.7 L316.6,662.7 L318.4,662.8 M96.2,681.1 L97.0,681.0 L98.5,680.9 L100.0,680.8 L101.5,680.7 L102.9,680.6 L104.4,680.5 L105.9,680.4 L107.4,680.4 L108.9,680.3 L110.4,680.2 L111.9,680.1 L113.4,680.0 L114.9,679.9 L116.4,679.8 L117.9,679.7 L119.4,679.6 L120.9,679.5 L122.4,679.5 L123.9,679.4 L125.4,679.3 L126.9,679.2 L128.4,679.1 L129.9,679.0 L131.3,678.9 L132.8,678.8 L134.3,678.8 L135.8,678.7 L137.3,678.6 L138.8,678.5 L140.3,678.4 L141.8,678.3 L143.3,678.2 L144.8,678.2 L146.3,678.1 L147.8,678.0 L149.3,677.9 L150.8,677.8 L152.3,677.8 L153.8,677.7 L155.3,677.6 L156.8,677.5 L158.3,677.4 L159.8,677.4 L161.2,677.3 L162.7,677.2 L164.2,677.1 L165.7,677.1 L167.2,677.0 L168.7,676.9 L170.2,676.9 L171.7,676.8 L173.2,676.7 L174.7,676.6 L176.2,676.6 L177.7,676.5 L179.2,676.5 L180.7,676.4 L182.2,676.3 L183.7,676.3 L185.2,676.2 L186.7,676.2 L188.2,676.1 L189.6,676.1 L191.1,676.0 L192.6,675.9 L194.1,675.9 L195.6,675.8 L197.1,675.8 L198.6,675.8 L200.1,675.7 L201.6,675.7 L203.1,675.6 L204.6,675.6 L206.1,675.5 L207.6,675.5 L209.1,675.5 L210.6,675.4 L212.1,675.4 L213.6,675.4 L215.1,675.3 L216.6,675.3 L218.0,675.3 L219.5,675.2 L221.0,675.2 L222.5,675.2 L224.0,675.2 L225.5,675.2 L227.0,675.1 L228.5,675.1 L230.0,675.1 L231.5,675.1 L233.0,675.1 L234.5,675.1 L236.0,675.0 L237.5,675.0 L239.0,675.0 L240.5,675.0 L242.0,675.0 L243.5,675.0 L245.0,675.0 L246.4,675.0 L247.9,675.0 L249.4,675.0 L250.9,675.0 L252.4,675.0 L253.9,675.0 L255.4,675.0 L256.9,675.0 L258.4,675.0 L259.9,675.1 L261.4,675.1 L262.9,675.1 L264.4,675.1 L265.9,675.1 L267.4,675.1 M82.7,687.3 L83.0,687.3 L84.0,687.3 L84.9,687.3 L85.8,687.2 L86.8,687.2 L87.7,687.2 L88.7,687.1 L89.6,687.1 L90.5,687.1 L91.5,687.0 L92.4,687.0 L93.3,687.0 L94.3,687.0 L95.2,686.9 L96.2,686.9 L97.1,686.9 L98.0,686.8 L99.0,686.8 L99.9,686.8 L100.8,686.8 L101.8,686.7 L102.7,686.7 L103.7,686.7 L104.6,686.6 L105.5,686.6 L106.5,686.6 L107.4,686.5 L108.3,686.5 L109.3,686.5 L110.2,686.5 L111.2,686.4 L112.1,686.4 L113.0,686.4 L114.0,686.3 L114.9,686.3 L115.8,686.3 L116.8,686.3 L117.7,686.2 L118.7,686.2 L119.6,686.2 L120.5,686.2 L121.5,686.1 L122.4,686.1 L123.3,686.1 L124.3,686.1 L125.2,686.0 L126.2,686.0 L127.1,686.0 L128.0,686.0 L129.0,685.9 L129.9,685.9 L130.8,685.9 L131.8,685.9 L132.7,685.8 L133.7,685.8 L134.6,685.8 L135.5,685.8 L136.5,685.8 L137.4,685.7 L138.3,685.7 L139.3,685.7 L140.2,685.7 L141.2,685.7 L142.1,685.7 L143.0,685.6 L144.0,685.6 L144.9,685.6 L145.8,685.6 L146.8,685.6 L147.7,685.6 L148.7,685.5 L149.6,685.5 L150.5,685.5 L151.5,685.5 L152.4,685.5 L153.3,685.5 L154.3,685.5 L155.2,685.5 L156.2,685.4 L157.1,685.4 L158.0,685.4 L159.0,685.4 L159.9,685.4 L160.8,685.4 L161.8,685.4 L162.7,685.4 L163.7,685.4 L164.6,685.4 L165.5,685.4 L166.5,685.4 L167.4,685.3 L168.3,685.3 L169.3,685.3 L170.2,685.3 L171.2,685.3 L172.1,685.3 L173.0,685.3 L174.0,685.3 L174.9,685.3 L175.8,685.3 L176.8,685.3 L177.7,685.3 L178.7,685.3 L179.6,685.3 L180.5,685.3 L181.5,685.3 L182.4,685.3 L183.3,685.3 L184.3,685.3 L185.2,685.3 L186.1,685.3 L187.1,685.4 L188.0,685.4 L189.0,685.4 L189.9,685.4 M77.3,688.6 L77.4,688.6 L78.1,688.6 L78.8,688.6 L79.6,688.6 L80.3,688.5 L81.0,688.5 L81.7,688.5 L82.4,688.5 L83.1,688.5 L83.8,688.5 L84.5,688.4 L85.3,688.4 L86.0,688.4 L86.7,688.4 L87.4,688.4 L88.1,688.3 L88.8,688.3 L89.5,688.3 L90.2,688.3 L91.0,688.3 L91.7,688.3 L92.4,688.2 L93.1,688.2 L93.8,688.2 L94.5,688.2 L95.2,688.2 L95.9,688.2 L96.7,688.1 L97.4,688.1 L98.1,688.1 L98.8,688.1 L99.5,688.1 L100.2,688.1 L100.9,688.0 L101.6,688.0 L102.4,688.0 L103.1,688.0 L103.8,688.0 L104.5,688.0 L105.2,687.9 L105.9,687.9 L106.6,687.9 L107.3,687.9 L108.1,687.9 L108.8,687.9 L109.5,687.9 L110.2,687.8 L110.9,687.8 L111.6,687.8 L112.3,687.8 L113.0,687.8 L113.8,687.8 L114.5,687.8 L115.2,687.7 L115.9,687.7 L116.6,687.7 L117.3,687.7 L118.0,687.7 L118.7,687.7 L119.5,687.7 L120.2,687.7 L120.9,687.6 L121.6,687.6 L122.3,687.6 L123.0,687.6 L123.7,687.6 L124.4,687.6 L125.2,687.6 L125.9,687.6 L126.6,687.6 L127.3,687.6 L128.0,687.6 L128.7,687.5 L129.4,687.5 L130.1,687.5 L130.9,687.5 L131.6,687.5 L132.3,687.5 L133.0,687.5 L133.7,687.5 L134.4,687.5 L135.1,687.5 L135.8,687.5 L136.6,687.5 L137.3,687.5 L138.0,687.5 L138.7,687.5 L139.4,687.5 L140.1,687.5 L140.8,687.4 L141.5,687.4 L142.3,687.4 L143.0,687.4 L143.7,687.4 L144.4,687.4 L145.1,687.4 L145.8,687.4 L146.5,687.4 L147.2,687.4 L148.0,687.4 L148.7,687.4 L149.4,687.4 L150.1,687.4 L150.8,687.4 L151.5,687.4 L152.2,687.4 L152.9,687.4 L153.7,687.4 L154.4,687.4 L155.1,687.4 L155.8,687.4 L156.5,687.4 L157.2,687.4 L157.9,687.5 L158.6,687.5" stroke="#1c4a80" stroke-width="1.55" fill="none" stroke-linejoin="round"/>
<path d="M59.6,95.4 L61.3,95.6 L63.1,95.9 L64.8,96.2 L66.6,96.5 L68.3,96.8 L70.1,97.1 L71.8,97.5 L73.6,97.9 L75.3,98.3 L77.1,98.7 L78.8,99.1 L80.6,99.6 L82.3,100.0 L84.1,100.5 L85.8,101.0 L87.6,101.6 L89.3,102.1 L91.1,102.7 L92.8,103.2 L94.6,103.8 L96.3,104.4 L98.1,105.0 L99.8,105.6 L101.6,106.3 L103.3,106.9 L105.1,107.6 L105.8,107.9" stroke="#ff00ff" stroke-width=".9" fill="none"/>
<path d="M105.8,107.9 L106.8,108.3 L108.5,109.0 L110.3,109.7 L112.0,110.4 L113.8,111.1 L115.5,111.8 L117.3,112.6 L119.0,113.3 L120.8,114.1 L122.5,114.9 L124.3,115.6 L126.0,116.4 L127.8,117.2 L129.5,118.0 L131.3,118.8 L133.0,119.7 L134.8,120.5 L136.5,121.3 L138.3,122.2 L140.0,123.1 L141.8,123.9 L143.5,124.8 L145.3,125.7 L147.0,126.6 L148.8,127.5 L150.5,128.4 L152.3,129.3 L154.0,130.2 L155.7,131.1 L157.5,132.0 L159.2,133.0 L161.0,133.9 L162.7,134.9 L164.5,135.8 L166.2,136.8 L168.0,137.8 L169.7,138.8 L171.5,139.8 L173.2,140.7 L175.0,141.8 L176.7,142.8 L178.5,143.8 L180.2,144.8 L182.0,145.9 L183.7,146.9 L185.5,148.0 L187.2,149.0 L189.0,150.1 L190.7,151.2 L192.5,152.3 L194.2,153.4 L196.0,154.5 L197.7,155.6 L199.5,156.7 L199.8,157.0 L201.2,158.7 L202.9,160.9 L204.7,163.1 L206.4,165.3 L208.2,167.5 L209.9,169.7 L211.7,172.0 L213.4,174.2 L215.2,176.4 L216.9,178.6 L218.7,180.8 L220.4,183.0 L222.2,185.2 L223.9,187.4 L225.7,189.6 L227.4,191.9 L229.2,194.1 L230.9,196.3 L232.7,198.5 L234.4,200.7 L236.2,202.9 L237.9,205.2 L239.7,207.4 L241.4,209.6 L243.2,211.8 L244.9,214.0 L246.7,216.3 L248.4,218.5 L250.1,220.7 L251.9,222.9 L253.6,225.2 L255.4,227.4 L257.1,229.6 L258.9,231.9 L260.6,234.1 L262.4,236.3 L264.1,238.5 L265.9,240.8 L267.6,243.0 L269.4,245.2 L271.1,247.5 L272.9,249.7 L274.6,251.9 L276.4,254.2 L278.1,256.4 L279.9,258.7 L281.6,260.9 L283.4,263.1 L285.1,265.4 L286.9,267.6 L288.6,269.9 L290.4,272.1 L292.1,274.3 L293.8,276.6 L295.6,278.8 L297.3,281.1 L299.1,283.3 L300.8,285.6 L302.6,287.8" stroke="#ff00ff" stroke-width="1.5" fill="none"/>
<path d="M59.6,646.5 L61.3,645.8 L63.1,645.2 L64.8,644.5 L66.6,643.9 L68.3,643.3 L70.1,642.7 L71.8,642.0 L73.6,641.4 L75.3,640.8 L77.1,640.2 L78.8,639.5 L80.6,638.9 L82.3,638.3 L84.1,637.7 L85.8,637.1 L87.6,636.5 L89.3,635.9 L91.1,635.3 L92.8,634.6 L94.6,634.0 L96.3,633.4 L98.1,632.8 L99.8,632.2 L101.6,631.6 L103.3,631.0 L105.1,630.5 L105.8,630.2 M59.6,653.2 L61.3,652.6 L63.1,652.1 L64.8,651.5 L66.6,651.0 L68.3,650.4 L70.1,649.9 L71.8,649.3 L73.6,648.8 L75.3,648.3 L77.1,647.7 L78.8,647.2 L80.6,646.6 L82.3,646.1 L84.1,645.6 L85.8,645.0 L87.6,644.5 L89.3,644.0 L91.1,643.4 L92.8,642.9 L94.6,642.4 L96.3,641.8 L98.1,641.3 L99.8,640.8 L101.6,640.3 L103.3,639.8 L105.1,639.2 L106.8,638.7 L108.5,638.2 L110.3,637.7 L112.0,637.2 L113.8,636.6 L115.5,636.1 L117.3,635.6 L119.0,635.1 L120.8,634.6 L122.5,634.1 L124.3,633.6 L126.0,633.1 L127.8,632.6 L129.5,632.1 L131.3,631.6 L133.0,631.0 L134.8,630.5 L136.5,630.0 L138.3,629.6 L140.0,629.1 L141.8,628.6 L143.5,628.1 L145.3,627.6 L147.0,627.1 L148.8,626.6 L150.5,626.1 L152.3,625.6 L154.0,625.1 L155.7,624.6 L157.5,624.2 L159.2,623.7 L161.0,623.2 L162.7,622.7 L164.5,622.2 L166.2,621.8 L168.0,621.3 L169.7,620.8 L171.5,620.4 L173.2,619.9 L175.0,619.5 L176.7,619.0 L178.5,618.6 L180.2,618.1 L182.0,617.7 L183.7,617.3 L185.5,616.8 L187.2,616.4 L189.0,616.0 L190.7,615.6 L192.5,615.2 L194.2,614.8 L196.0,614.4 L197.7,614.0 L199.5,613.6 L199.8,613.5 L201.2,613.5 L202.9,613.5 L204.7,613.5 L206.4,613.5 L208.2,613.5 L209.9,613.5 L211.7,613.5 L213.4,613.5 L215.2,613.5 L216.9,613.5 L218.7,613.5 L220.4,613.5 L222.2,613.5 L223.9,613.5 L225.7,613.5 L227.4,613.5 L229.2,613.5 L230.9,613.5 L232.7,613.5 L234.4,613.5 L236.2,613.5 L237.9,613.5 L239.7,613.5 L241.4,613.5 L243.2,613.5 L244.9,613.5 L246.7,613.5 L248.4,613.5 L250.1,613.5 L251.9,613.5 L253.6,613.5 L255.4,613.5 L257.1,613.5 L258.9,613.5 L260.6,613.5 L262.4,613.5 L264.1,613.5 L265.9,613.5 L267.6,613.5 L269.4,613.5 L271.1,613.5 L272.9,613.5 L274.6,613.5 L276.4,613.5 L278.1,613.5 L279.9,613.5 L281.6,613.5 L283.4,613.5 L285.1,613.5 L286.9,613.5 L288.6,613.5 L290.4,613.5 L292.1,613.5 L293.8,613.5 L295.6,613.5 L297.3,613.5 L299.1,613.5 L300.8,613.5 L302.6,613.5" stroke="#ff00ff" stroke-width=".9" fill="none"/>
<path d="M105.8,630.2 L106.8,629.9 L108.5,629.3 L110.3,628.7 L112.0,628.1 L113.8,627.5 L115.5,626.9 L117.3,626.3 L119.0,625.8 L120.8,625.2 L122.5,624.6 L124.3,624.0 L126.0,623.5 L127.8,622.9 L129.5,622.3 L131.3,621.7 L133.0,621.2 L134.8,620.6 L136.5,620.1 L138.3,619.5 L140.0,618.9 L141.8,618.4 L143.5,617.8 L145.3,617.3 L147.0,616.7 L148.8,616.2 L150.5,615.6 L152.3,615.1 L154.0,614.5 L155.7,614.0 L157.5,613.4 L159.2,612.9 L161.0,612.4 L162.7,611.8 L164.5,611.3 L166.2,610.8 L168.0,610.3 L169.7,609.7 L171.5,609.2 L173.2,608.7 L175.0,608.2 L176.7,607.7 L178.5,607.2 L180.2,606.7 L182.0,606.3 L183.7,605.8 L185.5,605.3 L187.2,604.8 L189.0,604.4 L190.7,603.9 L192.5,603.5 L194.2,603.0 L196.0,602.6 L197.7,602.2 L199.5,601.8 L199.8,601.7 L201.2,601.7 L202.9,601.7 L204.7,601.7 L206.4,601.7 L208.2,601.7 L209.9,601.7 L211.7,601.7 L213.4,601.7 L215.2,601.7 L216.9,601.7 L218.7,601.7 L220.4,601.7 L222.2,601.7 L223.9,601.7 L225.7,601.7 L227.4,601.7 L229.2,601.7 L230.9,601.7 L232.7,601.7 L234.4,601.7 L236.2,601.7 L237.9,601.7 L239.7,601.7 L241.4,601.7 L243.2,601.7 L244.9,601.7 L246.7,601.7 L248.4,601.7 L250.1,601.7 L251.9,601.7 L253.6,601.7 L255.4,601.7 L257.1,601.7 L258.9,601.7 L260.6,601.7 L262.4,601.7 L264.1,601.7 L265.9,601.7 L267.6,601.7 L269.4,601.7 L271.1,601.7 L272.9,601.7 L274.6,601.7 L276.4,601.7 L278.1,601.7 L279.9,601.7 L281.6,601.7 L283.4,601.7 L285.1,601.7 L286.9,601.7 L288.6,601.7 L290.4,601.7 L292.1,601.7 L293.8,601.7 L295.6,601.7 L297.3,601.7 L299.1,601.7 L300.8,601.7 L302.6,601.7" stroke="#ff00ff" stroke-width="1.5" fill="none"/>
<path d="M59.9,0V437.5 M593.8,0V437.5 M59.9,458.5V690.5 M593.8,458.5V690.5 M59,458.6H594.7 M59,0.2H594.7" stroke="#6e6e6e" stroke-width="1.6" fill="none"/>
<path d="M55,437.5H598" stroke="#000" stroke-width="1" fill="none"/>
<path d="M55,690.7H598" stroke="#a4a4a4" stroke-width="1.3" fill="none"/>
<path d="M55,403.86H59.6 M55,370.23H59.6 M55,336.59H59.6 M55,302.96H59.6 M55,269.32H59.6 M55,235.68H59.6 M55,202.05H59.6 M55,168.41H59.6 M55,134.78H59.6 M55,101.14H59.6 M55,67.50H59.6 M593.6,403.86H598 M593.6,370.23H598 M593.6,336.59H598 M593.6,302.96H598 M593.6,269.32H598 M593.6,235.68H598 M593.6,202.05H598 M593.6,168.41H598 M593.6,134.78H598 M55,664.75H59.6 M55,639.00H59.6 M55,613.25H59.6 M55,587.50H59.6 M55,561.75H59.6 M55,536.00H59.6 M55,510.25H59.6 M55,484.50H59.6 M593.6,664.75H598 M593.6,639.00H598 M593.6,613.25H598 M593.6,587.50H598 M593.6,561.75H598 M593.6,536.00H598 M593.6,510.25H598 M593.6,484.50H598" stroke="#6a6a6a" stroke-width="1" fill="none"/>
<rect x="415.5" y="0.5" width="178.3" height="17.5" fill="#fff" stroke="#444" stroke-width="1"/>
<text x="420" y="14" font-family="Liberation Sans, Arial, sans-serif" font-size="11" fill="#0a0a14">2 x CMBE TWIN 3-93, 4000 rpm</text>
<g font-family="Liberation Sans, Arial, sans-serif" font-size="11" fill="#0a0a14" stroke="#0a0a14" stroke-width=".2"><text x="50.2" y="441.5" text-anchor="end">0</text><text x="50.2" y="407.9" text-anchor="end">10</text><text x="50.2" y="374.2" text-anchor="end">20</text><text x="50.2" y="340.6" text-anchor="end">30</text><text x="50.2" y="307.0" text-anchor="end">40</text><text x="50.2" y="273.3" text-anchor="end">50</text><text x="50.2" y="239.7" text-anchor="end">60</text><text x="50.2" y="206.0" text-anchor="end">70</text><text x="50.2" y="172.4" text-anchor="end">80</text><text x="50.2" y="138.8" text-anchor="end">90</text><text x="50.2" y="105.1" text-anchor="end">100</text><text x="50.2" y="71.5" text-anchor="end">110</text><text x="601.3" y="441.5">0</text><text x="601.3" y="407.9">10</text><text x="601.3" y="374.2">20</text><text x="601.3" y="340.6">30</text><text x="601.3" y="307.0">40</text><text x="601.3" y="273.3">50</text><text x="601.3" y="239.7">60</text><text x="601.3" y="206.0">70</text><text x="601.3" y="172.4">80</text><text x="601.3" y="138.8">90</text><text x="59.6" y="453.6" text-anchor="middle">0</text><text x="103.6" y="453.6" text-anchor="middle">1</text><text x="147.6" y="453.6" text-anchor="middle">2</text><text x="191.7" y="453.6" text-anchor="middle">3</text><text x="235.7" y="453.6" text-anchor="middle">4</text><text x="279.7" y="453.6" text-anchor="middle">5</text><text x="323.7" y="453.6" text-anchor="middle">6</text><text x="367.7" y="453.6" text-anchor="middle">7</text><text x="411.8" y="453.6" text-anchor="middle">8</text><text x="455.8" y="453.6" text-anchor="middle">9</text><text x="499.8" y="453.6" text-anchor="middle">10</text><text x="549" y="453.6">Q [м³/ч]</text><text x="50.2" y="694.5" text-anchor="end">0.0</text><text x="50.2" y="668.8" text-anchor="end">0.5</text><text x="50.2" y="643.0" text-anchor="end">1.0</text><text x="50.2" y="617.2" text-anchor="end">1.5</text><text x="50.2" y="591.5" text-anchor="end">2.0</text><text x="50.2" y="565.8" text-anchor="end">2.5</text><text x="50.2" y="540.0" text-anchor="end">3.0</text><text x="50.2" y="514.2" text-anchor="end">3.5</text><text x="601.3" y="694.5">0</text><text x="601.3" y="668.8">2</text><text x="601.3" y="643.0">4</text><text x="601.3" y="617.2">6</text><text x="601.3" y="591.5">8</text><text x="601.3" y="565.8">10</text><text x="601.3" y="540.0">12</text><text x="601.3" y="514.2">14</text><text x="32.3" y="9" text-anchor="middle">H</text><text x="32.8" y="23" text-anchor="middle">[м]</text><text x="617.6" y="9" text-anchor="middle">eta</text><text x="617.8" y="22.6" text-anchor="middle">[%]</text><text x="28.5" y="466.6" text-anchor="middle">P</text><text x="29.2" y="480.7" text-anchor="middle">[кВт]</text><text x="625.2" y="467" text-anchor="middle">NPSH</text><text x="625.5" y="481" text-anchor="middle">[м]</text></g>
<text x="378.8" y="510.6" font-family="Liberation Sans, Arial, sans-serif" font-size="11" fill="#1f4e8c" textLength="155.2" lengthAdjust="spacing">P1 (двиг.+преобр-ль частоты)</text>
<text x="527.8" y="547.8" font-family="Liberation Sans, Arial, sans-serif" font-size="11" fill="#1f4e8c">P2</text>
</svg></body></html>
